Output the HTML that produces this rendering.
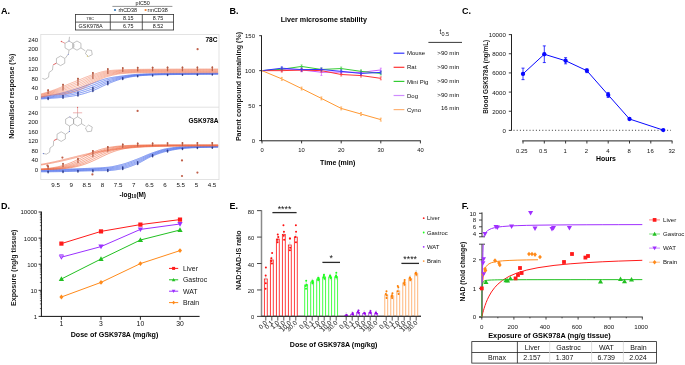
<!DOCTYPE html>
<html><head><meta charset="utf-8"><style>
html,body{margin:0;padding:0;background:#fff;}
body{width:685px;height:365px;overflow:hidden;}
svg{display:block;font-family:"Liberation Sans", sans-serif;will-change:transform;filter:blur(0.3px);}
</style></head><body>
<svg width="685" height="365" viewBox="0 0 685 365">
<defs>
<clipPath id="clipA"><rect x="41" y="34.6" width="177.8" height="144.8"/></clipPath>
<clipPath id="clipFL"><rect x="481" y="244.5" width="170" height="73"/></clipPath>
<clipPath id="clipFU"><rect x="481" y="205" width="170" height="32"/></clipPath>
</defs>
<rect width="685" height="365" fill="#fff"/>
<text x="1" y="14.22" font-size="9" text-anchor="start" font-weight="bold" fill="#000" >A.</text>
<text x="229.4" y="14.22" font-size="9" text-anchor="start" font-weight="bold" fill="#000" >B.</text>
<text x="462" y="14.22" font-size="9" text-anchor="start" font-weight="bold" fill="#000" >C.</text>
<text x="1" y="209.22" font-size="9" text-anchor="start" font-weight="bold" fill="#000" >D.</text>
<text x="229.4" y="209.22" font-size="9" text-anchor="start" font-weight="bold" fill="#000" >E.</text>
<text x="461.7" y="208.72" font-size="9" text-anchor="start" font-weight="bold" fill="#000" >F.</text>
<text x="142.6" y="4.53" font-size="5.4" text-anchor="middle" fill="#111" >pIC50</text>
<line x1="112.4" y1="6.4" x2="172.4" y2="6.4" stroke="#8a8a8a" stroke-width="0.9" />
<circle cx="115" cy="10" r="1.1" fill="#2E75B6"/>
<text x="118.4" y="11.93" font-size="5.4" text-anchor="start" fill="#111" >rhCD38</text>
<circle cx="145.6" cy="10" r="1.1" fill="#ED7D31"/>
<text x="147.6" y="11.93" font-size="5.4" text-anchor="start" fill="#111" >rmCD38</text>
<rect x="75.4" y="14.4" width="98.2" height="15.6" fill="none" stroke="#333" stroke-width="0.8" />
<line x1="75.4" y1="22.1" x2="173.6" y2="22.1" stroke="#333" stroke-width="0.8" />
<line x1="110.3" y1="14.4" x2="110.3" y2="30" stroke="#333" stroke-width="0.8" />
<line x1="142.3" y1="14.4" x2="142.3" y2="30" stroke="#333" stroke-width="0.8" />
<text x="90.2" y="19.7" font-size="4.2" text-anchor="middle" fill="#111" >78C</text>
<text x="90.6" y="27.93" font-size="5.4" text-anchor="middle" fill="#111" >GSK978A</text>
<text x="128.3" y="20.13" font-size="5.4" text-anchor="middle" fill="#111" >8.15</text>
<text x="158" y="20.13" font-size="5.4" text-anchor="middle" fill="#111" >8.75</text>
<text x="128.3" y="27.93" font-size="5.4" text-anchor="middle" fill="#111" >6.75</text>
<text x="158" y="27.93" font-size="5.4" text-anchor="middle" fill="#111" >8.52</text>
<rect x="40.8" y="34.4" width="178.2" height="145.2" fill="none" stroke="#dcdcdc" stroke-width="0.8" />
<line x1="40.8" y1="107.2" x2="219" y2="107.2" stroke="#dcdcdc" stroke-width="0.8" />
<text x="38.2" y="41.75" font-size="6" text-anchor="end" fill="#111" >240</text>
<text x="38.2" y="114.75" font-size="6" text-anchor="end" fill="#111" >240</text>
<text x="38.2" y="51.48" font-size="6" text-anchor="end" fill="#111" >200</text>
<text x="38.2" y="124.25" font-size="6" text-anchor="end" fill="#111" >200</text>
<text x="38.2" y="61.21" font-size="6" text-anchor="end" fill="#111" >160</text>
<text x="38.2" y="133.75" font-size="6" text-anchor="end" fill="#111" >160</text>
<text x="38.2" y="70.95" font-size="6" text-anchor="end" fill="#111" >120</text>
<text x="38.2" y="143.25" font-size="6" text-anchor="end" fill="#111" >120</text>
<text x="38.2" y="80.68" font-size="6" text-anchor="end" fill="#111" >80</text>
<text x="38.2" y="152.75" font-size="6" text-anchor="end" fill="#111" >80</text>
<text x="38.2" y="90.41" font-size="6" text-anchor="end" fill="#111" >40</text>
<text x="38.2" y="162.25" font-size="6" text-anchor="end" fill="#111" >40</text>
<text x="38.2" y="100.15" font-size="6" text-anchor="end" fill="#111" >0</text>
<text x="38.2" y="171.75" font-size="6" text-anchor="end" fill="#111" >0</text>
<text x="55.6" y="187.42" font-size="6.2" text-anchor="middle" fill="#111" >9.5</text>
<text x="71.24" y="187.42" font-size="6.2" text-anchor="middle" fill="#111" >9</text>
<text x="86.88" y="187.42" font-size="6.2" text-anchor="middle" fill="#111" >8.5</text>
<text x="102.52" y="187.42" font-size="6.2" text-anchor="middle" fill="#111" >8</text>
<text x="118.16" y="187.42" font-size="6.2" text-anchor="middle" fill="#111" >7.5</text>
<text x="133.8" y="187.42" font-size="6.2" text-anchor="middle" fill="#111" >7</text>
<text x="149.44" y="187.42" font-size="6.2" text-anchor="middle" fill="#111" >6.5</text>
<text x="165.08" y="187.42" font-size="6.2" text-anchor="middle" fill="#111" >6</text>
<text x="180.72" y="187.42" font-size="6.2" text-anchor="middle" fill="#111" >5.5</text>
<text x="196.36" y="187.42" font-size="6.2" text-anchor="middle" fill="#111" >5</text>
<text x="212" y="187.42" font-size="6.2" text-anchor="middle" fill="#111" >4.5</text>
<text x="132.8" y="196.69" font-size="6.4" text-anchor="middle" font-weight="bold" fill="#000" >-log<tspan font-size="4.6" dy="1.6">10</tspan><tspan dy="-1.6">(M)</tspan></text>
<text x="14.04" y="96.2" font-size="7.1" text-anchor="middle" font-weight="bold" fill="#1a1a1a" transform="rotate(-90 14.04 96.2)">Normalised response (%)</text>
<text x="217.5" y="42.16" font-size="6.6" text-anchor="end" font-weight="bold" fill="#000" >78C</text>
<text x="218.5" y="123.16" font-size="6.6" text-anchor="end" font-weight="bold" fill="#000" >GSK978A</text>
<g clip-path="url(#clipA)">
<path d="M41.10,98.98 L41.85,98.94 L42.60,98.89 L43.35,98.84 L44.10,98.79 L44.85,98.74 L45.60,98.69 L46.35,98.64 L47.10,98.59 L47.85,98.54 L48.60,98.48 L49.35,98.43 L50.10,98.37 L50.85,98.32 L51.60,98.26 L52.35,98.20 L53.10,98.15 L53.85,98.09 L54.60,98.03 L55.35,97.97 L56.10,97.91 L56.85,97.86 L57.60,97.80 L58.35,97.73 L59.10,97.67 L59.85,97.61 L60.60,97.54 L61.35,97.47 L62.10,97.39 L62.85,97.31 L63.60,97.23 L64.35,97.15 L65.10,97.06 L65.85,96.97 L66.60,96.88 L67.35,96.78 L68.10,96.69 L68.85,96.59 L69.60,96.48 L70.35,96.38 L71.10,96.27 L71.85,96.16 L72.60,96.04 L73.35,95.92 L74.10,95.79 L74.85,95.67 L75.60,95.53 L76.35,95.40 L77.10,95.26 L77.85,95.11 L78.60,94.96 L79.35,94.79 L80.10,94.62 L80.85,94.43 L81.60,94.24 L82.35,94.04 L83.10,93.83 L83.85,93.62 L84.60,93.40 L85.35,93.17 L86.10,92.94 L86.85,92.70 L87.60,92.45 L88.35,92.20 L89.10,91.95 L89.85,91.69 L90.60,91.43 L91.35,91.17 L92.10,90.91 L92.85,90.64 L93.60,90.35 L94.35,90.05 L95.10,89.73 L95.85,89.40 L96.60,89.06 L97.35,88.71 L98.10,88.36 L98.85,87.99 L99.60,87.63 L100.35,87.26 L101.10,86.89 L101.85,86.52 L102.60,86.16 L103.35,85.80 L104.10,85.44 L104.85,85.09 L105.60,84.76 L106.35,84.43 L107.10,84.12 L107.85,83.82 L108.60,83.52 L109.35,83.22 L110.10,82.92 L110.85,82.62 L111.60,82.32 L112.35,82.02 L113.10,81.73 L113.85,81.44 L114.60,81.16 L115.35,80.88 L116.10,80.61 L116.85,80.35 L117.60,80.09 L118.35,79.84 L119.10,79.61 L119.85,79.38 L120.60,79.17 L121.35,78.96 L122.10,78.78 L122.85,78.59 L123.60,78.41 L124.35,78.24 L125.10,78.06 L125.85,77.89 L126.60,77.73 L127.35,77.56 L128.10,77.41 L128.85,77.25 L129.60,77.10 L130.35,76.96 L131.10,76.83 L131.85,76.70 L132.60,76.57 L133.35,76.46 L134.10,76.35 L134.85,76.25 L135.60,76.15 L136.35,76.07 L137.10,75.99 L137.85,75.92 L138.60,75.85 L139.35,75.78 L140.10,75.72 L140.85,75.65 L141.60,75.59 L142.35,75.53 L143.10,75.48 L143.85,75.42 L144.60,75.37 L145.35,75.32 L146.10,75.28 L146.85,75.23 L147.60,75.19 L148.35,75.15 L149.10,75.12 L149.85,75.08 L150.60,75.05 L151.35,75.02 L152.10,75.00 L152.85,74.97 L153.60,74.95 L154.35,74.92 L155.10,74.90 L155.85,74.88 L156.60,74.86 L157.35,74.84 L158.10,74.82 L158.85,74.80 L159.60,74.78 L160.35,74.77 L161.10,74.75 L161.85,74.73 L162.60,74.72 L163.35,74.71 L164.10,74.69 L164.85,74.68 L165.60,74.66 L166.35,74.65 L167.10,74.64 L167.85,74.63 L168.60,74.62 L169.35,74.61 L170.10,74.60 L170.85,74.59 L171.60,74.58 L172.35,74.57 L173.10,74.56 L173.85,74.55 L174.60,74.54 L175.35,74.53 L176.10,74.52 L176.85,74.51 L177.60,74.50 L178.35,74.50 L179.10,74.49 L179.85,74.48 L180.60,74.47 L181.35,74.46 L182.10,74.45 L182.85,74.44 L183.60,74.43 L184.35,74.42 L185.10,74.42 L185.85,74.41 L186.60,74.40 L187.35,74.39 L188.10,74.38 L188.85,74.38 L189.60,74.37 L190.35,74.36 L191.10,74.35 L191.85,74.35 L192.60,74.34 L193.35,74.33 L194.10,74.32 L194.85,74.32 L195.60,74.31 L196.35,74.30 L197.10,74.30 L197.85,74.29 L198.60,74.29 L199.35,74.28 L200.10,74.28 L200.85,74.27 L201.60,74.26 L202.35,74.26 L203.10,74.25 L203.85,74.25 L204.60,74.24 L205.35,74.24 L206.10,74.24 L206.85,74.23 L207.60,74.23 L208.35,74.23 L209.10,74.22 L209.85,74.22 L210.60,74.22 L211.35,74.21 L212.10,74.21 L212.85,74.21 L213.60,74.21 L214.35,74.20 L215.10,74.20 L215.85,74.20 L216.60,74.20 L217.35,74.20 L218.10,74.20" fill="none" stroke="#5877EE" stroke-width="0.8" opacity="1.0"/>
<path d="M41.10,98.43 L41.85,98.37 L42.60,98.32 L43.35,98.26 L44.10,98.20 L44.85,98.13 L45.60,98.07 L46.35,98.00 L47.10,97.93 L47.85,97.87 L48.60,97.80 L49.35,97.72 L50.10,97.65 L50.85,97.58 L51.60,97.50 L52.35,97.43 L53.10,97.35 L53.85,97.27 L54.60,97.19 L55.35,97.11 L56.10,97.03 L56.85,96.95 L57.60,96.86 L58.35,96.77 L59.10,96.68 L59.85,96.59 L60.60,96.49 L61.35,96.39 L62.10,96.29 L62.85,96.18 L63.60,96.07 L64.35,95.96 L65.10,95.84 L65.85,95.73 L66.60,95.61 L67.35,95.48 L68.10,95.36 L68.85,95.23 L69.60,95.10 L70.35,94.97 L71.10,94.83 L71.85,94.69 L72.60,94.55 L73.35,94.40 L74.10,94.25 L74.85,94.10 L75.60,93.94 L76.35,93.78 L77.10,93.62 L77.85,93.45 L78.60,93.27 L79.35,93.09 L80.10,92.89 L80.85,92.69 L81.60,92.48 L82.35,92.27 L83.10,92.05 L83.85,91.82 L84.60,91.59 L85.35,91.35 L86.10,91.11 L86.85,90.86 L87.60,90.61 L88.35,90.36 L89.10,90.10 L89.85,89.84 L90.60,89.58 L91.35,89.32 L92.10,89.06 L92.85,88.79 L93.60,88.51 L94.35,88.21 L95.10,87.91 L95.85,87.59 L96.60,87.27 L97.35,86.94 L98.10,86.60 L98.85,86.26 L99.60,85.92 L100.35,85.57 L101.10,85.23 L101.85,84.89 L102.60,84.55 L103.35,84.22 L104.10,83.90 L104.85,83.58 L105.60,83.28 L106.35,82.99 L107.10,82.71 L107.85,82.44 L108.60,82.18 L109.35,81.91 L110.10,81.65 L110.85,81.39 L111.60,81.13 L112.35,80.87 L113.10,80.62 L113.85,80.37 L114.60,80.13 L115.35,79.89 L116.10,79.66 L116.85,79.44 L117.60,79.22 L118.35,79.01 L119.10,78.80 L119.85,78.61 L120.60,78.42 L121.35,78.24 L122.10,78.08 L122.85,77.92 L123.60,77.76 L124.35,77.60 L125.10,77.45 L125.85,77.30 L126.60,77.15 L127.35,77.00 L128.10,76.86 L128.85,76.72 L129.60,76.59 L130.35,76.47 L131.10,76.34 L131.85,76.23 L132.60,76.12 L133.35,76.01 L134.10,75.91 L134.85,75.82 L135.60,75.74 L136.35,75.66 L137.10,75.59 L137.85,75.53 L138.60,75.46 L139.35,75.40 L140.10,75.34 L140.85,75.29 L141.60,75.23 L142.35,75.18 L143.10,75.13 L143.85,75.09 L144.60,75.04 L145.35,75.00 L146.10,74.95 L146.85,74.92 L147.60,74.88 L148.35,74.84 L149.10,74.81 L149.85,74.78 L150.60,74.75 L151.35,74.72 L152.10,74.70 L152.85,74.67 L153.60,74.65 L154.35,74.63 L155.10,74.60 L155.85,74.58 L156.60,74.56 L157.35,74.54 L158.10,74.52 L158.85,74.50 L159.60,74.49 L160.35,74.47 L161.10,74.45 L161.85,74.43 L162.60,74.42 L163.35,74.40 L164.10,74.39 L164.85,74.38 L165.60,74.36 L166.35,74.35 L167.10,74.34 L167.85,74.33 L168.60,74.32 L169.35,74.31 L170.10,74.30 L170.85,74.29 L171.60,74.28 L172.35,74.27 L173.10,74.26 L173.85,74.26 L174.60,74.25 L175.35,74.24 L176.10,74.23 L176.85,74.22 L177.60,74.21 L178.35,74.21 L179.10,74.20 L179.85,74.19 L180.60,74.18 L181.35,74.17 L182.10,74.17 L182.85,74.16 L183.60,74.15 L184.35,74.14 L185.10,74.14 L185.85,74.13 L186.60,74.12 L187.35,74.12 L188.10,74.11 L188.85,74.10 L189.60,74.10 L190.35,74.09 L191.10,74.08 L191.85,74.08 L192.60,74.07 L193.35,74.06 L194.10,74.06 L194.85,74.05 L195.60,74.05 L196.35,74.04 L197.10,74.03 L197.85,74.03 L198.60,74.02 L199.35,74.02 L200.10,74.01 L200.85,74.01 L201.60,74.00 L202.35,74.00 L203.10,74.00 L203.85,73.99 L204.60,73.99 L205.35,73.98 L206.10,73.98 L206.85,73.98 L207.60,73.97 L208.35,73.97 L209.10,73.97 L209.85,73.97 L210.60,73.96 L211.35,73.96 L212.10,73.96 L212.85,73.96 L213.60,73.96 L214.35,73.95 L215.10,73.95 L215.85,73.95 L216.60,73.95 L217.35,73.95 L218.10,73.95" fill="none" stroke="#5877EE" stroke-width="0.8" opacity="1.0"/>
<path d="M41.10,97.87 L41.85,97.81 L42.60,97.74 L43.35,97.67 L44.10,97.60 L44.85,97.52 L45.60,97.44 L46.35,97.36 L47.10,97.28 L47.85,97.20 L48.60,97.11 L49.35,97.02 L50.10,96.93 L50.85,96.84 L51.60,96.74 L52.35,96.65 L53.10,96.55 L53.85,96.45 L54.60,96.35 L55.35,96.25 L56.10,96.15 L56.85,96.04 L57.60,95.93 L58.35,95.81 L59.10,95.69 L59.85,95.57 L60.60,95.44 L61.35,95.31 L62.10,95.18 L62.85,95.05 L63.60,94.91 L64.35,94.77 L65.10,94.63 L65.85,94.48 L66.60,94.34 L67.35,94.18 L68.10,94.03 L68.85,93.88 L69.60,93.72 L70.35,93.56 L71.10,93.39 L71.85,93.22 L72.60,93.05 L73.35,92.88 L74.10,92.71 L74.85,92.53 L75.60,92.35 L76.35,92.16 L77.10,91.98 L77.85,91.78 L78.60,91.59 L79.35,91.38 L80.10,91.17 L80.85,90.95 L81.60,90.73 L82.35,90.50 L83.10,90.26 L83.85,90.02 L84.60,89.78 L85.35,89.53 L86.10,89.28 L86.85,89.02 L87.60,88.77 L88.35,88.51 L89.10,88.25 L89.85,87.99 L90.60,87.73 L91.35,87.47 L92.10,87.20 L92.85,86.94 L93.60,86.67 L94.35,86.38 L95.10,86.09 L95.85,85.78 L96.60,85.48 L97.35,85.16 L98.10,84.84 L98.85,84.53 L99.60,84.21 L100.35,83.89 L101.10,83.57 L101.85,83.26 L102.60,82.95 L103.35,82.65 L104.10,82.35 L104.85,82.07 L105.60,81.80 L106.35,81.54 L107.10,81.29 L107.85,81.06 L108.60,80.83 L109.35,80.60 L110.10,80.38 L110.85,80.16 L111.60,79.94 L112.35,79.72 L113.10,79.51 L113.85,79.31 L114.60,79.10 L115.35,78.91 L116.10,78.71 L116.85,78.53 L117.60,78.34 L118.35,78.17 L119.10,78.00 L119.85,77.83 L120.60,77.68 L121.35,77.52 L122.10,77.38 L122.85,77.24 L123.60,77.10 L124.35,76.97 L125.10,76.83 L125.85,76.70 L126.60,76.57 L127.35,76.44 L128.10,76.32 L128.85,76.20 L129.60,76.08 L130.35,75.97 L131.10,75.86 L131.85,75.76 L132.60,75.66 L133.35,75.56 L134.10,75.48 L134.85,75.40 L135.60,75.32 L136.35,75.25 L137.10,75.19 L137.85,75.13 L138.60,75.08 L139.35,75.03 L140.10,74.97 L140.85,74.93 L141.60,74.88 L142.35,74.83 L143.10,74.79 L143.85,74.75 L144.60,74.71 L145.35,74.67 L146.10,74.63 L146.85,74.60 L147.60,74.56 L148.35,74.53 L149.10,74.50 L149.85,74.47 L150.60,74.45 L151.35,74.42 L152.10,74.40 L152.85,74.37 L153.60,74.35 L154.35,74.33 L155.10,74.31 L155.85,74.29 L156.60,74.26 L157.35,74.24 L158.10,74.22 L158.85,74.20 L159.60,74.19 L160.35,74.17 L161.10,74.15 L161.85,74.13 L162.60,74.12 L163.35,74.10 L164.10,74.09 L164.85,74.07 L165.60,74.06 L166.35,74.05 L167.10,74.04 L167.85,74.03 L168.60,74.02 L169.35,74.01 L170.10,74.00 L170.85,73.99 L171.60,73.98 L172.35,73.98 L173.10,73.97 L173.85,73.96 L174.60,73.95 L175.35,73.95 L176.10,73.94 L176.85,73.93 L177.60,73.92 L178.35,73.92 L179.10,73.91 L179.85,73.90 L180.60,73.90 L181.35,73.89 L182.10,73.88 L182.85,73.88 L183.60,73.87 L184.35,73.86 L185.10,73.86 L185.85,73.85 L186.60,73.85 L187.35,73.84 L188.10,73.83 L188.85,73.83 L189.60,73.82 L190.35,73.82 L191.10,73.81 L191.85,73.81 L192.60,73.80 L193.35,73.79 L194.10,73.79 L194.85,73.78 L195.60,73.78 L196.35,73.78 L197.10,73.77 L197.85,73.77 L198.60,73.76 L199.35,73.76 L200.10,73.75 L200.85,73.75 L201.60,73.75 L202.35,73.74 L203.10,73.74 L203.85,73.74 L204.60,73.73 L205.35,73.73 L206.10,73.73 L206.85,73.72 L207.60,73.72 L208.35,73.72 L209.10,73.72 L209.85,73.71 L210.60,73.71 L211.35,73.71 L212.10,73.71 L212.85,73.71 L213.60,73.70 L214.35,73.70 L215.10,73.70 L215.85,73.70 L216.60,73.70 L217.35,73.70 L218.10,73.70" fill="none" stroke="#5877EE" stroke-width="0.8" opacity="1.0"/>
<path d="M41.10,97.32 L41.85,97.25 L42.60,97.17 L43.35,97.09 L44.10,97.00 L44.85,96.91 L45.60,96.82 L46.35,96.72 L47.10,96.63 L47.85,96.53 L48.60,96.42 L49.35,96.32 L50.10,96.21 L50.85,96.10 L51.60,95.98 L52.35,95.87 L53.10,95.75 L53.85,95.63 L54.60,95.51 L55.35,95.39 L56.10,95.27 L56.85,95.13 L57.60,94.99 L58.35,94.85 L59.10,94.70 L59.85,94.55 L60.60,94.40 L61.35,94.24 L62.10,94.08 L62.85,93.92 L63.60,93.75 L64.35,93.58 L65.10,93.41 L65.85,93.24 L66.60,93.06 L67.35,92.89 L68.10,92.70 L68.85,92.52 L69.60,92.33 L70.35,92.14 L71.10,91.95 L71.85,91.76 L72.60,91.56 L73.35,91.36 L74.10,91.16 L74.85,90.96 L75.60,90.75 L76.35,90.55 L77.10,90.33 L77.85,90.12 L78.60,89.90 L79.35,89.68 L80.10,89.45 L80.85,89.21 L81.60,88.97 L82.35,88.72 L83.10,88.47 L83.85,88.22 L84.60,87.97 L85.35,87.71 L86.10,87.45 L86.85,87.19 L87.60,86.93 L88.35,86.66 L89.10,86.40 L89.85,86.14 L90.60,85.87 L91.35,85.61 L92.10,85.35 L92.85,85.09 L93.60,84.82 L94.35,84.55 L95.10,84.26 L95.85,83.98 L96.60,83.68 L97.35,83.39 L98.10,83.09 L98.85,82.79 L99.60,82.49 L100.35,82.20 L101.10,81.91 L101.85,81.62 L102.60,81.35 L103.35,81.07 L104.10,80.81 L104.85,80.56 L105.60,80.32 L106.35,80.09 L107.10,79.88 L107.85,79.68 L108.60,79.49 L109.35,79.30 L110.10,79.11 L110.85,78.93 L111.60,78.75 L112.35,78.58 L113.10,78.41 L113.85,78.24 L114.60,78.08 L115.35,77.92 L116.10,77.77 L116.85,77.62 L117.60,77.47 L118.35,77.33 L119.10,77.19 L119.85,77.06 L120.60,76.93 L121.35,76.80 L122.10,76.68 L122.85,76.57 L123.60,76.45 L124.35,76.33 L125.10,76.22 L125.85,76.10 L126.60,75.99 L127.35,75.88 L128.10,75.77 L128.85,75.67 L129.60,75.57 L130.35,75.47 L131.10,75.38 L131.85,75.29 L132.60,75.20 L133.35,75.12 L134.10,75.04 L134.85,74.97 L135.60,74.91 L136.35,74.85 L137.10,74.79 L137.85,74.74 L138.60,74.70 L139.35,74.65 L140.10,74.60 L140.85,74.56 L141.60,74.52 L142.35,74.48 L143.10,74.44 L143.85,74.41 L144.60,74.37 L145.35,74.34 L146.10,74.31 L146.85,74.28 L147.60,74.25 L148.35,74.22 L149.10,74.19 L149.85,74.17 L150.60,74.14 L151.35,74.12 L152.10,74.10 L152.85,74.07 L153.60,74.05 L154.35,74.03 L155.10,74.01 L155.85,73.99 L156.60,73.97 L157.35,73.95 L158.10,73.93 L158.85,73.91 L159.60,73.89 L160.35,73.87 L161.10,73.85 L161.85,73.83 L162.60,73.82 L163.35,73.80 L164.10,73.79 L164.85,73.77 L165.60,73.76 L166.35,73.75 L167.10,73.73 L167.85,73.72 L168.60,73.71 L169.35,73.71 L170.10,73.70 L170.85,73.69 L171.60,73.69 L172.35,73.68 L173.10,73.67 L173.85,73.67 L174.60,73.66 L175.35,73.65 L176.10,73.65 L176.85,73.64 L177.60,73.63 L178.35,73.63 L179.10,73.62 L179.85,73.62 L180.60,73.61 L181.35,73.61 L182.10,73.60 L182.85,73.59 L183.60,73.59 L184.35,73.58 L185.10,73.58 L185.85,73.57 L186.60,73.57 L187.35,73.56 L188.10,73.56 L188.85,73.55 L189.60,73.55 L190.35,73.54 L191.10,73.54 L191.85,73.53 L192.60,73.53 L193.35,73.53 L194.10,73.52 L194.85,73.52 L195.60,73.51 L196.35,73.51 L197.10,73.51 L197.85,73.50 L198.60,73.50 L199.35,73.50 L200.10,73.49 L200.85,73.49 L201.60,73.49 L202.35,73.48 L203.10,73.48 L203.85,73.48 L204.60,73.48 L205.35,73.47 L206.10,73.47 L206.85,73.47 L207.60,73.47 L208.35,73.46 L209.10,73.46 L209.85,73.46 L210.60,73.46 L211.35,73.46 L212.10,73.46 L212.85,73.45 L213.60,73.45 L214.35,73.45 L215.10,73.45 L215.85,73.45 L216.60,73.45 L217.35,73.45 L218.10,73.45" fill="none" stroke="#5877EE" stroke-width="0.8" opacity="1.0"/>
<path d="M41.10,96.77 L41.85,96.68 L42.60,96.60 L43.35,96.50 L44.10,96.40 L44.85,96.30 L45.60,96.20 L46.35,96.09 L47.10,95.97 L47.85,95.86 L48.60,95.74 L49.35,95.61 L50.10,95.48 L50.85,95.36 L51.60,95.22 L52.35,95.09 L53.10,94.95 L53.85,94.82 L54.60,94.68 L55.35,94.53 L56.10,94.38 L56.85,94.22 L57.60,94.06 L58.35,93.89 L59.10,93.71 L59.85,93.53 L60.60,93.35 L61.35,93.16 L62.10,92.97 L62.85,92.79 L63.60,92.59 L64.35,92.40 L65.10,92.20 L65.85,92.00 L66.60,91.79 L67.35,91.59 L68.10,91.38 L68.85,91.16 L69.60,90.95 L70.35,90.73 L71.10,90.51 L71.85,90.29 L72.60,90.07 L73.35,89.85 L74.10,89.62 L74.85,89.39 L75.60,89.16 L76.35,88.93 L77.10,88.69 L77.85,88.46 L78.60,88.22 L79.35,87.97 L80.10,87.72 L80.85,87.47 L81.60,87.21 L82.35,86.95 L83.10,86.69 L83.85,86.42 L84.60,86.16 L85.35,85.89 L86.10,85.62 L86.85,85.35 L87.60,85.08 L88.35,84.82 L89.10,84.55 L89.85,84.28 L90.60,84.02 L91.35,83.76 L92.10,83.50 L92.85,83.25 L93.60,82.98 L94.35,82.72 L95.10,82.44 L95.85,82.17 L96.60,81.89 L97.35,81.61 L98.10,81.33 L98.85,81.06 L99.60,80.78 L100.35,80.51 L101.10,80.25 L101.85,79.99 L102.60,79.74 L103.35,79.50 L104.10,79.27 L104.85,79.05 L105.60,78.84 L106.35,78.65 L107.10,78.47 L107.85,78.30 L108.60,78.14 L109.35,77.99 L110.10,77.84 L110.85,77.70 L111.60,77.56 L112.35,77.43 L113.10,77.30 L113.85,77.17 L114.60,77.05 L115.35,76.93 L116.10,76.82 L116.85,76.71 L117.60,76.60 L118.35,76.49 L119.10,76.39 L119.85,76.28 L120.60,76.18 L121.35,76.08 L122.10,75.99 L122.85,75.89 L123.60,75.79 L124.35,75.70 L125.10,75.60 L125.85,75.51 L126.60,75.41 L127.35,75.32 L128.10,75.23 L128.85,75.14 L129.60,75.05 L130.35,74.97 L131.10,74.89 L131.85,74.82 L132.60,74.74 L133.35,74.67 L134.10,74.61 L134.85,74.55 L135.60,74.49 L136.35,74.44 L137.10,74.39 L137.85,74.35 L138.60,74.31 L139.35,74.27 L140.10,74.23 L140.85,74.20 L141.60,74.16 L142.35,74.13 L143.10,74.10 L143.85,74.07 L144.60,74.04 L145.35,74.01 L146.10,73.99 L146.85,73.96 L147.60,73.93 L148.35,73.91 L149.10,73.89 L149.85,73.86 L150.60,73.84 L151.35,73.82 L152.10,73.80 L152.85,73.78 L153.60,73.75 L154.35,73.73 L155.10,73.71 L155.85,73.69 L156.60,73.67 L157.35,73.65 L158.10,73.63 L158.85,73.61 L159.60,73.59 L160.35,73.57 L161.10,73.55 L161.85,73.53 L162.60,73.52 L163.35,73.50 L164.10,73.48 L164.85,73.47 L165.60,73.46 L166.35,73.44 L167.10,73.43 L167.85,73.42 L168.60,73.41 L169.35,73.41 L170.10,73.40 L170.85,73.39 L171.60,73.39 L172.35,73.38 L173.10,73.38 L173.85,73.37 L174.60,73.37 L175.35,73.36 L176.10,73.36 L176.85,73.35 L177.60,73.35 L178.35,73.34 L179.10,73.34 L179.85,73.33 L180.60,73.33 L181.35,73.32 L182.10,73.32 L182.85,73.31 L183.60,73.31 L184.35,73.30 L185.10,73.30 L185.85,73.29 L186.60,73.29 L187.35,73.29 L188.10,73.28 L188.85,73.28 L189.60,73.28 L190.35,73.27 L191.10,73.27 L191.85,73.26 L192.60,73.26 L193.35,73.26 L194.10,73.25 L194.85,73.25 L195.60,73.25 L196.35,73.25 L197.10,73.24 L197.85,73.24 L198.60,73.24 L199.35,73.23 L200.10,73.23 L200.85,73.23 L201.60,73.23 L202.35,73.22 L203.10,73.22 L203.85,73.22 L204.60,73.22 L205.35,73.22 L206.10,73.21 L206.85,73.21 L207.60,73.21 L208.35,73.21 L209.10,73.21 L209.85,73.21 L210.60,73.21 L211.35,73.21 L212.10,73.20 L212.85,73.20 L213.60,73.20 L214.35,73.20 L215.10,73.20 L215.85,73.20 L216.60,73.20 L217.35,73.20 L218.10,73.20" fill="none" stroke="#5877EE" stroke-width="0.8" opacity="1.0"/>
<path d="M41.10,97.51 L41.85,97.29 L42.60,97.07 L43.35,96.86 L44.10,96.66 L44.85,96.47 L45.60,96.28 L46.35,96.10 L47.10,95.93 L47.85,95.77 L48.60,95.62 L49.35,95.47 L50.10,95.34 L50.85,95.21 L51.60,95.10 L52.35,94.99 L53.10,94.89 L53.85,94.81 L54.60,94.74 L55.35,94.67 L56.10,94.62 L56.85,94.58 L57.60,94.54 L58.35,94.51 L59.10,94.48 L59.85,94.44 L60.60,94.40 L61.35,94.35 L62.10,94.29 L62.85,94.22 L63.60,94.13 L64.35,94.02 L65.10,93.90 L65.85,93.77 L66.60,93.63 L67.35,93.47 L68.10,93.30 L68.85,93.13 L69.60,92.94 L70.35,92.74 L71.10,92.54 L71.85,92.33 L72.60,92.11 L73.35,91.88 L74.10,91.65 L74.85,91.42 L75.60,91.18 L76.35,90.94 L77.10,90.70 L77.85,90.45 L78.60,90.17 L79.35,89.87 L80.10,89.54 L80.85,89.19 L81.60,88.83 L82.35,88.44 L83.10,88.05 L83.85,87.64 L84.60,87.22 L85.35,86.80 L86.10,86.38 L86.85,85.95 L87.60,85.52 L88.35,85.10 L89.10,84.69 L89.85,84.28 L90.60,83.89 L91.35,83.50 L92.10,83.14 L92.85,82.79 L93.60,82.44 L94.35,82.08 L95.10,81.72 L95.85,81.36 L96.60,81.00 L97.35,80.64 L98.10,80.29 L98.85,79.93 L99.60,79.59 L100.35,79.25 L101.10,78.91 L101.85,78.59 L102.60,78.28 L103.35,77.98 L104.10,77.69 L104.85,77.41 L105.60,77.15 L106.35,76.91 L107.10,76.68 L107.85,76.48 L108.60,76.27 L109.35,76.07 L110.10,75.87 L110.85,75.67 L111.60,75.48 L112.35,75.29 L113.10,75.11 L113.85,74.94 L114.60,74.77 L115.35,74.61 L116.10,74.46 L116.85,74.31 L117.60,74.18 L118.35,74.05 L119.10,73.94 L119.85,73.83 L120.60,73.74 L121.35,73.66 L122.10,73.59 L122.85,73.53 L123.60,73.47 L124.35,73.41 L125.10,73.35 L125.85,73.29 L126.60,73.23 L127.35,73.18 L128.10,73.13 L128.85,73.08 L129.60,73.03 L130.35,72.99 L131.10,72.95 L131.85,72.92 L132.60,72.89 L133.35,72.86 L134.10,72.84 L134.85,72.82 L135.60,72.81 L136.35,72.80 L137.10,72.80 L137.85,72.80 L138.60,72.80 L139.35,72.80 L140.10,72.80 L140.85,72.80 L141.60,72.80 L142.35,72.80 L143.10,72.80 L143.85,72.80 L144.60,72.80 L145.35,72.80 L146.10,72.80 L146.85,72.80 L147.60,72.80 L148.35,72.80 L149.10,72.80 L149.85,72.80 L150.60,72.80 L151.35,72.80 L152.10,72.80 L152.85,72.80 L153.60,72.80 L154.35,72.80 L155.10,72.80 L155.85,72.80 L156.60,72.80 L157.35,72.80 L158.10,72.80 L158.85,72.80 L159.60,72.80 L160.35,72.80 L161.10,72.80 L161.85,72.80 L162.60,72.80 L163.35,72.80 L164.10,72.80 L164.85,72.80 L165.60,72.80 L166.35,72.80 L167.10,72.80 L167.85,72.80 L168.60,72.80 L169.35,72.80 L170.10,72.80 L170.85,72.80 L171.60,72.80 L172.35,72.80 L173.10,72.80 L173.85,72.80 L174.60,72.80 L175.35,72.80 L176.10,72.80 L176.85,72.80 L177.60,72.80 L178.35,72.80 L179.10,72.80 L179.85,72.80 L180.60,72.80 L181.35,72.80 L182.10,72.80 L182.85,72.80 L183.60,72.80 L184.35,72.80 L185.10,72.80 L185.85,72.80 L186.60,72.80 L187.35,72.80 L188.10,72.80 L188.85,72.80 L189.60,72.80 L190.35,72.80 L191.10,72.80 L191.85,72.80 L192.60,72.80 L193.35,72.80 L194.10,72.80 L194.85,72.80 L195.60,72.80 L196.35,72.80 L197.10,72.80 L197.85,72.80 L198.60,72.80 L199.35,72.80 L200.10,72.80 L200.85,72.80 L201.60,72.80 L202.35,72.80 L203.10,72.80 L203.85,72.80 L204.60,72.80 L205.35,72.80 L206.10,72.80 L206.85,72.80 L207.60,72.80 L208.35,72.80 L209.10,72.80 L209.85,72.80 L210.60,72.80 L211.35,72.80 L212.10,72.80 L212.85,72.80 L213.60,72.80 L214.35,72.80 L215.10,72.80 L215.85,72.80 L216.60,72.80 L217.35,72.80 L218.10,72.80" fill="none" stroke="#F2734F" stroke-width="0.65" opacity="0.8"/>
<path d="M41.10,96.91 L41.85,96.70 L42.60,96.48 L43.35,96.28 L44.10,96.07 L44.85,95.88 L45.60,95.68 L46.35,95.50 L47.10,95.32 L47.85,95.14 L48.60,94.98 L49.35,94.82 L50.10,94.66 L50.85,94.52 L51.60,94.38 L52.35,94.25 L53.10,94.12 L53.85,94.01 L54.60,93.90 L55.35,93.81 L56.10,93.72 L56.85,93.63 L57.60,93.55 L58.35,93.47 L59.10,93.39 L59.85,93.31 L60.60,93.23 L61.35,93.14 L62.10,93.04 L62.85,92.92 L63.60,92.80 L64.35,92.66 L65.10,92.51 L65.85,92.35 L66.60,92.18 L67.35,92.00 L68.10,91.81 L68.85,91.61 L69.60,91.40 L70.35,91.19 L71.10,90.97 L71.85,90.74 L72.60,90.51 L73.35,90.27 L74.10,90.03 L74.85,89.79 L75.60,89.54 L76.35,89.29 L77.10,89.03 L77.85,88.78 L78.60,88.50 L79.35,88.19 L80.10,87.87 L80.85,87.53 L81.60,87.17 L82.35,86.80 L83.10,86.42 L83.85,86.03 L84.60,85.63 L85.35,85.23 L86.10,84.83 L86.85,84.42 L87.60,84.02 L88.35,83.62 L89.10,83.23 L89.85,82.84 L90.60,82.47 L91.35,82.11 L92.10,81.77 L92.85,81.43 L93.60,81.10 L94.35,80.76 L95.10,80.42 L95.85,80.08 L96.60,79.74 L97.35,79.40 L98.10,79.07 L98.85,78.73 L99.60,78.41 L100.35,78.09 L101.10,77.77 L101.85,77.47 L102.60,77.18 L103.35,76.90 L104.10,76.63 L104.85,76.37 L105.60,76.14 L106.35,75.91 L107.10,75.71 L107.85,75.52 L108.60,75.34 L109.35,75.16 L110.10,74.98 L110.85,74.80 L111.60,74.63 L112.35,74.47 L113.10,74.31 L113.85,74.15 L114.60,74.01 L115.35,73.86 L116.10,73.73 L116.85,73.60 L117.60,73.48 L118.35,73.37 L119.10,73.27 L119.85,73.18 L120.60,73.09 L121.35,73.02 L122.10,72.96 L122.85,72.90 L123.60,72.85 L124.35,72.79 L125.10,72.74 L125.85,72.68 L126.60,72.63 L127.35,72.59 L128.10,72.54 L128.85,72.50 L129.60,72.45 L130.35,72.42 L131.10,72.38 L131.85,72.35 L132.60,72.32 L133.35,72.30 L134.10,72.27 L134.85,72.26 L135.60,72.24 L136.35,72.24 L137.10,72.23 L137.85,72.23 L138.60,72.23 L139.35,72.23 L140.10,72.23 L140.85,72.23 L141.60,72.22 L142.35,72.22 L143.10,72.22 L143.85,72.22 L144.60,72.22 L145.35,72.22 L146.10,72.22 L146.85,72.22 L147.60,72.21 L148.35,72.21 L149.10,72.21 L149.85,72.21 L150.60,72.21 L151.35,72.21 L152.10,72.21 L152.85,72.21 L153.60,72.21 L154.35,72.21 L155.10,72.20 L155.85,72.20 L156.60,72.20 L157.35,72.20 L158.10,72.20 L158.85,72.20 L159.60,72.20 L160.35,72.20 L161.10,72.20 L161.85,72.20 L162.60,72.20 L163.35,72.20 L164.10,72.20 L164.85,72.20 L165.60,72.20 L166.35,72.19 L167.10,72.19 L167.85,72.19 L168.60,72.19 L169.35,72.19 L170.10,72.19 L170.85,72.19 L171.60,72.19 L172.35,72.19 L173.10,72.19 L173.85,72.19 L174.60,72.19 L175.35,72.19 L176.10,72.19 L176.85,72.19 L177.60,72.19 L178.35,72.18 L179.10,72.18 L179.85,72.18 L180.60,72.18 L181.35,72.18 L182.10,72.18 L182.85,72.18 L183.60,72.18 L184.35,72.18 L185.10,72.18 L185.85,72.18 L186.60,72.18 L187.35,72.18 L188.10,72.18 L188.85,72.18 L189.60,72.18 L190.35,72.18 L191.10,72.18 L191.85,72.18 L192.60,72.18 L193.35,72.17 L194.10,72.17 L194.85,72.17 L195.60,72.17 L196.35,72.17 L197.10,72.17 L197.85,72.17 L198.60,72.17 L199.35,72.17 L200.10,72.17 L200.85,72.17 L201.60,72.17 L202.35,72.17 L203.10,72.17 L203.85,72.17 L204.60,72.17 L205.35,72.17 L206.10,72.17 L206.85,72.17 L207.60,72.17 L208.35,72.17 L209.10,72.17 L209.85,72.17 L210.60,72.17 L211.35,72.17 L212.10,72.17 L212.85,72.17 L213.60,72.17 L214.35,72.17 L215.10,72.17 L215.85,72.17 L216.60,72.17 L217.35,72.17 L218.10,72.17" fill="none" stroke="#F2734F" stroke-width="0.65" opacity="0.8"/>
<path d="M41.10,96.31 L41.85,96.10 L42.60,95.89 L43.35,95.69 L44.10,95.48 L44.85,95.28 L45.60,95.08 L46.35,94.89 L47.10,94.70 L47.85,94.52 L48.60,94.33 L49.35,94.16 L50.10,93.99 L50.85,93.82 L51.60,93.66 L52.35,93.50 L53.10,93.35 L53.85,93.21 L54.60,93.07 L55.35,92.94 L56.10,92.81 L56.85,92.69 L57.60,92.56 L58.35,92.44 L59.10,92.31 L59.85,92.19 L60.60,92.06 L61.35,91.92 L62.10,91.78 L62.85,91.63 L63.60,91.47 L64.35,91.30 L65.10,91.12 L65.85,90.93 L66.60,90.73 L67.35,90.53 L68.10,90.31 L68.85,90.09 L69.60,89.87 L70.35,89.64 L71.10,89.40 L71.85,89.16 L72.60,88.91 L73.35,88.66 L74.10,88.41 L74.85,88.15 L75.60,87.89 L76.35,87.63 L77.10,87.37 L77.85,87.11 L78.60,86.82 L79.35,86.52 L80.10,86.20 L80.85,85.86 L81.60,85.52 L82.35,85.16 L83.10,84.79 L83.85,84.42 L84.60,84.04 L85.35,83.66 L86.10,83.28 L86.85,82.89 L87.60,82.51 L88.35,82.14 L89.10,81.77 L89.85,81.41 L90.60,81.06 L91.35,80.72 L92.10,80.39 L92.85,80.08 L93.60,79.76 L94.35,79.44 L95.10,79.12 L95.85,78.80 L96.60,78.48 L97.35,78.16 L98.10,77.84 L98.85,77.53 L99.60,77.23 L100.35,76.93 L101.10,76.63 L101.85,76.35 L102.60,76.08 L103.35,75.82 L104.10,75.57 L104.85,75.34 L105.60,75.12 L106.35,74.92 L107.10,74.73 L107.85,74.57 L108.60,74.40 L109.35,74.25 L110.10,74.09 L110.85,73.94 L111.60,73.79 L112.35,73.64 L113.10,73.50 L113.85,73.37 L114.60,73.24 L115.35,73.12 L116.10,73.00 L116.85,72.89 L117.60,72.79 L118.35,72.69 L119.10,72.60 L119.85,72.52 L120.60,72.45 L121.35,72.38 L122.10,72.33 L122.85,72.27 L123.60,72.22 L124.35,72.17 L125.10,72.13 L125.85,72.08 L126.60,72.03 L127.35,71.99 L128.10,71.95 L128.85,71.91 L129.60,71.87 L130.35,71.84 L131.10,71.81 L131.85,71.78 L132.60,71.75 L133.35,71.73 L134.10,71.71 L134.85,71.69 L135.60,71.68 L136.35,71.67 L137.10,71.67 L137.85,71.66 L138.60,71.66 L139.35,71.66 L140.10,71.65 L140.85,71.65 L141.60,71.65 L142.35,71.64 L143.10,71.64 L143.85,71.64 L144.60,71.64 L145.35,71.63 L146.10,71.63 L146.85,71.63 L147.60,71.63 L148.35,71.63 L149.10,71.62 L149.85,71.62 L150.60,71.62 L151.35,71.62 L152.10,71.62 L152.85,71.61 L153.60,71.61 L154.35,71.61 L155.10,71.61 L155.85,71.61 L156.60,71.61 L157.35,71.60 L158.10,71.60 L158.85,71.60 L159.60,71.60 L160.35,71.60 L161.10,71.60 L161.85,71.60 L162.60,71.60 L163.35,71.59 L164.10,71.59 L164.85,71.59 L165.60,71.59 L166.35,71.59 L167.10,71.59 L167.85,71.59 L168.60,71.59 L169.35,71.58 L170.10,71.58 L170.85,71.58 L171.60,71.58 L172.35,71.58 L173.10,71.58 L173.85,71.58 L174.60,71.58 L175.35,71.57 L176.10,71.57 L176.85,71.57 L177.60,71.57 L178.35,71.57 L179.10,71.57 L179.85,71.57 L180.60,71.57 L181.35,71.57 L182.10,71.56 L182.85,71.56 L183.60,71.56 L184.35,71.56 L185.10,71.56 L185.85,71.56 L186.60,71.56 L187.35,71.56 L188.10,71.56 L188.85,71.55 L189.60,71.55 L190.35,71.55 L191.10,71.55 L191.85,71.55 L192.60,71.55 L193.35,71.55 L194.10,71.55 L194.85,71.55 L195.60,71.55 L196.35,71.55 L197.10,71.55 L197.85,71.54 L198.60,71.54 L199.35,71.54 L200.10,71.54 L200.85,71.54 L201.60,71.54 L202.35,71.54 L203.10,71.54 L203.85,71.54 L204.60,71.54 L205.35,71.54 L206.10,71.54 L206.85,71.54 L207.60,71.54 L208.35,71.54 L209.10,71.54 L209.85,71.54 L210.60,71.54 L211.35,71.53 L212.10,71.53 L212.85,71.53 L213.60,71.53 L214.35,71.53 L215.10,71.53 L215.85,71.53 L216.60,71.53 L217.35,71.53 L218.10,71.53" fill="none" stroke="#F2734F" stroke-width="0.65" opacity="0.8"/>
<path d="M41.10,95.72 L41.85,95.51 L42.60,95.30 L43.35,95.10 L44.10,94.89 L44.85,94.69 L45.60,94.49 L46.35,94.28 L47.10,94.08 L47.85,93.89 L48.60,93.69 L49.35,93.50 L50.10,93.31 L50.85,93.12 L51.60,92.94 L52.35,92.76 L53.10,92.58 L53.85,92.41 L54.60,92.24 L55.35,92.07 L56.10,91.91 L56.85,91.74 L57.60,91.57 L58.35,91.41 L59.10,91.23 L59.85,91.06 L60.60,90.89 L61.35,90.71 L62.10,90.53 L62.85,90.34 L63.60,90.14 L64.35,89.94 L65.10,89.73 L65.85,89.51 L66.60,89.29 L67.35,89.06 L68.10,88.82 L68.85,88.58 L69.60,88.33 L70.35,88.08 L71.10,87.83 L71.85,87.57 L72.60,87.31 L73.35,87.05 L74.10,86.78 L74.85,86.52 L75.60,86.25 L76.35,85.98 L77.10,85.71 L77.85,85.43 L78.60,85.15 L79.35,84.84 L80.10,84.53 L80.85,84.20 L81.60,83.86 L82.35,83.52 L83.10,83.17 L83.85,82.81 L84.60,82.45 L85.35,82.09 L86.10,81.73 L86.85,81.36 L87.60,81.01 L88.35,80.65 L89.10,80.31 L89.85,79.97 L90.60,79.64 L91.35,79.32 L92.10,79.02 L92.85,78.72 L93.60,78.43 L94.35,78.13 L95.10,77.83 L95.85,77.52 L96.60,77.22 L97.35,76.92 L98.10,76.62 L98.85,76.33 L99.60,76.04 L100.35,75.76 L101.10,75.49 L101.85,75.23 L102.60,74.98 L103.35,74.74 L104.10,74.51 L104.85,74.30 L105.60,74.10 L106.35,73.92 L107.10,73.76 L107.85,73.61 L108.60,73.47 L109.35,73.33 L110.10,73.20 L110.85,73.07 L111.60,72.94 L112.35,72.82 L113.10,72.70 L113.85,72.58 L114.60,72.47 L115.35,72.37 L116.10,72.27 L116.85,72.18 L117.60,72.09 L118.35,72.01 L119.10,71.93 L119.85,71.86 L120.60,71.80 L121.35,71.74 L122.10,71.69 L122.85,71.65 L123.60,71.60 L124.35,71.56 L125.10,71.52 L125.85,71.48 L126.60,71.44 L127.35,71.40 L128.10,71.36 L128.85,71.33 L129.60,71.29 L130.35,71.26 L131.10,71.23 L131.85,71.21 L132.60,71.18 L133.35,71.16 L134.10,71.14 L134.85,71.13 L135.60,71.12 L136.35,71.11 L137.10,71.10 L137.85,71.09 L138.60,71.09 L139.35,71.08 L140.10,71.08 L140.85,71.08 L141.60,71.07 L142.35,71.07 L143.10,71.06 L143.85,71.06 L144.60,71.06 L145.35,71.05 L146.10,71.05 L146.85,71.05 L147.60,71.04 L148.35,71.04 L149.10,71.04 L149.85,71.03 L150.60,71.03 L151.35,71.03 L152.10,71.02 L152.85,71.02 L153.60,71.02 L154.35,71.02 L155.10,71.01 L155.85,71.01 L156.60,71.01 L157.35,71.01 L158.10,71.01 L158.85,71.00 L159.60,71.00 L160.35,71.00 L161.10,71.00 L161.85,71.00 L162.60,70.99 L163.35,70.99 L164.10,70.99 L164.85,70.99 L165.60,70.99 L166.35,70.98 L167.10,70.98 L167.85,70.98 L168.60,70.98 L169.35,70.98 L170.10,70.97 L170.85,70.97 L171.60,70.97 L172.35,70.97 L173.10,70.97 L173.85,70.96 L174.60,70.96 L175.35,70.96 L176.10,70.96 L176.85,70.96 L177.60,70.96 L178.35,70.95 L179.10,70.95 L179.85,70.95 L180.60,70.95 L181.35,70.95 L182.10,70.95 L182.85,70.94 L183.60,70.94 L184.35,70.94 L185.10,70.94 L185.85,70.94 L186.60,70.94 L187.35,70.93 L188.10,70.93 L188.85,70.93 L189.60,70.93 L190.35,70.93 L191.10,70.93 L191.85,70.93 L192.60,70.93 L193.35,70.92 L194.10,70.92 L194.85,70.92 L195.60,70.92 L196.35,70.92 L197.10,70.92 L197.85,70.92 L198.60,70.92 L199.35,70.91 L200.10,70.91 L200.85,70.91 L201.60,70.91 L202.35,70.91 L203.10,70.91 L203.85,70.91 L204.60,70.91 L205.35,70.91 L206.10,70.91 L206.85,70.91 L207.60,70.91 L208.35,70.90 L209.10,70.90 L209.85,70.90 L210.60,70.90 L211.35,70.90 L212.10,70.90 L212.85,70.90 L213.60,70.90 L214.35,70.90 L215.10,70.90 L215.85,70.90 L216.60,70.90 L217.35,70.90 L218.10,70.90" fill="none" stroke="#F2734F" stroke-width="0.65" opacity="0.8"/>
<path d="M41.10,95.12 L41.85,94.92 L42.60,94.71 L43.35,94.51 L44.10,94.30 L44.85,94.09 L45.60,93.89 L46.35,93.68 L47.10,93.47 L47.85,93.26 L48.60,93.05 L49.35,92.84 L50.10,92.63 L50.85,92.42 L51.60,92.22 L52.35,92.01 L53.10,91.81 L53.85,91.61 L54.60,91.41 L55.35,91.21 L56.10,91.00 L56.85,90.80 L57.60,90.59 L58.35,90.37 L59.10,90.15 L59.85,89.93 L60.60,89.71 L61.35,89.49 L62.10,89.27 L62.85,89.04 L63.60,88.81 L64.35,88.58 L65.10,88.34 L65.85,88.09 L66.60,87.84 L67.35,87.58 L68.10,87.32 L68.85,87.06 L69.60,86.80 L70.35,86.53 L71.10,86.26 L71.85,85.99 L72.60,85.71 L73.35,85.44 L74.10,85.16 L74.85,84.88 L75.60,84.60 L76.35,84.32 L77.10,84.04 L77.85,83.76 L78.60,83.47 L79.35,83.17 L80.10,82.86 L80.85,82.54 L81.60,82.21 L82.35,81.88 L83.10,81.54 L83.85,81.20 L84.60,80.86 L85.35,80.52 L86.10,80.17 L86.85,79.84 L87.60,79.50 L88.35,79.17 L89.10,78.85 L89.85,78.53 L90.60,78.23 L91.35,77.93 L92.10,77.64 L92.85,77.37 L93.60,77.09 L94.35,76.81 L95.10,76.53 L95.85,76.24 L96.60,75.96 L97.35,75.68 L98.10,75.40 L98.85,75.13 L99.60,74.86 L100.35,74.60 L101.10,74.35 L101.85,74.11 L102.60,73.88 L103.35,73.66 L104.10,73.45 L104.85,73.26 L105.60,73.08 L106.35,72.93 L107.10,72.78 L107.85,72.66 L108.60,72.54 L109.35,72.42 L110.10,72.31 L110.85,72.20 L111.60,72.09 L112.35,71.99 L113.10,71.89 L113.85,71.80 L114.60,71.71 L115.35,71.62 L116.10,71.54 L116.85,71.47 L117.60,71.39 L118.35,71.33 L119.10,71.26 L119.85,71.20 L120.60,71.15 L121.35,71.10 L122.10,71.06 L122.85,71.02 L123.60,70.98 L124.35,70.94 L125.10,70.91 L125.85,70.87 L126.60,70.84 L127.35,70.80 L128.10,70.77 L128.85,70.74 L129.60,70.71 L130.35,70.69 L131.10,70.66 L131.85,70.64 L132.60,70.61 L133.35,70.60 L134.10,70.58 L134.85,70.56 L135.60,70.55 L136.35,70.54 L137.10,70.53 L137.85,70.53 L138.60,70.52 L139.35,70.51 L140.10,70.51 L140.85,70.50 L141.60,70.50 L142.35,70.49 L143.10,70.48 L143.85,70.48 L144.60,70.47 L145.35,70.47 L146.10,70.46 L146.85,70.46 L147.60,70.46 L148.35,70.45 L149.10,70.45 L149.85,70.44 L150.60,70.44 L151.35,70.44 L152.10,70.43 L152.85,70.43 L153.60,70.43 L154.35,70.42 L155.10,70.42 L155.85,70.42 L156.60,70.41 L157.35,70.41 L158.10,70.41 L158.85,70.40 L159.60,70.40 L160.35,70.40 L161.10,70.40 L161.85,70.39 L162.60,70.39 L163.35,70.39 L164.10,70.39 L164.85,70.38 L165.60,70.38 L166.35,70.38 L167.10,70.38 L167.85,70.37 L168.60,70.37 L169.35,70.37 L170.10,70.37 L170.85,70.36 L171.60,70.36 L172.35,70.36 L173.10,70.36 L173.85,70.35 L174.60,70.35 L175.35,70.35 L176.10,70.35 L176.85,70.34 L177.60,70.34 L178.35,70.34 L179.10,70.34 L179.85,70.33 L180.60,70.33 L181.35,70.33 L182.10,70.33 L182.85,70.33 L183.60,70.32 L184.35,70.32 L185.10,70.32 L185.85,70.32 L186.60,70.32 L187.35,70.31 L188.10,70.31 L188.85,70.31 L189.60,70.31 L190.35,70.31 L191.10,70.30 L191.85,70.30 L192.60,70.30 L193.35,70.30 L194.10,70.30 L194.85,70.30 L195.60,70.29 L196.35,70.29 L197.10,70.29 L197.85,70.29 L198.60,70.29 L199.35,70.29 L200.10,70.28 L200.85,70.28 L201.60,70.28 L202.35,70.28 L203.10,70.28 L203.85,70.28 L204.60,70.28 L205.35,70.28 L206.10,70.28 L206.85,70.27 L207.60,70.27 L208.35,70.27 L209.10,70.27 L209.85,70.27 L210.60,70.27 L211.35,70.27 L212.10,70.27 L212.85,70.27 L213.60,70.27 L214.35,70.27 L215.10,70.27 L215.85,70.27 L216.60,70.27 L217.35,70.27 L218.10,70.27" fill="none" stroke="#F2734F" stroke-width="0.65" opacity="0.8"/>
<path d="M41.10,94.52 L41.85,94.32 L42.60,94.12 L43.35,93.92 L44.10,93.71 L44.85,93.50 L45.60,93.29 L46.35,93.07 L47.10,92.85 L47.85,92.63 L48.60,92.41 L49.35,92.18 L50.10,91.96 L50.85,91.73 L51.60,91.50 L52.35,91.27 L53.10,91.04 L53.85,90.81 L54.60,90.57 L55.35,90.34 L56.10,90.10 L56.85,89.85 L57.60,89.60 L58.35,89.34 L59.10,89.07 L59.85,88.81 L60.60,88.54 L61.35,88.28 L62.10,88.02 L62.85,87.75 L63.60,87.48 L64.35,87.22 L65.10,86.94 L65.85,86.67 L66.60,86.39 L67.35,86.11 L68.10,85.83 L68.85,85.55 L69.60,85.26 L70.35,84.98 L71.10,84.69 L71.85,84.40 L72.60,84.11 L73.35,83.83 L74.10,83.54 L74.85,83.25 L75.60,82.96 L76.35,82.67 L77.10,82.38 L77.85,82.09 L78.60,81.80 L79.35,81.49 L80.10,81.18 L80.85,80.87 L81.60,80.55 L82.35,80.23 L83.10,79.91 L83.85,79.59 L84.60,79.27 L85.35,78.94 L86.10,78.62 L86.85,78.31 L87.60,78.00 L88.35,77.69 L89.10,77.39 L89.85,77.10 L90.60,76.81 L91.35,76.53 L92.10,76.27 L92.85,76.01 L93.60,75.75 L94.35,75.49 L95.10,75.23 L95.85,74.96 L96.60,74.70 L97.35,74.44 L98.10,74.18 L98.85,73.93 L99.60,73.68 L100.35,73.44 L101.10,73.21 L101.85,72.99 L102.60,72.78 L103.35,72.58 L104.10,72.39 L104.85,72.22 L105.60,72.07 L106.35,71.93 L107.10,71.81 L107.85,71.71 L108.60,71.61 L109.35,71.51 L110.10,71.42 L110.85,71.33 L111.60,71.25 L112.35,71.17 L113.10,71.09 L113.85,71.01 L114.60,70.94 L115.35,70.88 L116.10,70.81 L116.85,70.75 L117.60,70.70 L118.35,70.64 L119.10,70.59 L119.85,70.55 L120.60,70.50 L121.35,70.46 L122.10,70.43 L122.85,70.39 L123.60,70.36 L124.35,70.33 L125.10,70.30 L125.85,70.27 L126.60,70.24 L127.35,70.21 L128.10,70.18 L128.85,70.16 L129.60,70.13 L130.35,70.11 L131.10,70.09 L131.85,70.07 L132.60,70.05 L133.35,70.03 L134.10,70.01 L134.85,70.00 L135.60,69.99 L136.35,69.97 L137.10,69.97 L137.85,69.96 L138.60,69.95 L139.35,69.94 L140.10,69.93 L140.85,69.93 L141.60,69.92 L142.35,69.91 L143.10,69.91 L143.85,69.90 L144.60,69.89 L145.35,69.89 L146.10,69.88 L146.85,69.88 L147.60,69.87 L148.35,69.86 L149.10,69.86 L149.85,69.85 L150.60,69.85 L151.35,69.84 L152.10,69.84 L152.85,69.84 L153.60,69.83 L154.35,69.83 L155.10,69.82 L155.85,69.82 L156.60,69.82 L157.35,69.81 L158.10,69.81 L158.85,69.81 L159.60,69.80 L160.35,69.80 L161.10,69.80 L161.85,69.79 L162.60,69.79 L163.35,69.79 L164.10,69.78 L164.85,69.78 L165.60,69.78 L166.35,69.77 L167.10,69.77 L167.85,69.77 L168.60,69.76 L169.35,69.76 L170.10,69.76 L170.85,69.75 L171.60,69.75 L172.35,69.75 L173.10,69.74 L173.85,69.74 L174.60,69.74 L175.35,69.74 L176.10,69.73 L176.85,69.73 L177.60,69.73 L178.35,69.72 L179.10,69.72 L179.85,69.72 L180.60,69.72 L181.35,69.71 L182.10,69.71 L182.85,69.71 L183.60,69.70 L184.35,69.70 L185.10,69.70 L185.85,69.70 L186.60,69.69 L187.35,69.69 L188.10,69.69 L188.85,69.69 L189.60,69.68 L190.35,69.68 L191.10,69.68 L191.85,69.68 L192.60,69.68 L193.35,69.67 L194.10,69.67 L194.85,69.67 L195.60,69.67 L196.35,69.66 L197.10,69.66 L197.85,69.66 L198.60,69.66 L199.35,69.66 L200.10,69.66 L200.85,69.65 L201.60,69.65 L202.35,69.65 L203.10,69.65 L203.85,69.65 L204.60,69.65 L205.35,69.65 L206.10,69.64 L206.85,69.64 L207.60,69.64 L208.35,69.64 L209.10,69.64 L209.85,69.64 L210.60,69.64 L211.35,69.64 L212.10,69.64 L212.85,69.64 L213.60,69.64 L214.35,69.63 L215.10,69.63 L215.85,69.63 L216.60,69.63 L217.35,69.63 L218.10,69.63" fill="none" stroke="#F2734F" stroke-width="0.65" opacity="0.8"/>
<path d="M41.10,93.92 L41.85,93.73 L42.60,93.53 L43.35,93.33 L44.10,93.12 L44.85,92.91 L45.60,92.69 L46.35,92.46 L47.10,92.23 L47.85,92.00 L48.60,91.76 L49.35,91.52 L50.10,91.28 L50.85,91.03 L51.60,90.78 L52.35,90.52 L53.10,90.27 L53.85,90.00 L54.60,89.74 L55.35,89.47 L56.10,89.20 L56.85,88.91 L57.60,88.61 L58.35,88.30 L59.10,87.99 L59.85,87.68 L60.60,87.37 L61.35,87.06 L62.10,86.76 L62.85,86.46 L63.60,86.16 L64.35,85.85 L65.10,85.55 L65.85,85.25 L66.60,84.94 L67.35,84.64 L68.10,84.34 L68.85,84.03 L69.60,83.73 L70.35,83.42 L71.10,83.12 L71.85,82.82 L72.60,82.52 L73.35,82.21 L74.10,81.91 L74.85,81.61 L75.60,81.31 L76.35,81.02 L77.10,80.72 L77.85,80.42 L78.60,80.12 L79.35,79.82 L80.10,79.51 L80.85,79.21 L81.60,78.90 L82.35,78.59 L83.10,78.28 L83.85,77.98 L84.60,77.67 L85.35,77.37 L86.10,77.07 L86.85,76.78 L87.60,76.49 L88.35,76.21 L89.10,75.93 L89.85,75.66 L90.60,75.40 L91.35,75.14 L92.10,74.90 L92.85,74.66 L93.60,74.42 L94.35,74.17 L95.10,73.93 L95.85,73.68 L96.60,73.44 L97.35,73.20 L98.10,72.96 L98.85,72.73 L99.60,72.50 L100.35,72.28 L101.10,72.07 L101.85,71.87 L102.60,71.68 L103.35,71.50 L104.10,71.34 L104.85,71.18 L105.60,71.05 L106.35,70.93 L107.10,70.83 L107.85,70.75 L108.60,70.67 L109.35,70.60 L110.10,70.53 L110.85,70.46 L111.60,70.40 L112.35,70.34 L113.10,70.28 L113.85,70.23 L114.60,70.18 L115.35,70.13 L116.10,70.08 L116.85,70.04 L117.60,70.00 L118.35,69.96 L119.10,69.92 L119.85,69.89 L120.60,69.86 L121.35,69.83 L122.10,69.80 L122.85,69.77 L123.60,69.74 L124.35,69.71 L125.10,69.69 L125.85,69.66 L126.60,69.64 L127.35,69.62 L128.10,69.59 L128.85,69.57 L129.60,69.55 L130.35,69.53 L131.10,69.51 L131.85,69.49 L132.60,69.48 L133.35,69.46 L134.10,69.45 L134.85,69.43 L135.60,69.42 L136.35,69.41 L137.10,69.40 L137.85,69.39 L138.60,69.38 L139.35,69.37 L140.10,69.36 L140.85,69.35 L141.60,69.34 L142.35,69.33 L143.10,69.33 L143.85,69.32 L144.60,69.31 L145.35,69.30 L146.10,69.30 L146.85,69.29 L147.60,69.28 L148.35,69.28 L149.10,69.27 L149.85,69.26 L150.60,69.26 L151.35,69.25 L152.10,69.25 L152.85,69.24 L153.60,69.24 L154.35,69.23 L155.10,69.23 L155.85,69.22 L156.60,69.22 L157.35,69.21 L158.10,69.21 L158.85,69.21 L159.60,69.20 L160.35,69.20 L161.10,69.19 L161.85,69.19 L162.60,69.19 L163.35,69.18 L164.10,69.18 L164.85,69.17 L165.60,69.17 L166.35,69.17 L167.10,69.16 L167.85,69.16 L168.60,69.16 L169.35,69.15 L170.10,69.15 L170.85,69.14 L171.60,69.14 L172.35,69.14 L173.10,69.13 L173.85,69.13 L174.60,69.13 L175.35,69.12 L176.10,69.12 L176.85,69.12 L177.60,69.11 L178.35,69.11 L179.10,69.11 L179.85,69.10 L180.60,69.10 L181.35,69.10 L182.10,69.09 L182.85,69.09 L183.60,69.09 L184.35,69.08 L185.10,69.08 L185.85,69.08 L186.60,69.07 L187.35,69.07 L188.10,69.07 L188.85,69.06 L189.60,69.06 L190.35,69.06 L191.10,69.06 L191.85,69.05 L192.60,69.05 L193.35,69.05 L194.10,69.05 L194.85,69.04 L195.60,69.04 L196.35,69.04 L197.10,69.04 L197.85,69.03 L198.60,69.03 L199.35,69.03 L200.10,69.03 L200.85,69.02 L201.60,69.02 L202.35,69.02 L203.10,69.02 L203.85,69.02 L204.60,69.02 L205.35,69.01 L206.10,69.01 L206.85,69.01 L207.60,69.01 L208.35,69.01 L209.10,69.01 L209.85,69.01 L210.60,69.01 L211.35,69.00 L212.10,69.00 L212.85,69.00 L213.60,69.00 L214.35,69.00 L215.10,69.00 L215.85,69.00 L216.60,69.00 L217.35,69.00 L218.10,69.00" fill="none" stroke="#F2734F" stroke-width="0.65" opacity="0.8"/>
<path d="M41.10,171.80 L41.85,171.80 L42.60,171.80 L43.35,171.80 L44.10,171.79 L44.85,171.79 L45.60,171.79 L46.35,171.78 L47.10,171.78 L47.85,171.77 L48.60,171.76 L49.35,171.76 L50.10,171.75 L50.85,171.74 L51.60,171.74 L52.35,171.73 L53.10,171.72 L53.85,171.71 L54.60,171.70 L55.35,171.69 L56.10,171.68 L56.85,171.67 L57.60,171.66 L58.35,171.65 L59.10,171.64 L59.85,171.63 L60.60,171.62 L61.35,171.61 L62.10,171.60 L62.85,171.59 L63.60,171.57 L64.35,171.56 L65.10,171.54 L65.85,171.52 L66.60,171.50 L67.35,171.48 L68.10,171.46 L68.85,171.44 L69.60,171.42 L70.35,171.40 L71.10,171.37 L71.85,171.35 L72.60,171.33 L73.35,171.31 L74.10,171.28 L74.85,171.26 L75.60,171.24 L76.35,171.22 L77.10,171.20 L77.85,171.18 L78.60,171.16 L79.35,171.13 L80.10,171.11 L80.85,171.09 L81.60,171.07 L82.35,171.05 L83.10,171.02 L83.85,171.00 L84.60,170.98 L85.35,170.96 L86.10,170.94 L86.85,170.92 L87.60,170.90 L88.35,170.88 L89.10,170.86 L89.85,170.84 L90.60,170.83 L91.35,170.81 L92.10,170.80 L92.85,170.79 L93.60,170.78 L94.35,170.77 L95.10,170.76 L95.85,170.75 L96.60,170.74 L97.35,170.73 L98.10,170.73 L98.85,170.72 L99.60,170.71 L100.35,170.71 L101.10,170.70 L101.85,170.69 L102.60,170.68 L103.35,170.67 L104.10,170.66 L104.85,170.65 L105.60,170.64 L106.35,170.62 L107.10,170.61 L107.85,170.59 L108.60,170.56 L109.35,170.52 L110.10,170.47 L110.85,170.41 L111.60,170.34 L112.35,170.27 L113.10,170.18 L113.85,170.09 L114.60,170.00 L115.35,169.90 L116.10,169.79 L116.85,169.67 L117.60,169.56 L118.35,169.43 L119.10,169.31 L119.85,169.18 L120.60,169.05 L121.35,168.92 L122.10,168.78 L122.85,168.64 L123.60,168.47 L124.35,168.29 L125.10,168.10 L125.85,167.89 L126.60,167.67 L127.35,167.44 L128.10,167.20 L128.85,166.94 L129.60,166.68 L130.35,166.41 L131.10,166.13 L131.85,165.85 L132.60,165.56 L133.35,165.26 L134.10,164.97 L134.85,164.67 L135.60,164.36 L136.35,164.06 L137.10,163.76 L137.85,163.44 L138.60,163.11 L139.35,162.75 L140.10,162.38 L140.85,162.00 L141.60,161.60 L142.35,161.20 L143.10,160.79 L143.85,160.37 L144.60,159.95 L145.35,159.53 L146.10,159.11 L146.85,158.70 L147.60,158.29 L148.35,157.89 L149.10,157.51 L149.85,157.14 L150.60,156.78 L151.35,156.44 L152.10,156.12 L152.85,155.82 L153.60,155.53 L154.35,155.23 L155.10,154.95 L155.85,154.66 L156.60,154.38 L157.35,154.11 L158.10,153.84 L158.85,153.58 L159.60,153.32 L160.35,153.07 L161.10,152.83 L161.85,152.59 L162.60,152.36 L163.35,152.14 L164.10,151.93 L164.85,151.73 L165.60,151.54 L166.35,151.35 L167.10,151.18 L167.85,151.01 L168.60,150.84 L169.35,150.68 L170.10,150.52 L170.85,150.36 L171.60,150.21 L172.35,150.06 L173.10,149.91 L173.85,149.77 L174.60,149.64 L175.35,149.51 L176.10,149.38 L176.85,149.26 L177.60,149.14 L178.35,149.04 L179.10,148.93 L179.85,148.84 L180.60,148.75 L181.35,148.67 L182.10,148.59 L182.85,148.52 L183.60,148.45 L184.35,148.38 L185.10,148.32 L185.85,148.25 L186.60,148.19 L187.35,148.13 L188.10,148.08 L188.85,148.02 L189.60,147.97 L190.35,147.92 L191.10,147.87 L191.85,147.83 L192.60,147.78 L193.35,147.75 L194.10,147.71 L194.85,147.68 L195.60,147.65 L196.35,147.62 L197.10,147.60 L197.85,147.57 L198.60,147.55 L199.35,147.53 L200.10,147.51 L200.85,147.49 L201.60,147.47 L202.35,147.45 L203.10,147.43 L203.85,147.41 L204.60,147.39 L205.35,147.38 L206.10,147.36 L206.85,147.34 L207.60,147.33 L208.35,147.31 L209.10,147.30 L209.85,147.28 L210.60,147.27 L211.35,147.26 L212.10,147.25 L212.85,147.24 L213.60,147.23 L214.35,147.22 L215.10,147.22 L215.85,147.21 L216.60,147.21 L217.35,147.20 L218.10,147.20" fill="none" stroke="#5877EE" stroke-width="0.8" opacity="1.0"/>
<path d="M41.10,171.25 L41.85,171.25 L42.60,171.24 L43.35,171.24 L44.10,171.23 L44.85,171.23 L45.60,171.22 L46.35,171.21 L47.10,171.21 L47.85,171.20 L48.60,171.19 L49.35,171.18 L50.10,171.17 L50.85,171.17 L51.60,171.16 L52.35,171.15 L53.10,171.14 L53.85,171.13 L54.60,171.12 L55.35,171.10 L56.10,171.09 L56.85,171.08 L57.60,171.07 L58.35,171.06 L59.10,171.05 L59.85,171.03 L60.60,171.02 L61.35,171.01 L62.10,171.00 L62.85,170.99 L63.60,170.97 L64.35,170.96 L65.10,170.94 L65.85,170.92 L66.60,170.90 L67.35,170.88 L68.10,170.86 L68.85,170.84 L69.60,170.82 L70.35,170.80 L71.10,170.77 L71.85,170.75 L72.60,170.73 L73.35,170.71 L74.10,170.68 L74.85,170.66 L75.60,170.64 L76.35,170.62 L77.10,170.60 L77.85,170.58 L78.60,170.55 L79.35,170.53 L80.10,170.51 L80.85,170.49 L81.60,170.46 L82.35,170.44 L83.10,170.41 L83.85,170.39 L84.60,170.37 L85.35,170.34 L86.10,170.32 L86.85,170.30 L87.60,170.27 L88.35,170.25 L89.10,170.23 L89.85,170.21 L90.60,170.19 L91.35,170.17 L92.10,170.15 L92.85,170.13 L93.60,170.11 L94.35,170.10 L95.10,170.08 L95.85,170.07 L96.60,170.05 L97.35,170.04 L98.10,170.02 L98.85,170.01 L99.60,169.99 L100.35,169.98 L101.10,169.96 L101.85,169.95 L102.60,169.93 L103.35,169.91 L104.10,169.89 L104.85,169.87 L105.60,169.84 L106.35,169.82 L107.10,169.79 L107.85,169.75 L108.60,169.71 L109.35,169.66 L110.10,169.60 L110.85,169.52 L111.60,169.44 L112.35,169.35 L113.10,169.26 L113.85,169.15 L114.60,169.04 L115.35,168.92 L116.10,168.80 L116.85,168.67 L117.60,168.54 L118.35,168.40 L119.10,168.26 L119.85,168.12 L120.60,167.98 L121.35,167.83 L122.10,167.68 L122.85,167.52 L123.60,167.35 L124.35,167.16 L125.10,166.96 L125.85,166.74 L126.60,166.52 L127.35,166.28 L128.10,166.03 L128.85,165.77 L129.60,165.51 L130.35,165.24 L131.10,164.96 L131.85,164.67 L132.60,164.39 L133.35,164.09 L134.10,163.80 L134.85,163.50 L135.60,163.20 L136.35,162.91 L137.10,162.61 L137.85,162.30 L138.60,161.98 L139.35,161.63 L140.10,161.28 L140.85,160.91 L141.60,160.53 L142.35,160.15 L143.10,159.76 L143.85,159.37 L144.60,158.97 L145.35,158.57 L146.10,158.18 L146.85,157.79 L147.60,157.41 L148.35,157.03 L149.10,156.66 L149.85,156.31 L150.60,155.97 L151.35,155.65 L152.10,155.34 L152.85,155.05 L153.60,154.77 L154.35,154.48 L155.10,154.20 L155.85,153.93 L156.60,153.65 L157.35,153.38 L158.10,153.12 L158.85,152.86 L159.60,152.61 L160.35,152.36 L161.10,152.12 L161.85,151.89 L162.60,151.67 L163.35,151.46 L164.10,151.25 L164.85,151.05 L165.60,150.87 L166.35,150.69 L167.10,150.53 L167.85,150.37 L168.60,150.21 L169.35,150.06 L170.10,149.91 L170.85,149.76 L171.60,149.62 L172.35,149.48 L173.10,149.35 L173.85,149.22 L174.60,149.09 L175.35,148.97 L176.10,148.85 L176.85,148.74 L177.60,148.64 L178.35,148.54 L179.10,148.44 L179.85,148.36 L180.60,148.28 L181.35,148.21 L182.10,148.14 L182.85,148.08 L183.60,148.02 L184.35,147.96 L185.10,147.91 L185.85,147.85 L186.60,147.80 L187.35,147.75 L188.10,147.70 L188.85,147.66 L189.60,147.61 L190.35,147.57 L191.10,147.53 L191.85,147.49 L192.60,147.46 L193.35,147.42 L194.10,147.39 L194.85,147.37 L195.60,147.34 L196.35,147.32 L197.10,147.30 L197.85,147.28 L198.60,147.26 L199.35,147.24 L200.10,147.22 L200.85,147.20 L201.60,147.19 L202.35,147.17 L203.10,147.15 L203.85,147.14 L204.60,147.12 L205.35,147.10 L206.10,147.09 L206.85,147.08 L207.60,147.06 L208.35,147.05 L209.10,147.04 L209.85,147.02 L210.60,147.01 L211.35,147.00 L212.10,146.99 L212.85,146.98 L213.60,146.98 L214.35,146.97 L215.10,146.96 L215.85,146.96 L216.60,146.96 L217.35,146.95 L218.10,146.95" fill="none" stroke="#5877EE" stroke-width="0.8" opacity="1.0"/>
<path d="M41.10,170.70 L41.85,170.69 L42.60,170.69 L43.35,170.68 L44.10,170.67 L44.85,170.66 L45.60,170.66 L46.35,170.65 L47.10,170.64 L47.85,170.63 L48.60,170.62 L49.35,170.61 L50.10,170.60 L50.85,170.59 L51.60,170.58 L52.35,170.57 L53.10,170.55 L53.85,170.54 L54.60,170.53 L55.35,170.52 L56.10,170.50 L56.85,170.49 L57.60,170.48 L58.35,170.47 L59.10,170.45 L59.85,170.44 L60.60,170.43 L61.35,170.41 L62.10,170.40 L62.85,170.38 L63.60,170.37 L64.35,170.35 L65.10,170.33 L65.85,170.32 L66.60,170.30 L67.35,170.28 L68.10,170.26 L68.85,170.24 L69.60,170.22 L70.35,170.20 L71.10,170.17 L71.85,170.15 L72.60,170.13 L73.35,170.11 L74.10,170.09 L74.85,170.06 L75.60,170.04 L76.35,170.02 L77.10,170.00 L77.85,169.97 L78.60,169.95 L79.35,169.93 L80.10,169.90 L80.85,169.88 L81.60,169.85 L82.35,169.83 L83.10,169.80 L83.85,169.78 L84.60,169.75 L85.35,169.73 L86.10,169.70 L86.85,169.67 L87.60,169.65 L88.35,169.62 L89.10,169.60 L89.85,169.57 L90.60,169.55 L91.35,169.52 L92.10,169.50 L92.85,169.47 L93.60,169.45 L94.35,169.43 L95.10,169.41 L95.85,169.39 L96.60,169.36 L97.35,169.34 L98.10,169.32 L98.85,169.30 L99.60,169.28 L100.35,169.25 L101.10,169.23 L101.85,169.20 L102.60,169.17 L103.35,169.14 L104.10,169.11 L104.85,169.08 L105.60,169.05 L106.35,169.01 L107.10,168.97 L107.85,168.92 L108.60,168.87 L109.35,168.80 L110.10,168.72 L110.85,168.64 L111.60,168.54 L112.35,168.44 L113.10,168.33 L113.85,168.21 L114.60,168.08 L115.35,167.95 L116.10,167.81 L116.85,167.67 L117.60,167.52 L118.35,167.37 L119.10,167.22 L119.85,167.06 L120.60,166.90 L121.35,166.74 L122.10,166.58 L122.85,166.41 L123.60,166.22 L124.35,166.02 L125.10,165.81 L125.85,165.59 L126.60,165.36 L127.35,165.12 L128.10,164.86 L128.85,164.60 L129.60,164.34 L130.35,164.06 L131.10,163.79 L131.85,163.50 L132.60,163.22 L133.35,162.93 L134.10,162.63 L134.85,162.34 L135.60,162.05 L136.35,161.75 L137.10,161.46 L137.85,161.16 L138.60,160.84 L139.35,160.51 L140.10,160.17 L140.85,159.82 L141.60,159.47 L142.35,159.10 L143.10,158.73 L143.85,158.36 L144.60,157.99 L145.35,157.62 L146.10,157.25 L146.85,156.88 L147.60,156.52 L148.35,156.17 L149.10,155.82 L149.85,155.49 L150.60,155.16 L151.35,154.86 L152.10,154.56 L152.85,154.28 L153.60,154.01 L154.35,153.73 L155.10,153.46 L155.85,153.19 L156.60,152.92 L157.35,152.66 L158.10,152.40 L158.85,152.14 L159.60,151.90 L160.35,151.65 L161.10,151.42 L161.85,151.19 L162.60,150.98 L163.35,150.77 L164.10,150.57 L164.85,150.38 L165.60,150.20 L166.35,150.03 L167.10,149.88 L167.85,149.73 L168.60,149.59 L169.35,149.44 L170.10,149.30 L170.85,149.17 L171.60,149.03 L172.35,148.91 L173.10,148.78 L173.85,148.66 L174.60,148.54 L175.35,148.43 L176.10,148.32 L176.85,148.22 L177.60,148.13 L178.35,148.04 L179.10,147.96 L179.85,147.88 L180.60,147.81 L181.35,147.75 L182.10,147.69 L182.85,147.64 L183.60,147.59 L184.35,147.54 L185.10,147.50 L185.85,147.45 L186.60,147.41 L187.35,147.37 L188.10,147.33 L188.85,147.29 L189.60,147.26 L190.35,147.22 L191.10,147.19 L191.85,147.16 L192.60,147.13 L193.35,147.10 L194.10,147.08 L194.85,147.05 L195.60,147.03 L196.35,147.01 L197.10,147.00 L197.85,146.98 L198.60,146.97 L199.35,146.95 L200.10,146.93 L200.85,146.92 L201.60,146.90 L202.35,146.89 L203.10,146.87 L203.85,146.86 L204.60,146.85 L205.35,146.83 L206.10,146.82 L206.85,146.81 L207.60,146.80 L208.35,146.78 L209.10,146.77 L209.85,146.76 L210.60,146.75 L211.35,146.75 L212.10,146.74 L212.85,146.73 L213.60,146.72 L214.35,146.72 L215.10,146.71 L215.85,146.71 L216.60,146.70 L217.35,146.70 L218.10,146.70" fill="none" stroke="#5877EE" stroke-width="0.8" opacity="1.0"/>
<path d="M41.10,170.15 L41.85,170.14 L42.60,170.13 L43.35,170.12 L44.10,170.11 L44.85,170.10 L45.60,170.09 L46.35,170.08 L47.10,170.07 L47.85,170.06 L48.60,170.05 L49.35,170.03 L50.10,170.02 L50.85,170.01 L51.60,170.00 L52.35,169.98 L53.10,169.97 L53.85,169.96 L54.60,169.94 L55.35,169.93 L56.10,169.92 L56.85,169.90 L57.60,169.89 L58.35,169.87 L59.10,169.86 L59.85,169.84 L60.60,169.83 L61.35,169.81 L62.10,169.80 L62.85,169.78 L63.60,169.77 L64.35,169.75 L65.10,169.73 L65.85,169.71 L66.60,169.70 L67.35,169.68 L68.10,169.66 L68.85,169.64 L69.60,169.62 L70.35,169.60 L71.10,169.57 L71.85,169.55 L72.60,169.53 L73.35,169.51 L74.10,169.49 L74.85,169.47 L75.60,169.44 L76.35,169.42 L77.10,169.40 L77.85,169.37 L78.60,169.35 L79.35,169.32 L80.10,169.30 L80.85,169.27 L81.60,169.25 L82.35,169.22 L83.10,169.19 L83.85,169.17 L84.60,169.14 L85.35,169.11 L86.10,169.08 L86.85,169.05 L87.60,169.02 L88.35,168.99 L89.10,168.97 L89.85,168.94 L90.60,168.91 L91.35,168.88 L92.10,168.85 L92.85,168.82 L93.60,168.79 L94.35,168.76 L95.10,168.73 L95.85,168.70 L96.60,168.68 L97.35,168.65 L98.10,168.62 L98.85,168.59 L99.60,168.56 L100.35,168.53 L101.10,168.49 L101.85,168.46 L102.60,168.42 L103.35,168.38 L104.10,168.34 L104.85,168.30 L105.60,168.25 L106.35,168.20 L107.10,168.15 L107.85,168.09 L108.60,168.02 L109.35,167.94 L110.10,167.85 L110.85,167.75 L111.60,167.64 L112.35,167.52 L113.10,167.40 L113.85,167.26 L114.60,167.12 L115.35,166.98 L116.10,166.82 L116.85,166.67 L117.60,166.51 L118.35,166.34 L119.10,166.17 L119.85,166.00 L120.60,165.83 L121.35,165.65 L122.10,165.48 L122.85,165.29 L123.60,165.10 L124.35,164.89 L125.10,164.67 L125.85,164.44 L126.60,164.20 L127.35,163.95 L128.10,163.70 L128.85,163.43 L129.60,163.17 L130.35,162.89 L131.10,162.61 L131.85,162.33 L132.60,162.04 L133.35,161.76 L134.10,161.47 L134.85,161.18 L135.60,160.89 L136.35,160.60 L137.10,160.31 L137.85,160.02 L138.60,159.71 L139.35,159.40 L140.10,159.07 L140.85,158.74 L141.60,158.40 L142.35,158.05 L143.10,157.71 L143.85,157.36 L144.60,157.01 L145.35,156.66 L146.10,156.31 L146.85,155.97 L147.60,155.63 L148.35,155.30 L149.10,154.98 L149.85,154.66 L150.60,154.36 L151.35,154.06 L152.10,153.78 L152.85,153.51 L153.60,153.25 L154.35,152.98 L155.10,152.71 L155.85,152.45 L156.60,152.19 L157.35,151.93 L158.10,151.68 L158.85,151.43 L159.60,151.18 L160.35,150.95 L161.10,150.72 L161.85,150.49 L162.60,150.28 L163.35,150.08 L164.10,149.88 L164.85,149.70 L165.60,149.53 L166.35,149.38 L167.10,149.23 L167.85,149.09 L168.60,148.96 L169.35,148.83 L170.10,148.70 L170.85,148.57 L171.60,148.45 L172.35,148.33 L173.10,148.21 L173.85,148.10 L174.60,148.00 L175.35,147.89 L176.10,147.80 L176.85,147.71 L177.60,147.62 L178.35,147.54 L179.10,147.47 L179.85,147.40 L180.60,147.34 L181.35,147.29 L182.10,147.24 L182.85,147.20 L183.60,147.16 L184.35,147.12 L185.10,147.09 L185.85,147.05 L186.60,147.02 L187.35,146.99 L188.10,146.96 L188.85,146.93 L189.60,146.90 L190.35,146.87 L191.10,146.85 L191.85,146.82 L192.60,146.80 L193.35,146.78 L194.10,146.76 L194.85,146.74 L195.60,146.73 L196.35,146.71 L197.10,146.70 L197.85,146.68 L198.60,146.67 L199.35,146.66 L200.10,146.65 L200.85,146.63 L201.60,146.62 L202.35,146.61 L203.10,146.60 L203.85,146.58 L204.60,146.57 L205.35,146.56 L206.10,146.55 L206.85,146.54 L207.60,146.53 L208.35,146.52 L209.10,146.51 L209.85,146.50 L210.60,146.50 L211.35,146.49 L212.10,146.48 L212.85,146.48 L213.60,146.47 L214.35,146.46 L215.10,146.46 L215.85,146.46 L216.60,146.45 L217.35,146.45 L218.10,146.45" fill="none" stroke="#5877EE" stroke-width="0.8" opacity="1.0"/>
<path d="M41.10,169.60 L41.85,169.58 L42.60,169.57 L43.35,169.56 L44.10,169.55 L44.85,169.54 L45.60,169.53 L46.35,169.51 L47.10,169.50 L47.85,169.49 L48.60,169.47 L49.35,169.46 L50.10,169.45 L50.85,169.43 L51.60,169.42 L52.35,169.40 L53.10,169.39 L53.85,169.37 L54.60,169.36 L55.35,169.34 L56.10,169.33 L56.85,169.31 L57.60,169.30 L58.35,169.28 L59.10,169.26 L59.85,169.25 L60.60,169.23 L61.35,169.21 L62.10,169.20 L62.85,169.18 L63.60,169.16 L64.35,169.15 L65.10,169.13 L65.85,169.11 L66.60,169.09 L67.35,169.07 L68.10,169.05 L68.85,169.04 L69.60,169.02 L70.35,169.00 L71.10,168.98 L71.85,168.95 L72.60,168.93 L73.35,168.91 L74.10,168.89 L74.85,168.87 L75.60,168.84 L76.35,168.82 L77.10,168.80 L77.85,168.77 L78.60,168.75 L79.35,168.72 L80.10,168.70 L80.85,168.67 L81.60,168.64 L82.35,168.61 L83.10,168.58 L83.85,168.55 L84.60,168.52 L85.35,168.49 L86.10,168.46 L86.85,168.43 L87.60,168.40 L88.35,168.37 L89.10,168.33 L89.85,168.30 L90.60,168.27 L91.35,168.23 L92.10,168.20 L92.85,168.16 L93.60,168.13 L94.35,168.09 L95.10,168.06 L95.85,168.02 L96.60,167.99 L97.35,167.95 L98.10,167.92 L98.85,167.88 L99.60,167.84 L100.35,167.80 L101.10,167.76 L101.85,167.71 L102.60,167.67 L103.35,167.62 L104.10,167.56 L104.85,167.51 L105.60,167.45 L106.35,167.39 L107.10,167.33 L107.85,167.26 L108.60,167.18 L109.35,167.08 L110.10,166.98 L110.85,166.87 L111.60,166.74 L112.35,166.61 L113.10,166.47 L113.85,166.32 L114.60,166.17 L115.35,166.00 L116.10,165.84 L116.85,165.67 L117.60,165.49 L118.35,165.31 L119.10,165.13 L119.85,164.94 L120.60,164.75 L121.35,164.56 L122.10,164.37 L122.85,164.18 L123.60,163.97 L124.35,163.75 L125.10,163.52 L125.85,163.29 L126.60,163.04 L127.35,162.79 L128.10,162.53 L128.85,162.26 L129.60,161.99 L130.35,161.72 L131.10,161.44 L131.85,161.16 L132.60,160.87 L133.35,160.59 L134.10,160.30 L134.85,160.02 L135.60,159.73 L136.35,159.44 L137.10,159.16 L137.85,158.88 L138.60,158.58 L139.35,158.28 L140.10,157.97 L140.85,157.65 L141.60,157.33 L142.35,157.01 L143.10,156.68 L143.85,156.36 L144.60,156.03 L145.35,155.70 L146.10,155.38 L146.85,155.06 L147.60,154.75 L148.35,154.44 L149.10,154.13 L149.85,153.84 L150.60,153.55 L151.35,153.27 L152.10,153.00 L152.85,152.75 L153.60,152.49 L154.35,152.23 L155.10,151.97 L155.85,151.71 L156.60,151.46 L157.35,151.20 L158.10,150.95 L158.85,150.71 L159.60,150.47 L160.35,150.24 L161.10,150.01 L161.85,149.79 L162.60,149.59 L163.35,149.39 L164.10,149.20 L164.85,149.03 L165.60,148.87 L166.35,148.72 L167.10,148.58 L167.85,148.46 L168.60,148.33 L169.35,148.21 L170.10,148.09 L170.85,147.97 L171.60,147.86 L172.35,147.75 L173.10,147.65 L173.85,147.55 L174.60,147.45 L175.35,147.36 L176.10,147.27 L176.85,147.19 L177.60,147.11 L178.35,147.04 L179.10,146.98 L179.85,146.92 L180.60,146.87 L181.35,146.83 L182.10,146.80 L182.85,146.76 L183.60,146.73 L184.35,146.71 L185.10,146.68 L185.85,146.65 L186.60,146.63 L187.35,146.60 L188.10,146.58 L188.85,146.56 L189.60,146.54 L190.35,146.52 L191.10,146.51 L191.85,146.49 L192.60,146.47 L193.35,146.46 L194.10,146.45 L194.85,146.43 L195.60,146.42 L196.35,146.41 L197.10,146.40 L197.85,146.39 L198.60,146.38 L199.35,146.37 L200.10,146.36 L200.85,146.35 L201.60,146.34 L202.35,146.33 L203.10,146.32 L203.85,146.31 L204.60,146.30 L205.35,146.29 L206.10,146.28 L206.85,146.27 L207.60,146.27 L208.35,146.26 L209.10,146.25 L209.85,146.24 L210.60,146.24 L211.35,146.23 L212.10,146.23 L212.85,146.22 L213.60,146.22 L214.35,146.21 L215.10,146.21 L215.85,146.21 L216.60,146.20 L217.35,146.20 L218.10,146.20" fill="none" stroke="#5877EE" stroke-width="0.8" opacity="1.0"/>
<polyline points="41.1,169.63 41.85,169.61 42.6,169.6 43.35,169.58 44.1,169.57 44.85,169.55 45.6,169.53 46.35,169.51 47.1,169.49 47.85,169.47 48.6,169.45 49.35,169.43 50.1,169.4 50.85,169.38 51.6,169.35 52.35,169.32 53.1,169.29 53.85,169.25 54.6,169.22 55.35,169.18 56.1,169.14 56.85,169.1 57.6,169.05 58.35,169 59.1,168.95 59.85,168.9 60.6,168.84 61.35,168.78 62.1,168.72 62.85,168.65 63.6,168.58 64.35,168.51 65.1,168.43 65.85,168.35 66.6,168.26 67.35,168.17 68.1,168.07 68.85,167.97 69.6,167.86 70.35,167.75 71.1,167.63 71.85,167.51 72.6,167.38 73.35,167.24 74.1,167.1 74.85,166.95 75.6,166.79 76.35,166.62 77.1,166.45 77.85,166.27 78.6,166.08 79.35,165.88 80.1,165.68 80.85,165.47 81.6,165.25 82.35,165.02 83.1,164.78 83.85,164.53 84.6,164.28 85.35,164.01 86.1,163.74 86.85,163.46 87.6,163.17 88.35,162.87 89.1,162.57 89.85,162.26 90.6,161.94 91.35,161.62 92.1,161.29 92.85,160.95 93.6,160.61 94.35,160.26 95.1,159.91 95.85,159.55 96.6,159.19 97.35,158.83 98.1,158.47 98.85,158.11 99.6,157.74 100.35,157.38 101.1,157.02 101.85,156.65 102.6,156.29 103.35,155.94 104.1,155.58 104.85,155.24 105.6,154.89 106.35,154.55 107.1,154.22 107.85,153.89 108.6,153.57 109.35,153.25 110.1,152.95 110.85,152.65 111.6,152.36 112.35,152.07 113.1,151.8 113.85,151.53 114.6,151.27 115.35,151.02 116.1,150.78 116.85,150.54 117.6,150.32 118.35,150.1 119.1,149.89 119.85,149.69 120.6,149.5 121.35,149.32 122.1,149.14 122.85,148.97 123.6,148.81 124.35,148.66 125.1,148.51 125.85,148.37 126.6,148.24 127.35,148.11 128.1,147.99 128.85,147.87 129.6,147.76 130.35,147.66 131.1,147.56 131.85,147.47 132.6,147.38 133.35,147.29 134.1,147.21 134.85,147.14 135.6,147.06 136.35,147 137.1,146.93 137.85,146.87 138.6,146.81 139.35,146.76 140.1,146.71 140.85,146.66 141.6,146.61 142.35,146.57 143.1,146.53 143.85,146.49 144.6,146.45 145.35,146.42 146.1,146.38 146.85,146.35 147.6,146.32 148.35,146.3 149.1,146.27 149.85,146.25 150.6,146.22 151.35,146.2 152.1,146.18 152.85,146.16 153.6,146.14 154.35,146.13 155.1,146.11 155.85,146.1 156.6,146.08 157.35,146.07 158.1,146.05 158.85,146.04 159.6,146.03 160.35,146.02 161.1,146.01 161.85,146 162.6,145.99 163.35,145.98 164.1,145.98 164.85,145.97 165.6,145.96 166.35,145.96 167.1,145.95 167.85,145.94 168.6,145.94 169.35,145.93 170.1,145.93 170.85,145.92 171.6,145.92 172.35,145.92 173.1,145.91 173.85,145.91 174.6,145.9 175.35,145.9 176.1,145.9 176.85,145.9 177.6,145.89 178.35,145.89 179.1,145.89 179.85,145.89 180.6,145.88 181.35,145.88 182.1,145.88 182.85,145.88 183.6,145.88 184.35,145.87 185.1,145.87 185.85,145.87 186.6,145.87 187.35,145.87 188.1,145.87 188.85,145.87 189.6,145.87 190.35,145.87 191.1,145.86 191.85,145.86 192.6,145.86 193.35,145.86 194.1,145.86 194.85,145.86 195.6,145.86 196.35,145.86 197.1,145.86 197.85,145.86 198.6,145.86 199.35,145.86 200.1,145.86 200.85,145.86 201.6,145.86 202.35,145.86 203.1,145.86 203.85,145.86 204.6,145.85 205.35,145.85 206.1,145.85 206.85,145.85 207.6,145.85 208.35,145.85 209.1,145.85 209.85,145.85 210.6,145.85 211.35,145.85 212.1,145.85 212.85,145.85 213.6,145.85 214.35,145.85 215.1,145.85 215.85,145.85 216.6,145.85 217.35,145.85 218.1,145.85" fill="none" stroke="#F2734F" stroke-width="0.75" stroke-linejoin="round" opacity="0.9"/>
<polyline points="41.1,169.56 41.85,169.54 42.6,169.52 43.35,169.5 44.1,169.48 44.85,169.46 45.6,169.43 46.35,169.41 47.1,169.38 47.85,169.36 48.6,169.33 49.35,169.29 50.1,169.26 50.85,169.23 51.6,169.19 52.35,169.15 53.1,169.11 53.85,169.06 54.6,169.02 55.35,168.97 56.1,168.91 56.85,168.86 57.6,168.8 58.35,168.74 59.1,168.67 59.85,168.6 60.6,168.53 61.35,168.45 62.1,168.37 62.85,168.29 63.6,168.2 64.35,168.1 65.1,168 65.85,167.89 66.6,167.78 67.35,167.67 68.1,167.54 68.85,167.41 69.6,167.28 70.35,167.14 71.1,166.99 71.85,166.83 72.6,166.67 73.35,166.5 74.1,166.32 74.85,166.13 75.6,165.94 76.35,165.73 77.1,165.52 77.85,165.3 78.6,165.07 79.35,164.84 80.1,164.59 80.85,164.34 81.6,164.08 82.35,163.81 83.1,163.53 83.85,163.24 84.6,162.94 85.35,162.64 86.1,162.33 86.85,162.01 87.6,161.69 88.35,161.36 89.1,161.02 89.85,160.68 90.6,160.33 91.35,159.98 92.1,159.62 92.85,159.26 93.6,158.9 94.35,158.53 95.1,158.17 95.85,157.8 96.6,157.43 97.35,157.06 98.1,156.7 98.85,156.34 99.6,155.98 100.35,155.62 101.1,155.26 101.85,154.92 102.6,154.57 103.35,154.23 104.1,153.9 104.85,153.57 105.6,153.25 106.35,152.94 107.1,152.63 107.85,152.34 108.6,152.05 109.35,151.77 110.1,151.49 110.85,151.23 111.6,150.97 112.35,150.73 113.1,150.49 113.85,150.26 114.6,150.03 115.35,149.82 116.1,149.62 116.85,149.42 117.6,149.23 118.35,149.05 119.1,148.88 119.85,148.71 120.6,148.55 121.35,148.4 122.1,148.26 122.85,148.12 123.6,147.99 124.35,147.86 125.1,147.75 125.85,147.63 126.6,147.53 127.35,147.42 128.1,147.33 128.85,147.23 129.6,147.15 130.35,147.07 131.1,146.99 131.85,146.91 132.6,146.84 133.35,146.78 134.1,146.71 134.85,146.65 135.6,146.6 136.35,146.54 137.1,146.49 137.85,146.45 138.6,146.4 139.35,146.36 140.1,146.32 140.85,146.28 141.6,146.25 142.35,146.21 143.1,146.18 143.85,146.15 144.6,146.12 145.35,146.09 146.1,146.07 146.85,146.05 147.6,146.02 148.35,146 149.1,145.98 149.85,145.96 150.6,145.95 151.35,145.93 152.1,145.91 152.85,145.9 153.6,145.88 154.35,145.87 155.1,145.86 155.85,145.85 156.6,145.84 157.35,145.83 158.1,145.82 158.85,145.81 159.6,145.8 160.35,145.79 161.1,145.78 161.85,145.78 162.6,145.77 163.35,145.76 164.1,145.76 164.85,145.75 165.6,145.75 166.35,145.74 167.1,145.74 167.85,145.73 168.6,145.73 169.35,145.72 170.1,145.72 170.85,145.72 171.6,145.71 172.35,145.71 173.1,145.71 173.85,145.7 174.6,145.7 175.35,145.7 176.1,145.7 176.85,145.69 177.6,145.69 178.35,145.69 179.1,145.69 179.85,145.69 180.6,145.69 181.35,145.68 182.1,145.68 182.85,145.68 183.6,145.68 184.35,145.68 185.1,145.68 185.85,145.68 186.6,145.68 187.35,145.67 188.1,145.67 188.85,145.67 189.6,145.67 190.35,145.67 191.1,145.67 191.85,145.67 192.6,145.67 193.35,145.67 194.1,145.67 194.85,145.67 195.6,145.67 196.35,145.67 197.1,145.67 197.85,145.67 198.6,145.67 199.35,145.67 200.1,145.67 200.85,145.66 201.6,145.66 202.35,145.66 203.1,145.66 203.85,145.66 204.6,145.66 205.35,145.66 206.1,145.66 206.85,145.66 207.6,145.66 208.35,145.66 209.1,145.66 209.85,145.66 210.6,145.66 211.35,145.66 212.1,145.66 212.85,145.66 213.6,145.66 214.35,145.66 215.1,145.66 215.85,145.66 216.6,145.66 217.35,145.66 218.1,145.66" fill="none" stroke="#F2734F" stroke-width="0.75" stroke-linejoin="round" opacity="0.9"/>
<polyline points="41.1,169.46 41.85,169.44 42.6,169.42 43.35,169.39 44.1,169.36 44.85,169.33 45.6,169.3 46.35,169.27 47.1,169.24 47.85,169.2 48.6,169.16 49.35,169.12 50.1,169.08 50.85,169.03 51.6,168.98 52.35,168.93 53.1,168.88 53.85,168.82 54.6,168.76 55.35,168.69 56.1,168.62 56.85,168.55 57.6,168.48 58.35,168.4 59.1,168.31 59.85,168.22 60.6,168.13 61.35,168.03 62.1,167.92 62.85,167.81 63.6,167.7 64.35,167.58 65.1,167.45 65.85,167.32 66.6,167.17 67.35,167.03 68.1,166.87 68.85,166.71 69.6,166.54 70.35,166.36 71.1,166.18 71.85,165.99 72.6,165.79 73.35,165.58 74.1,165.36 74.85,165.13 75.6,164.9 76.35,164.65 77.1,164.4 77.85,164.14 78.6,163.87 79.35,163.59 80.1,163.31 80.85,163.01 81.6,162.71 82.35,162.4 83.1,162.08 83.85,161.76 84.6,161.43 85.35,161.09 86.1,160.75 86.85,160.4 87.6,160.04 88.35,159.69 89.1,159.33 89.85,158.96 90.6,158.59 91.35,158.23 92.1,157.86 92.85,157.49 93.6,157.12 94.35,156.75 95.1,156.38 95.85,156.02 96.6,155.65 97.35,155.3 98.1,154.94 98.85,154.59 99.6,154.25 100.35,153.91 101.1,153.58 101.85,153.25 102.6,152.94 103.35,152.63 104.1,152.32 104.85,152.03 105.6,151.74 106.35,151.46 107.1,151.19 107.85,150.93 108.6,150.68 109.35,150.43 110.1,150.2 110.85,149.97 111.6,149.75 112.35,149.54 113.1,149.34 113.85,149.15 114.6,148.96 115.35,148.78 116.1,148.61 116.85,148.45 117.6,148.29 118.35,148.15 119.1,148.01 119.85,147.87 120.6,147.74 121.35,147.62 122.1,147.5 122.85,147.39 123.6,147.29 124.35,147.19 125.1,147.09 125.85,147.01 126.6,146.92 127.35,146.84 128.1,146.76 128.85,146.69 129.6,146.62 130.35,146.56 131.1,146.5 131.85,146.44 132.6,146.38 133.35,146.33 134.1,146.28 134.85,146.24 135.6,146.19 136.35,146.15 137.1,146.11 137.85,146.07 138.6,146.04 139.35,146.01 140.1,145.98 140.85,145.95 141.6,145.92 142.35,145.89 143.1,145.87 143.85,145.85 144.6,145.82 145.35,145.8 146.1,145.78 146.85,145.77 147.6,145.75 148.35,145.73 149.1,145.72 149.85,145.7 150.6,145.69 151.35,145.68 152.1,145.66 152.85,145.65 153.6,145.64 154.35,145.63 155.1,145.62 155.85,145.61 156.6,145.61 157.35,145.6 158.1,145.59 158.85,145.58 159.6,145.58 160.35,145.57 161.1,145.56 161.85,145.56 162.6,145.55 163.35,145.55 164.1,145.54 164.85,145.54 165.6,145.54 166.35,145.53 167.1,145.53 167.85,145.52 168.6,145.52 169.35,145.52 170.1,145.52 170.85,145.51 171.6,145.51 172.35,145.51 173.1,145.51 173.85,145.5 174.6,145.5 175.35,145.5 176.1,145.5 176.85,145.5 177.6,145.49 178.35,145.49 179.1,145.49 179.85,145.49 180.6,145.49 181.35,145.49 182.1,145.49 182.85,145.49 183.6,145.49 184.35,145.48 185.1,145.48 185.85,145.48 186.6,145.48 187.35,145.48 188.1,145.48 188.85,145.48 189.6,145.48 190.35,145.48 191.1,145.48 191.85,145.48 192.6,145.48 193.35,145.48 194.1,145.48 194.85,145.48 195.6,145.48 196.35,145.48 197.1,145.48 197.85,145.47 198.6,145.47 199.35,145.47 200.1,145.47 200.85,145.47 201.6,145.47 202.35,145.47 203.1,145.47 203.85,145.47 204.6,145.47 205.35,145.47 206.1,145.47 206.85,145.47 207.6,145.47 208.35,145.47 209.1,145.47 209.85,145.47 210.6,145.47 211.35,145.47 212.1,145.47 212.85,145.47 213.6,145.47 214.35,145.47 215.1,145.47 215.85,145.47 216.6,145.47 217.35,145.47 218.1,145.47" fill="none" stroke="#F2734F" stroke-width="0.75" stroke-linejoin="round" opacity="0.9"/>
<polyline points="41.1,169.34 41.85,169.31 42.6,169.28 43.35,169.25 44.1,169.21 44.85,169.17 45.6,169.13 46.35,169.09 47.1,169.04 47.85,169 48.6,168.94 49.35,168.89 50.1,168.83 50.85,168.77 51.6,168.71 52.35,168.64 53.1,168.57 53.85,168.5 54.6,168.42 55.35,168.33 56.1,168.25 56.85,168.15 57.6,168.06 58.35,167.95 59.1,167.84 59.85,167.73 60.6,167.61 61.35,167.48 62.1,167.35 62.85,167.21 63.6,167.07 64.35,166.91 65.1,166.75 65.85,166.59 66.6,166.41 67.35,166.23 68.1,166.04 68.85,165.84 69.6,165.63 70.35,165.42 71.1,165.19 71.85,164.96 72.6,164.72 73.35,164.47 74.1,164.21 74.85,163.94 75.6,163.66 76.35,163.38 77.1,163.08 77.85,162.78 78.6,162.47 79.35,162.16 80.1,161.83 80.85,161.5 81.6,161.16 82.35,160.82 83.1,160.47 83.85,160.12 84.6,159.76 85.35,159.39 86.1,159.03 86.85,158.66 87.6,158.29 88.35,157.92 89.1,157.54 89.85,157.17 90.6,156.8 91.35,156.43 92.1,156.06 92.85,155.69 93.6,155.33 94.35,154.97 95.1,154.62 95.85,154.27 96.6,153.93 97.35,153.59 98.1,153.26 98.85,152.94 99.6,152.62 100.35,152.31 101.1,152.01 101.85,151.72 102.6,151.43 103.35,151.16 104.1,150.89 104.85,150.63 105.6,150.38 106.35,150.14 107.1,149.91 107.85,149.68 108.6,149.47 109.35,149.26 110.1,149.06 110.85,148.87 111.6,148.69 112.35,148.52 113.1,148.35 113.85,148.19 114.6,148.04 115.35,147.89 116.1,147.75 116.85,147.62 117.6,147.5 118.35,147.38 119.1,147.26 119.85,147.16 120.6,147.05 121.35,146.96 122.1,146.86 122.85,146.78 123.6,146.69 124.35,146.61 125.1,146.54 125.85,146.47 126.6,146.4 127.35,146.34 128.1,146.28 128.85,146.22 129.6,146.17 130.35,146.12 131.1,146.07 131.85,146.03 132.6,145.98 133.35,145.94 134.1,145.9 134.85,145.87 135.6,145.83 136.35,145.8 137.1,145.77 137.85,145.74 138.6,145.72 139.35,145.69 140.1,145.67 140.85,145.65 141.6,145.62 142.35,145.6 143.1,145.59 143.85,145.57 144.6,145.55 145.35,145.53 146.1,145.52 146.85,145.51 147.6,145.49 148.35,145.48 149.1,145.47 149.85,145.46 150.6,145.45 151.35,145.44 152.1,145.43 152.85,145.42 153.6,145.41 154.35,145.4 155.1,145.4 155.85,145.39 156.6,145.38 157.35,145.38 158.1,145.37 158.85,145.37 159.6,145.36 160.35,145.36 161.1,145.35 161.85,145.35 162.6,145.34 163.35,145.34 164.1,145.34 164.85,145.33 165.6,145.33 166.35,145.33 167.1,145.32 167.85,145.32 168.6,145.32 169.35,145.32 170.1,145.31 170.85,145.31 171.6,145.31 172.35,145.31 173.1,145.31 173.85,145.31 174.6,145.3 175.35,145.3 176.1,145.3 176.85,145.3 177.6,145.3 178.35,145.3 179.1,145.3 179.85,145.3 180.6,145.29 181.35,145.29 182.1,145.29 182.85,145.29 183.6,145.29 184.35,145.29 185.1,145.29 185.85,145.29 186.6,145.29 187.35,145.29 188.1,145.29 188.85,145.29 189.6,145.29 190.35,145.29 191.1,145.29 191.85,145.29 192.6,145.29 193.35,145.29 194.1,145.28 194.85,145.28 195.6,145.28 196.35,145.28 197.1,145.28 197.85,145.28 198.6,145.28 199.35,145.28 200.1,145.28 200.85,145.28 201.6,145.28 202.35,145.28 203.1,145.28 203.85,145.28 204.6,145.28 205.35,145.28 206.1,145.28 206.85,145.28 207.6,145.28 208.35,145.28 209.1,145.28 209.85,145.28 210.6,145.28 211.35,145.28 212.1,145.28 212.85,145.28 213.6,145.28 214.35,145.28 215.1,145.28 215.85,145.28 216.6,145.28 217.35,145.28 218.1,145.28" fill="none" stroke="#F2734F" stroke-width="0.75" stroke-linejoin="round" opacity="0.9"/>
<polyline points="41.1,169.18 41.85,169.14 42.6,169.1 43.35,169.06 44.1,169.01 44.85,168.96 45.6,168.91 46.35,168.85 47.1,168.79 47.85,168.73 48.6,168.66 49.35,168.59 50.1,168.52 50.85,168.44 51.6,168.36 52.35,168.27 53.1,168.18 53.85,168.08 54.6,167.98 55.35,167.87 56.1,167.76 56.85,167.64 57.6,167.52 58.35,167.39 59.1,167.25 59.85,167.11 60.6,166.96 61.35,166.8 62.1,166.63 62.85,166.46 63.6,166.28 64.35,166.09 65.1,165.89 65.85,165.69 66.6,165.47 67.35,165.25 68.1,165.02 68.85,164.78 69.6,164.53 70.35,164.27 71.1,164 71.85,163.73 72.6,163.45 73.35,163.15 74.1,162.85 74.85,162.55 75.6,162.23 76.35,161.91 77.1,161.57 77.85,161.24 78.6,160.89 79.35,160.54 80.1,160.19 80.85,159.83 81.6,159.46 82.35,159.1 83.1,158.73 83.85,158.35 84.6,157.98 85.35,157.6 86.1,157.23 86.85,156.85 87.6,156.48 88.35,156.11 89.1,155.74 89.85,155.37 90.6,155.01 91.35,154.65 92.1,154.29 92.85,153.95 93.6,153.6 94.35,153.27 95.1,152.94 95.85,152.62 96.6,152.3 97.35,152 98.1,151.7 98.85,151.41 99.6,151.13 100.35,150.85 101.1,150.59 101.85,150.33 102.6,150.09 103.35,149.85 104.1,149.62 104.85,149.4 105.6,149.19 106.35,148.98 107.1,148.79 107.85,148.6 108.6,148.42 109.35,148.25 110.1,148.09 110.85,147.93 111.6,147.78 112.35,147.64 113.1,147.5 113.85,147.38 114.6,147.25 115.35,147.14 116.1,147.02 116.85,146.92 117.6,146.82 118.35,146.72 119.1,146.63 119.85,146.55 120.6,146.47 121.35,146.39 122.1,146.32 122.85,146.25 123.6,146.18 124.35,146.12 125.1,146.06 125.85,146.01 126.6,145.96 127.35,145.91 128.1,145.86 128.85,145.82 129.6,145.77 130.35,145.73 131.1,145.7 131.85,145.66 132.6,145.63 133.35,145.6 134.1,145.57 134.85,145.54 135.6,145.52 136.35,145.49 137.1,145.47 137.85,145.45 138.6,145.42 139.35,145.41 140.1,145.39 140.85,145.37 141.6,145.35 142.35,145.34 143.1,145.32 143.85,145.31 144.6,145.3 145.35,145.28 146.1,145.27 146.85,145.26 147.6,145.25 148.35,145.24 149.1,145.23 149.85,145.23 150.6,145.22 151.35,145.21 152.1,145.2 152.85,145.2 153.6,145.19 154.35,145.18 155.1,145.18 155.85,145.17 156.6,145.17 157.35,145.16 158.1,145.16 158.85,145.16 159.6,145.15 160.35,145.15 161.1,145.14 161.85,145.14 162.6,145.14 163.35,145.14 164.1,145.13 164.85,145.13 165.6,145.13 166.35,145.13 167.1,145.12 167.85,145.12 168.6,145.12 169.35,145.12 170.1,145.12 170.85,145.11 171.6,145.11 172.35,145.11 173.1,145.11 173.85,145.11 174.6,145.11 175.35,145.11 176.1,145.11 176.85,145.11 177.6,145.1 178.35,145.1 179.1,145.1 179.85,145.1 180.6,145.1 181.35,145.1 182.1,145.1 182.85,145.1 183.6,145.1 184.35,145.1 185.1,145.1 185.85,145.1 186.6,145.1 187.35,145.1 188.1,145.1 188.85,145.1 189.6,145.1 190.35,145.1 191.1,145.09 191.85,145.09 192.6,145.09 193.35,145.09 194.1,145.09 194.85,145.09 195.6,145.09 196.35,145.09 197.1,145.09 197.85,145.09 198.6,145.09 199.35,145.09 200.1,145.09 200.85,145.09 201.6,145.09 202.35,145.09 203.1,145.09 203.85,145.09 204.6,145.09 205.35,145.09 206.1,145.09 206.85,145.09 207.6,145.09 208.35,145.09 209.1,145.09 209.85,145.09 210.6,145.09 211.35,145.09 212.1,145.09 212.85,145.09 213.6,145.09 214.35,145.09 215.1,145.09 215.85,145.09 216.6,145.09 217.35,145.09 218.1,145.09" fill="none" stroke="#F2734F" stroke-width="0.75" stroke-linejoin="round" opacity="0.9"/>
<polyline points="41.1,168.97 41.85,168.92 42.6,168.87 43.35,168.81 44.1,168.75 44.85,168.68 45.6,168.61 46.35,168.54 47.1,168.46 47.85,168.38 48.6,168.3 49.35,168.21 50.1,168.11 50.85,168.01 51.6,167.9 52.35,167.79 53.1,167.68 53.85,167.55 54.6,167.42 55.35,167.29 56.1,167.15 56.85,167 57.6,166.84 58.35,166.68 59.1,166.51 59.85,166.33 60.6,166.14 61.35,165.94 62.1,165.74 62.85,165.53 63.6,165.31 64.35,165.08 65.1,164.84 65.85,164.59 66.6,164.34 67.35,164.07 68.1,163.8 68.85,163.52 69.6,163.22 70.35,162.93 71.1,162.62 71.85,162.3 72.6,161.98 73.35,161.65 74.1,161.31 74.85,160.97 75.6,160.62 76.35,160.26 77.1,159.9 77.85,159.54 78.6,159.17 79.35,158.8 80.1,158.42 80.85,158.04 81.6,157.67 82.35,157.29 83.1,156.91 83.85,156.53 84.6,156.15 85.35,155.78 86.1,155.41 86.85,155.04 87.6,154.68 88.35,154.32 89.1,153.97 89.85,153.62 90.6,153.28 91.35,152.94 92.1,152.62 92.85,152.3 93.6,151.99 94.35,151.68 95.1,151.39 95.85,151.1 96.6,150.82 97.35,150.55 98.1,150.29 98.85,150.04 99.6,149.79 100.35,149.56 101.1,149.33 101.85,149.12 102.6,148.91 103.35,148.71 104.1,148.52 104.85,148.33 105.6,148.16 106.35,147.99 107.1,147.83 107.85,147.67 108.6,147.53 109.35,147.39 110.1,147.26 110.85,147.13 111.6,147.01 112.35,146.9 113.1,146.79 113.85,146.68 114.6,146.59 115.35,146.49 116.1,146.4 116.85,146.32 117.6,146.24 118.35,146.17 119.1,146.1 119.85,146.03 120.6,145.96 121.35,145.9 122.1,145.85 122.85,145.79 123.6,145.74 124.35,145.69 125.1,145.65 125.85,145.61 126.6,145.57 127.35,145.53 128.1,145.49 128.85,145.46 129.6,145.43 130.35,145.39 131.1,145.37 131.85,145.34 132.6,145.31 133.35,145.29 134.1,145.27 134.85,145.25 135.6,145.23 136.35,145.21 137.1,145.19 137.85,145.17 138.6,145.16 139.35,145.14 140.1,145.13 140.85,145.11 141.6,145.1 142.35,145.09 143.1,145.08 143.85,145.07 144.6,145.06 145.35,145.05 146.1,145.04 146.85,145.03 147.6,145.02 148.35,145.02 149.1,145.01 149.85,145 150.6,145 151.35,144.99 152.1,144.99 152.85,144.98 153.6,144.98 154.35,144.97 155.1,144.97 155.85,144.96 156.6,144.96 157.35,144.96 158.1,144.95 158.85,144.95 159.6,144.95 160.35,144.94 161.1,144.94 161.85,144.94 162.6,144.94 163.35,144.93 164.1,144.93 164.85,144.93 165.6,144.93 166.35,144.93 167.1,144.93 167.85,144.92 168.6,144.92 169.35,144.92 170.1,144.92 170.85,144.92 171.6,144.92 172.35,144.92 173.1,144.92 173.85,144.91 174.6,144.91 175.35,144.91 176.1,144.91 176.85,144.91 177.6,144.91 178.35,144.91 179.1,144.91 179.85,144.91 180.6,144.91 181.35,144.91 182.1,144.91 182.85,144.91 183.6,144.91 184.35,144.91 185.1,144.91 185.85,144.91 186.6,144.91 187.35,144.9 188.1,144.9 188.85,144.9 189.6,144.9 190.35,144.9 191.1,144.9 191.85,144.9 192.6,144.9 193.35,144.9 194.1,144.9 194.85,144.9 195.6,144.9 196.35,144.9 197.1,144.9 197.85,144.9 198.6,144.9 199.35,144.9 200.1,144.9 200.85,144.9 201.6,144.9 202.35,144.9 203.1,144.9 203.85,144.9 204.6,144.9 205.35,144.9 206.1,144.9 206.85,144.9 207.6,144.9 208.35,144.9 209.1,144.9 209.85,144.9 210.6,144.9 211.35,144.9 212.1,144.9 212.85,144.9 213.6,144.9 214.35,144.9 215.1,144.9 215.85,144.9 216.6,144.9 217.35,144.9 218.1,144.9" fill="none" stroke="#F2734F" stroke-width="0.75" stroke-linejoin="round" opacity="0.9"/>
<polyline points="41.1,164.99 41.85,164.87 42.6,164.76 43.35,164.63 44.1,164.51 44.85,164.39 45.6,164.26 46.35,164.13 47.1,164 47.85,163.86 48.6,163.73 49.35,163.59 50.1,163.45 50.85,163.31 51.6,163.16 52.35,163.02 53.1,162.87 53.85,162.72 54.6,162.56 55.35,162.41 56.1,162.25 56.85,162.09 57.6,161.93 58.35,161.77 59.1,161.61 59.85,161.44 60.6,161.28 61.35,161.11 62.1,160.94 62.85,160.76 63.6,160.59 64.35,160.42 65.1,160.24 65.85,160.06 66.6,159.89 67.35,159.71 68.1,159.53 68.85,159.34 69.6,159.16 70.35,158.98 71.1,158.8 71.85,158.61 72.6,158.43 73.35,158.24 74.1,158.06 74.85,157.87 75.6,157.69 76.35,157.5 77.1,157.32 77.85,157.13 78.6,156.95 79.35,156.76 80.1,156.58 80.85,156.39 81.6,156.21 82.35,156.03 83.1,155.85 83.85,155.67 84.6,155.49 85.35,155.31 86.1,155.13 86.85,154.95 87.6,154.78 88.35,154.6 89.1,154.43 89.85,154.26 90.6,154.09 91.35,153.92 92.1,153.75 92.85,153.59 93.6,153.42 94.35,153.26 95.1,153.1 95.85,152.94 96.6,152.79 97.35,152.63 98.1,152.48 98.85,152.33 99.6,152.18 100.35,152.03 101.1,151.89 101.85,151.75 102.6,151.61 103.35,151.47 104.1,151.33 104.85,151.2 105.6,151.07 106.35,150.94 107.1,150.81 107.85,150.69 108.6,150.56 109.35,150.44 110.1,150.33 110.85,150.21 111.6,150.1 112.35,149.98 113.1,149.87 113.85,149.77 114.6,149.66 115.35,149.56 116.1,149.46 116.85,149.36 117.6,149.26 118.35,149.17 119.1,149.08 119.85,148.98 120.6,148.9 121.35,148.81 122.1,148.72 122.85,148.64 123.6,148.56 124.35,148.48 125.1,148.4 125.85,148.33 126.6,148.26 127.35,148.18 128.1,148.11 128.85,148.05 129.6,147.98 130.35,147.91 131.1,147.85 131.85,147.79 132.6,147.73 133.35,147.67 134.1,147.61 134.85,147.56 135.6,147.5 136.35,147.45 137.1,147.4 137.85,147.35 138.6,147.3 139.35,147.25 140.1,147.2 140.85,147.16 141.6,147.11 142.35,147.07 143.1,147.03 143.85,146.99 144.6,146.95 145.35,146.91 146.1,146.87 146.85,146.84 147.6,146.8 148.35,146.77 149.1,146.73 149.85,146.7 150.6,146.67 151.35,146.64 152.1,146.61 152.85,146.58 153.6,146.55 154.35,146.52 155.1,146.5 155.85,146.47 156.6,146.45 157.35,146.42 158.1,146.4 158.85,146.37 159.6,146.35 160.35,146.33 161.1,146.31 161.85,146.29 162.6,146.27 163.35,146.25 164.1,146.23 164.85,146.21 165.6,146.19 166.35,146.18 167.1,146.16 167.85,146.14 168.6,146.13 169.35,146.11 170.1,146.1 170.85,146.08 171.6,146.07 172.35,146.05 173.1,146.04 173.85,146.03 174.6,146.02 175.35,146 176.1,145.99 176.85,145.98 177.6,145.97 178.35,145.96 179.1,145.95 179.85,145.94 180.6,145.93 181.35,145.92 182.1,145.91 182.85,145.9 183.6,145.89 184.35,145.88 185.1,145.88 185.85,145.87 186.6,145.86 187.35,145.85 188.1,145.85 188.85,145.84 189.6,145.83 190.35,145.83 191.1,145.82 191.85,145.81 192.6,145.81 193.35,145.8 194.1,145.79 194.85,145.79 195.6,145.78 196.35,145.78 197.1,145.77 197.85,145.77 198.6,145.76 199.35,145.76 200.1,145.76 200.85,145.75 201.6,145.75 202.35,145.74 203.1,145.74 203.85,145.73 204.6,145.73 205.35,145.73 206.1,145.72 206.85,145.72 207.6,145.72 208.35,145.71 209.1,145.71 209.85,145.71 210.6,145.71 211.35,145.7 212.1,145.7 212.85,145.7 213.6,145.69 214.35,145.69 215.1,145.69 215.85,145.69 216.6,145.68 217.35,145.68 218.1,145.68" fill="none" stroke="#F2734F" stroke-width="0.7" stroke-linejoin="round" opacity="0.9"/>
<polyline points="41.1,164.33 41.85,164.21 42.6,164.08 43.35,163.94 44.1,163.81 44.85,163.67 45.6,163.53 46.35,163.39 47.1,163.24 47.85,163.1 48.6,162.95 49.35,162.8 50.1,162.65 50.85,162.49 51.6,162.34 52.35,162.18 53.1,162.02 53.85,161.86 54.6,161.69 55.35,161.53 56.1,161.36 56.85,161.19 57.6,161.02 58.35,160.85 59.1,160.68 59.85,160.5 60.6,160.32 61.35,160.15 62.1,159.97 62.85,159.79 63.6,159.61 64.35,159.43 65.1,159.24 65.85,159.06 66.6,158.87 67.35,158.69 68.1,158.5 68.85,158.32 69.6,158.13 70.35,157.94 71.1,157.76 71.85,157.57 72.6,157.38 73.35,157.2 74.1,157.01 74.85,156.82 75.6,156.63 76.35,156.45 77.1,156.26 77.85,156.08 78.6,155.89 79.35,155.71 80.1,155.53 80.85,155.35 81.6,155.16 82.35,154.98 83.1,154.81 83.85,154.63 84.6,154.45 85.35,154.28 86.1,154.1 86.85,153.93 87.6,153.76 88.35,153.59 89.1,153.43 89.85,153.26 90.6,153.1 91.35,152.94 92.1,152.78 92.85,152.62 93.6,152.46 94.35,152.31 95.1,152.16 95.85,152.01 96.6,151.86 97.35,151.71 98.1,151.57 98.85,151.43 99.6,151.29 100.35,151.15 101.1,151.02 101.85,150.88 102.6,150.75 103.35,150.62 104.1,150.5 104.85,150.37 105.6,150.25 106.35,150.13 107.1,150.02 107.85,149.9 108.6,149.79 109.35,149.68 110.1,149.57 110.85,149.46 111.6,149.36 112.35,149.26 113.1,149.16 113.85,149.06 114.6,148.97 115.35,148.87 116.1,148.78 116.85,148.69 117.6,148.6 118.35,148.52 119.1,148.43 119.85,148.35 120.6,148.27 121.35,148.19 122.1,148.12 122.85,148.04 123.6,147.97 124.35,147.9 125.1,147.83 125.85,147.76 126.6,147.7 127.35,147.63 128.1,147.57 128.85,147.51 129.6,147.45 130.35,147.39 131.1,147.34 131.85,147.28 132.6,147.23 133.35,147.18 134.1,147.13 134.85,147.08 135.6,147.03 136.35,146.98 137.1,146.93 137.85,146.89 138.6,146.85 139.35,146.8 140.1,146.76 140.85,146.72 141.6,146.69 142.35,146.65 143.1,146.61 143.85,146.57 144.6,146.54 145.35,146.51 146.1,146.47 146.85,146.44 147.6,146.41 148.35,146.38 149.1,146.35 149.85,146.32 150.6,146.29 151.35,146.27 152.1,146.24 152.85,146.22 153.6,146.19 154.35,146.17 155.1,146.14 155.85,146.12 156.6,146.1 157.35,146.08 158.1,146.06 158.85,146.04 159.6,146.02 160.35,146 161.1,145.98 161.85,145.96 162.6,145.94 163.35,145.93 164.1,145.91 164.85,145.89 165.6,145.88 166.35,145.86 167.1,145.85 167.85,145.84 168.6,145.82 169.35,145.81 170.1,145.8 170.85,145.78 171.6,145.77 172.35,145.76 173.1,145.75 173.85,145.74 174.6,145.73 175.35,145.71 176.1,145.7 176.85,145.69 177.6,145.68 178.35,145.68 179.1,145.67 179.85,145.66 180.6,145.65 181.35,145.64 182.1,145.63 182.85,145.63 183.6,145.62 184.35,145.61 185.1,145.6 185.85,145.6 186.6,145.59 187.35,145.58 188.1,145.58 188.85,145.57 189.6,145.56 190.35,145.56 191.1,145.55 191.85,145.55 192.6,145.54 193.35,145.54 194.1,145.53 194.85,145.53 195.6,145.52 196.35,145.52 197.1,145.51 197.85,145.51 198.6,145.51 199.35,145.5 200.1,145.5 200.85,145.49 201.6,145.49 202.35,145.49 203.1,145.48 203.85,145.48 204.6,145.48 205.35,145.47 206.1,145.47 206.85,145.47 207.6,145.47 208.35,145.46 209.1,145.46 209.85,145.46 210.6,145.46 211.35,145.45 212.1,145.45 212.85,145.45 213.6,145.45 214.35,145.44 215.1,145.44 215.85,145.44 216.6,145.44 217.35,145.44 218.1,145.43" fill="none" stroke="#F2734F" stroke-width="0.7" stroke-linejoin="round" opacity="0.9"/>
</g>
<line x1="212.33" y1="67" x2="212.33" y2="70.7" stroke="#b45840" stroke-width="1.3" stroke-linecap="round" opacity="0.85"/>
<circle cx="212.33" cy="67.3" r="0.9" fill="#b45840"/>
<line x1="212.33" y1="74.21" x2="212.33" y2="75.11" stroke="#1c2a7a" stroke-width="1.5" stroke-linecap="round" opacity="0.85"/>
<line x1="212.33" y1="142.6" x2="212.33" y2="145.2" stroke="#b45840" stroke-width="1.3" stroke-linecap="round" opacity="0.85"/>
<circle cx="212.33" cy="142.9" r="0.9" fill="#b45840"/>
<line x1="212.33" y1="147.24" x2="212.33" y2="148.15" stroke="#1c2a7a" stroke-width="1.5" stroke-linecap="round" opacity="0.85"/>
<line x1="197.4" y1="67.03" x2="197.4" y2="70.72" stroke="#b45840" stroke-width="1.3" stroke-linecap="round" opacity="0.85"/>
<circle cx="197.4" cy="67.33" r="0.9" fill="#b45840"/>
<line x1="197.4" y1="74.27" x2="197.4" y2="75.2" stroke="#1c2a7a" stroke-width="1.5" stroke-linecap="round" opacity="0.85"/>
<line x1="197.4" y1="142.64" x2="197.4" y2="145.24" stroke="#b45840" stroke-width="1.3" stroke-linecap="round" opacity="0.85"/>
<circle cx="197.4" cy="142.94" r="0.9" fill="#b45840"/>
<line x1="197.4" y1="147.49" x2="197.4" y2="148.49" stroke="#1c2a7a" stroke-width="1.5" stroke-linecap="round" opacity="0.85"/>
<line x1="182.47" y1="67.09" x2="182.47" y2="70.75" stroke="#b45840" stroke-width="1.3" stroke-linecap="round" opacity="0.85"/>
<circle cx="182.47" cy="67.39" r="0.9" fill="#b45840"/>
<line x1="182.47" y1="74.38" x2="182.47" y2="75.35" stroke="#1c2a7a" stroke-width="1.5" stroke-linecap="round" opacity="0.85"/>
<line x1="182.47" y1="142.71" x2="182.47" y2="145.32" stroke="#b45840" stroke-width="1.3" stroke-linecap="round" opacity="0.85"/>
<circle cx="182.47" cy="143.01" r="0.9" fill="#b45840"/>
<line x1="182.47" y1="148.17" x2="182.47" y2="149.46" stroke="#1c2a7a" stroke-width="1.5" stroke-linecap="round" opacity="0.85"/>
<line x1="167.54" y1="67.16" x2="167.54" y2="70.78" stroke="#b45840" stroke-width="1.3" stroke-linecap="round" opacity="0.85"/>
<circle cx="167.54" cy="67.46" r="0.9" fill="#b45840"/>
<line x1="167.54" y1="74.53" x2="167.54" y2="75.53" stroke="#1c2a7a" stroke-width="1.5" stroke-linecap="round" opacity="0.85"/>
<line x1="167.54" y1="142.82" x2="167.54" y2="145.45" stroke="#b45840" stroke-width="1.3" stroke-linecap="round" opacity="0.85"/>
<circle cx="167.54" cy="143.12" r="0.9" fill="#b45840"/>
<line x1="167.54" y1="150.29" x2="167.54" y2="151.98" stroke="#1c2a7a" stroke-width="1.5" stroke-linecap="round" opacity="0.85"/>
<line x1="152.61" y1="67.24" x2="152.61" y2="70.82" stroke="#b45840" stroke-width="1.3" stroke-linecap="round" opacity="0.85"/>
<circle cx="152.61" cy="67.54" r="0.9" fill="#b45840"/>
<line x1="152.61" y1="74.88" x2="152.61" y2="75.88" stroke="#1c2a7a" stroke-width="1.5" stroke-linecap="round" opacity="0.85"/>
<line x1="152.61" y1="142.98" x2="152.61" y2="145.63" stroke="#b45840" stroke-width="1.3" stroke-linecap="round" opacity="0.85"/>
<circle cx="152.61" cy="143.28" r="0.9" fill="#b45840"/>
<line x1="152.61" y1="154.87" x2="152.61" y2="156.82" stroke="#1c2a7a" stroke-width="1.5" stroke-linecap="round" opacity="0.85"/>
<line x1="137.68" y1="67.39" x2="137.68" y2="70.9" stroke="#b45840" stroke-width="1.3" stroke-linecap="round" opacity="0.85"/>
<circle cx="137.68" cy="67.69" r="0.9" fill="#b45840"/>
<line x1="137.68" y1="75.65" x2="137.68" y2="76.83" stroke="#1c2a7a" stroke-width="1.5" stroke-linecap="round" opacity="0.85"/>
<line x1="137.68" y1="143.19" x2="137.68" y2="145.89" stroke="#b45840" stroke-width="1.3" stroke-linecap="round" opacity="0.85"/>
<circle cx="137.68" cy="143.49" r="0.9" fill="#b45840"/>
<line x1="137.68" y1="161.73" x2="137.68" y2="164.42" stroke="#1c2a7a" stroke-width="1.5" stroke-linecap="round" opacity="0.85"/>
<line x1="122.75" y1="67.77" x2="122.75" y2="71.45" stroke="#b45840" stroke-width="1.3" stroke-linecap="round" opacity="0.85"/>
<circle cx="122.75" cy="68.07" r="0.9" fill="#b45840"/>
<line x1="122.75" y1="77.76" x2="122.75" y2="79.52" stroke="#1c2a7a" stroke-width="1.5" stroke-linecap="round" opacity="0.85"/>
<line x1="122.75" y1="144.13" x2="122.75" y2="147.29" stroke="#b45840" stroke-width="1.3" stroke-linecap="round" opacity="0.85"/>
<circle cx="122.75" cy="144.43" r="0.9" fill="#b45840"/>
<line x1="122.75" y1="166.93" x2="122.75" y2="169.56" stroke="#1c2a7a" stroke-width="1.5" stroke-linecap="round" opacity="0.85"/>
<line x1="107.82" y1="68.75" x2="107.82" y2="73.42" stroke="#b45840" stroke-width="1.3" stroke-linecap="round" opacity="0.85"/>
<circle cx="107.82" cy="69.05" r="0.9" fill="#b45840"/>
<line x1="107.82" y1="81.57" x2="107.82" y2="84.73" stroke="#1c2a7a" stroke-width="1.5" stroke-linecap="round" opacity="0.85"/>
<line x1="107.82" y1="146.71" x2="107.82" y2="151.37" stroke="#b45840" stroke-width="1.3" stroke-linecap="round" opacity="0.85"/>
<circle cx="107.82" cy="147.01" r="0.9" fill="#b45840"/>
<line x1="107.82" y1="169.42" x2="107.82" y2="171.49" stroke="#1c2a7a" stroke-width="1.5" stroke-linecap="round" opacity="0.85"/>
<line x1="92.89" y1="72.64" x2="92.89" y2="78.51" stroke="#b45840" stroke-width="1.3" stroke-linecap="round" opacity="0.85"/>
<circle cx="92.89" cy="72.94" r="0.9" fill="#b45840"/>
<line x1="92.89" y1="87.43" x2="92.89" y2="91.52" stroke="#1c2a7a" stroke-width="1.5" stroke-linecap="round" opacity="0.85"/>
<line x1="92.89" y1="150.68" x2="92.89" y2="156.58" stroke="#b45840" stroke-width="1.3" stroke-linecap="round" opacity="0.85"/>
<circle cx="92.89" cy="150.98" r="0.9" fill="#b45840"/>
<line x1="92.89" y1="169.97" x2="92.89" y2="171.69" stroke="#1c2a7a" stroke-width="1.5" stroke-linecap="round" opacity="0.85"/>
<line x1="77.96" y1="78.38" x2="77.96" y2="85.19" stroke="#b45840" stroke-width="1.3" stroke-linecap="round" opacity="0.85"/>
<circle cx="77.96" cy="78.68" r="0.9" fill="#b45840"/>
<line x1="77.96" y1="92.26" x2="77.96" y2="95.99" stroke="#1c2a7a" stroke-width="1.5" stroke-linecap="round" opacity="0.85"/>
<line x1="77.96" y1="158.59" x2="77.96" y2="162.78" stroke="#b45840" stroke-width="1.3" stroke-linecap="round" opacity="0.85"/>
<circle cx="77.96" cy="158.89" r="0.9" fill="#b45840"/>
<line x1="77.96" y1="170.47" x2="77.96" y2="172.07" stroke="#1c2a7a" stroke-width="1.5" stroke-linecap="round" opacity="0.85"/>
<line x1="63.03" y1="84.39" x2="63.03" y2="90.09" stroke="#b45840" stroke-width="1.3" stroke-linecap="round" opacity="0.85"/>
<circle cx="63.03" cy="84.69" r="0.9" fill="#b45840"/>
<line x1="63.03" y1="95.52" x2="63.03" y2="98.19" stroke="#1c2a7a" stroke-width="1.5" stroke-linecap="round" opacity="0.85"/>
<line x1="63.03" y1="163.48" x2="63.03" y2="166.77" stroke="#b45840" stroke-width="1.3" stroke-linecap="round" opacity="0.85"/>
<circle cx="63.03" cy="163.78" r="0.9" fill="#b45840"/>
<line x1="63.03" y1="170.88" x2="63.03" y2="172.48" stroke="#1c2a7a" stroke-width="1.5" stroke-linecap="round" opacity="0.85"/>
<line x1="48.1" y1="89.92" x2="48.1" y2="93.62" stroke="#b45840" stroke-width="1.3" stroke-linecap="round" opacity="0.85"/>
<circle cx="48.1" cy="90.22" r="0.9" fill="#b45840"/>
<line x1="48.1" y1="97.67" x2="48.1" y2="99.42" stroke="#1c2a7a" stroke-width="1.5" stroke-linecap="round" opacity="0.85"/>
<line x1="48.1" y1="166.19" x2="48.1" y2="168.98" stroke="#b45840" stroke-width="1.3" stroke-linecap="round" opacity="0.85"/>
<circle cx="48.1" cy="166.49" r="0.9" fill="#b45840"/>
<line x1="48.1" y1="171.13" x2="48.1" y2="172.67" stroke="#1c2a7a" stroke-width="1.5" stroke-linecap="round" opacity="0.85"/>
<circle cx="197.6" cy="49.2" r="1.1" fill="#c0604a"/>
<circle cx="137.6" cy="110.9" r="1.1" fill="#c0604a"/>
<circle cx="47.4" cy="165.6" r="1.1" fill="#c0604a"/>
<circle cx="62.4" cy="157.6" r="1.1" fill="#c0604a"/>
<circle cx="92.4" cy="174.4" r="1.1" fill="#c0604a"/>
<circle cx="182" cy="160.4" r="1.1" fill="#c0604a"/>
<circle cx="182" cy="176" r="1.1" fill="#c0604a"/>
<circle cx="197.4" cy="172.6" r="1.1" fill="#c0604a"/>
<polyline points="72.98,47.9 69,50.2 65.02,47.9 65.02,43.3 69,41 72.98,43.3 72.98,47.9" fill="none" stroke="#9a9a9a" stroke-width="0.6" stroke-linejoin="round" />
<polyline points="80.95,47.9 76.97,50.2 72.98,47.9 72.98,43.3 76.97,41 80.95,43.3 80.95,47.9" fill="none" stroke="#9a9a9a" stroke-width="0.6" stroke-linejoin="round" />
<line x1="73.98" y1="43.9" x2="73.98" y2="47.3" stroke="#9a9a9a" stroke-width="0.5" />
<line x1="65.02" y1="43.3" x2="65.02" y2="43.3" stroke="#9a9a9a" stroke-width="0.5" />
<line x1="69" y1="41" x2="69.5" y2="36.8" stroke="#9a9a9a" stroke-width="0.6" />
<circle cx="69" cy="41" r="0.6" fill="#8080d0"/>
<line x1="65.02" y1="43.3" x2="61.82" y2="41.7" stroke="#e07070" stroke-width="0.7" />
<circle cx="61.42" cy="41.5" r="0.7" fill="#e06060"/>
<line x1="69" y1="50.2" x2="68.4" y2="54.2" stroke="#9a9a9a" stroke-width="0.6" />
<circle cx="68.2" cy="54.5" r="0.6" fill="#7080d0"/>
<line x1="67.8" y1="54.8" x2="65.2" y2="58.3" stroke="#9a9a9a" stroke-width="0.6" />
<polyline points="64.76,63.2 60.6,65.6 56.44,63.2 56.44,58.4 60.6,56 64.76,58.4 64.76,63.2" fill="none" stroke="#9a9a9a" stroke-width="0.6" stroke-linejoin="round" />
<line x1="80.95" y1="47.9" x2="85.3" y2="50.9" stroke="#9a9a9a" stroke-width="0.6" />
<polyline points="85.45,53.63 87.31,49.82 91.5,50.41 92.24,54.58 88.5,56.56 85.45,53.63" fill="none" stroke="#9a9a9a" stroke-width="0.6" stroke-linejoin="round" />
<circle cx="87.4" cy="56.2" r="0.6" fill="#d8c860"/>
<line x1="56.4" y1="63.2" x2="53.2" y2="64.8" stroke="#e06060" stroke-width="1" />
<polyline points="53,65.2 52.5,70 49,72.5 48.6,77.2 45,79.4 42.4,78.4" fill="none" stroke="#9a9a9a" stroke-width="0.6" stroke-linejoin="round" />
<polyline points="73.58,123.7 69.6,126 65.62,123.7 65.62,119.1 69.6,116.8 73.58,119.1 73.58,123.7" fill="none" stroke="#9a9a9a" stroke-width="0.6" stroke-linejoin="round" />
<polyline points="81.55,123.7 77.57,126 73.58,123.7 73.58,119.1 77.57,116.8 81.55,119.1 81.55,123.7" fill="none" stroke="#9a9a9a" stroke-width="0.6" stroke-linejoin="round" />
<circle cx="70" cy="117" r="0.6" fill="#8080d0"/>
<line x1="77.57" y1="116.8" x2="77.57" y2="112.8" stroke="#9a9a9a" stroke-width="0.6" />
<line x1="77.57" y1="112.8" x2="77.57" y2="107.6" stroke="#e08080" stroke-width="0.6" />
<line x1="72.97" y1="112.8" x2="82.17" y2="112.8" stroke="#e08080" stroke-width="0.6" />
<circle cx="77.57" cy="107.4" r="0.6" fill="#e06060"/>
<line x1="69.6" y1="126" x2="69.4" y2="130.6" stroke="#9a9a9a" stroke-width="0.6" />
<circle cx="69.4" cy="131.4" r="0.6" fill="#7080d0"/>
<line x1="69" y1="131.8" x2="65.6" y2="134.2" stroke="#9a9a9a" stroke-width="0.6" />
<polyline points="65.36,139 61.2,141.4 57.04,139 57.04,134.2 61.2,131.8 65.36,134.2 65.36,139" fill="none" stroke="#9a9a9a" stroke-width="0.6" stroke-linejoin="round" />
<line x1="81.55" y1="123.7" x2="85.4" y2="126" stroke="#9a9a9a" stroke-width="0.6" />
<polyline points="85.45,127.97 88.5,125.04 92.24,127.02 91.5,131.19 87.31,131.78 85.45,127.97" fill="none" stroke="#9a9a9a" stroke-width="0.6" stroke-linejoin="round" />
<line x1="57" y1="139" x2="53.8" y2="140.6" stroke="#e06060" stroke-width="1" />
<polyline points="53.6,141 53.4,145.6 50,148 49.6,152.2 46.4,154.2 43,153.4" fill="none" stroke="#9a9a9a" stroke-width="0.6" stroke-linejoin="round" />
<circle cx="43.4" cy="153.6" r="0.7" fill="#7080d0"/>
<line x1="261.5" y1="35.3" x2="261.5" y2="141.3" stroke="#222" stroke-width="1" />
<line x1="261.5" y1="140.8" x2="420.8" y2="140.8" stroke="#222" stroke-width="1" />
<line x1="259.2" y1="140.6" x2="261.5" y2="140.6" stroke="#222" stroke-width="0.9" />
<text x="255" y="143.15" font-size="6" text-anchor="end" fill="#111" >0</text>
<line x1="259.2" y1="105.62" x2="261.5" y2="105.62" stroke="#222" stroke-width="0.9" />
<text x="255" y="108.17" font-size="6" text-anchor="end" fill="#111" >50</text>
<line x1="259.2" y1="70.65" x2="261.5" y2="70.65" stroke="#222" stroke-width="0.9" />
<text x="255" y="73.2" font-size="6" text-anchor="end" fill="#111" >100</text>
<line x1="259.2" y1="35.67" x2="261.5" y2="35.67" stroke="#222" stroke-width="0.9" />
<text x="255" y="38.22" font-size="6" text-anchor="end" fill="#111" >150</text>
<line x1="262" y1="140.8" x2="262" y2="143.4" stroke="#222" stroke-width="0.9" />
<text x="262" y="152.48" font-size="5.8" text-anchor="middle" fill="#111" >0</text>
<line x1="301.6" y1="140.8" x2="301.6" y2="143.4" stroke="#222" stroke-width="0.9" />
<text x="301.6" y="152.48" font-size="5.8" text-anchor="middle" fill="#111" >10</text>
<line x1="341.2" y1="140.8" x2="341.2" y2="143.4" stroke="#222" stroke-width="0.9" />
<text x="341.2" y="152.48" font-size="5.8" text-anchor="middle" fill="#111" >20</text>
<line x1="380.8" y1="140.8" x2="380.8" y2="143.4" stroke="#222" stroke-width="0.9" />
<text x="380.8" y="152.48" font-size="5.8" text-anchor="middle" fill="#111" >30</text>
<line x1="420.4" y1="140.8" x2="420.4" y2="143.4" stroke="#222" stroke-width="0.9" />
<text x="420.4" y="152.48" font-size="5.8" text-anchor="middle" fill="#111" >40</text>
<text x="323.8" y="22.16" font-size="7.15" text-anchor="middle" font-weight="bold" fill="#000" >Liver microsome stability</text>
<text x="241.14" y="86.5" font-size="7.1" text-anchor="middle" font-weight="bold" fill="#1a1a1a" transform="rotate(-90 241.14 86.5)">Parent compound remaining (%)</text>
<text x="337.7" y="165.11" font-size="7" text-anchor="middle" font-weight="bold" fill="#000" >Time (min)</text>
<polyline points="262,70.65 281.8,69.6 301.6,69.95 321.4,72.26 341.2,72.05 361,72.4 380.8,69.95" fill="none" stroke="#cc55ff" stroke-width="1" stroke-linejoin="round" />
<line x1="281.8" y1="67.8" x2="281.8" y2="71.4" stroke="#cc55ff" stroke-width="0.7" />
<line x1="280.8" y1="67.8" x2="282.8" y2="67.8" stroke="#cc55ff" stroke-width="0.6" />
<line x1="280.8" y1="71.4" x2="282.8" y2="71.4" stroke="#cc55ff" stroke-width="0.6" />
<line x1="301.6" y1="68.15" x2="301.6" y2="71.75" stroke="#cc55ff" stroke-width="0.7" />
<line x1="300.6" y1="68.15" x2="302.6" y2="68.15" stroke="#cc55ff" stroke-width="0.6" />
<line x1="300.6" y1="71.75" x2="302.6" y2="71.75" stroke="#cc55ff" stroke-width="0.6" />
<line x1="321.4" y1="69.06" x2="321.4" y2="75.46" stroke="#cc55ff" stroke-width="0.7" />
<line x1="320.4" y1="69.06" x2="322.4" y2="69.06" stroke="#cc55ff" stroke-width="0.6" />
<line x1="320.4" y1="75.46" x2="322.4" y2="75.46" stroke="#cc55ff" stroke-width="0.6" />
<line x1="341.2" y1="70.25" x2="341.2" y2="73.85" stroke="#cc55ff" stroke-width="0.7" />
<line x1="340.2" y1="70.25" x2="342.2" y2="70.25" stroke="#cc55ff" stroke-width="0.6" />
<line x1="340.2" y1="73.85" x2="342.2" y2="73.85" stroke="#cc55ff" stroke-width="0.6" />
<line x1="361" y1="70.6" x2="361" y2="74.2" stroke="#cc55ff" stroke-width="0.7" />
<line x1="360" y1="70.6" x2="362" y2="70.6" stroke="#cc55ff" stroke-width="0.6" />
<line x1="360" y1="74.2" x2="362" y2="74.2" stroke="#cc55ff" stroke-width="0.6" />
<line x1="380.8" y1="68.15" x2="380.8" y2="71.75" stroke="#cc55ff" stroke-width="0.7" />
<line x1="379.8" y1="68.15" x2="381.8" y2="68.15" stroke="#cc55ff" stroke-width="0.6" />
<line x1="379.8" y1="71.75" x2="381.8" y2="71.75" stroke="#cc55ff" stroke-width="0.6" />
<polyline points="262,70.65 281.8,69.25 301.6,66.45 321.4,69.46 341.2,68.55 361,71.35 380.8,73.45" fill="none" stroke="#33cc33" stroke-width="1" stroke-linejoin="round" />
<line x1="281.8" y1="67.75" x2="281.8" y2="70.75" stroke="#33cc33" stroke-width="0.7" />
<line x1="280.8" y1="67.75" x2="282.8" y2="67.75" stroke="#33cc33" stroke-width="0.6" />
<line x1="280.8" y1="70.75" x2="282.8" y2="70.75" stroke="#33cc33" stroke-width="0.6" />
<line x1="301.6" y1="64.95" x2="301.6" y2="67.95" stroke="#33cc33" stroke-width="0.7" />
<line x1="300.6" y1="64.95" x2="302.6" y2="64.95" stroke="#33cc33" stroke-width="0.6" />
<line x1="300.6" y1="67.95" x2="302.6" y2="67.95" stroke="#33cc33" stroke-width="0.6" />
<line x1="321.4" y1="67.96" x2="321.4" y2="70.96" stroke="#33cc33" stroke-width="0.7" />
<line x1="320.4" y1="67.96" x2="322.4" y2="67.96" stroke="#33cc33" stroke-width="0.6" />
<line x1="320.4" y1="70.96" x2="322.4" y2="70.96" stroke="#33cc33" stroke-width="0.6" />
<line x1="341.2" y1="67.05" x2="341.2" y2="70.05" stroke="#33cc33" stroke-width="0.7" />
<line x1="340.2" y1="67.05" x2="342.2" y2="67.05" stroke="#33cc33" stroke-width="0.6" />
<line x1="340.2" y1="70.05" x2="342.2" y2="70.05" stroke="#33cc33" stroke-width="0.6" />
<line x1="361" y1="69.85" x2="361" y2="72.85" stroke="#33cc33" stroke-width="0.7" />
<line x1="360" y1="69.85" x2="362" y2="69.85" stroke="#33cc33" stroke-width="0.6" />
<line x1="360" y1="72.85" x2="362" y2="72.85" stroke="#33cc33" stroke-width="0.6" />
<line x1="380.8" y1="71.95" x2="380.8" y2="74.95" stroke="#33cc33" stroke-width="0.7" />
<line x1="379.8" y1="71.95" x2="381.8" y2="71.95" stroke="#33cc33" stroke-width="0.6" />
<line x1="379.8" y1="74.95" x2="381.8" y2="74.95" stroke="#33cc33" stroke-width="0.6" />
<polyline points="262,70.65 281.8,70.65 301.6,70.09 321.4,70.65 341.2,74.5 361,75.55 380.8,78.34" fill="none" stroke="#ff3333" stroke-width="1" stroke-linejoin="round" />
<line x1="281.8" y1="69.15" x2="281.8" y2="72.15" stroke="#ff3333" stroke-width="0.7" />
<line x1="280.8" y1="69.15" x2="282.8" y2="69.15" stroke="#ff3333" stroke-width="0.6" />
<line x1="280.8" y1="72.15" x2="282.8" y2="72.15" stroke="#ff3333" stroke-width="0.6" />
<line x1="301.6" y1="68.59" x2="301.6" y2="71.59" stroke="#ff3333" stroke-width="0.7" />
<line x1="300.6" y1="68.59" x2="302.6" y2="68.59" stroke="#ff3333" stroke-width="0.6" />
<line x1="300.6" y1="71.59" x2="302.6" y2="71.59" stroke="#ff3333" stroke-width="0.6" />
<line x1="321.4" y1="69.15" x2="321.4" y2="72.15" stroke="#ff3333" stroke-width="0.7" />
<line x1="320.4" y1="69.15" x2="322.4" y2="69.15" stroke="#ff3333" stroke-width="0.6" />
<line x1="320.4" y1="72.15" x2="322.4" y2="72.15" stroke="#ff3333" stroke-width="0.6" />
<line x1="341.2" y1="73" x2="341.2" y2="76" stroke="#ff3333" stroke-width="0.7" />
<line x1="340.2" y1="73" x2="342.2" y2="73" stroke="#ff3333" stroke-width="0.6" />
<line x1="340.2" y1="76" x2="342.2" y2="76" stroke="#ff3333" stroke-width="0.6" />
<line x1="361" y1="74.05" x2="361" y2="77.05" stroke="#ff3333" stroke-width="0.7" />
<line x1="360" y1="74.05" x2="362" y2="74.05" stroke="#ff3333" stroke-width="0.6" />
<line x1="360" y1="77.05" x2="362" y2="77.05" stroke="#ff3333" stroke-width="0.6" />
<line x1="380.8" y1="76.84" x2="380.8" y2="79.84" stroke="#ff3333" stroke-width="0.7" />
<line x1="379.8" y1="76.84" x2="381.8" y2="76.84" stroke="#ff3333" stroke-width="0.6" />
<line x1="379.8" y1="79.84" x2="381.8" y2="79.84" stroke="#ff3333" stroke-width="0.6" />
<polyline points="262,70.65 281.8,68.2 301.6,69.6 321.4,69.46 341.2,71.35 361,73.45 380.8,72.4" fill="none" stroke="#3333ff" stroke-width="1" stroke-linejoin="round" />
<line x1="281.8" y1="66.7" x2="281.8" y2="69.7" stroke="#3333ff" stroke-width="0.7" />
<line x1="280.8" y1="66.7" x2="282.8" y2="66.7" stroke="#3333ff" stroke-width="0.6" />
<line x1="280.8" y1="69.7" x2="282.8" y2="69.7" stroke="#3333ff" stroke-width="0.6" />
<line x1="301.6" y1="68.1" x2="301.6" y2="71.1" stroke="#3333ff" stroke-width="0.7" />
<line x1="300.6" y1="68.1" x2="302.6" y2="68.1" stroke="#3333ff" stroke-width="0.6" />
<line x1="300.6" y1="71.1" x2="302.6" y2="71.1" stroke="#3333ff" stroke-width="0.6" />
<line x1="321.4" y1="67.96" x2="321.4" y2="70.96" stroke="#3333ff" stroke-width="0.7" />
<line x1="320.4" y1="67.96" x2="322.4" y2="67.96" stroke="#3333ff" stroke-width="0.6" />
<line x1="320.4" y1="70.96" x2="322.4" y2="70.96" stroke="#3333ff" stroke-width="0.6" />
<line x1="341.2" y1="69.85" x2="341.2" y2="72.85" stroke="#3333ff" stroke-width="0.7" />
<line x1="340.2" y1="69.85" x2="342.2" y2="69.85" stroke="#3333ff" stroke-width="0.6" />
<line x1="340.2" y1="72.85" x2="342.2" y2="72.85" stroke="#3333ff" stroke-width="0.6" />
<line x1="361" y1="71.95" x2="361" y2="74.95" stroke="#3333ff" stroke-width="0.7" />
<line x1="360" y1="71.95" x2="362" y2="71.95" stroke="#3333ff" stroke-width="0.6" />
<line x1="360" y1="74.95" x2="362" y2="74.95" stroke="#3333ff" stroke-width="0.6" />
<line x1="380.8" y1="70.9" x2="380.8" y2="73.9" stroke="#3333ff" stroke-width="0.7" />
<line x1="379.8" y1="70.9" x2="381.8" y2="70.9" stroke="#3333ff" stroke-width="0.6" />
<line x1="379.8" y1="73.9" x2="381.8" y2="73.9" stroke="#3333ff" stroke-width="0.6" />
<polyline points="262,70.65 281.8,78.9 301.6,88.56 321.4,98.42 341.2,108.42 361,114.02 380.8,119.61" fill="none" stroke="#ff9933" stroke-width="1" stroke-linejoin="round" />
<line x1="281.8" y1="77.4" x2="281.8" y2="80.4" stroke="#ff9933" stroke-width="0.7" />
<line x1="280.8" y1="77.4" x2="282.8" y2="77.4" stroke="#ff9933" stroke-width="0.6" />
<line x1="280.8" y1="80.4" x2="282.8" y2="80.4" stroke="#ff9933" stroke-width="0.6" />
<line x1="301.6" y1="87.06" x2="301.6" y2="90.06" stroke="#ff9933" stroke-width="0.7" />
<line x1="300.6" y1="87.06" x2="302.6" y2="87.06" stroke="#ff9933" stroke-width="0.6" />
<line x1="300.6" y1="90.06" x2="302.6" y2="90.06" stroke="#ff9933" stroke-width="0.6" />
<line x1="321.4" y1="96.92" x2="321.4" y2="99.92" stroke="#ff9933" stroke-width="0.7" />
<line x1="320.4" y1="96.92" x2="322.4" y2="96.92" stroke="#ff9933" stroke-width="0.6" />
<line x1="320.4" y1="99.92" x2="322.4" y2="99.92" stroke="#ff9933" stroke-width="0.6" />
<line x1="341.2" y1="106.92" x2="341.2" y2="109.92" stroke="#ff9933" stroke-width="0.7" />
<line x1="340.2" y1="106.92" x2="342.2" y2="106.92" stroke="#ff9933" stroke-width="0.6" />
<line x1="340.2" y1="109.92" x2="342.2" y2="109.92" stroke="#ff9933" stroke-width="0.6" />
<line x1="361" y1="112.52" x2="361" y2="115.52" stroke="#ff9933" stroke-width="0.7" />
<line x1="360" y1="112.52" x2="362" y2="112.52" stroke="#ff9933" stroke-width="0.6" />
<line x1="360" y1="115.52" x2="362" y2="115.52" stroke="#ff9933" stroke-width="0.6" />
<line x1="380.8" y1="118.11" x2="380.8" y2="121.11" stroke="#ff9933" stroke-width="0.7" />
<line x1="379.8" y1="118.11" x2="381.8" y2="118.11" stroke="#ff9933" stroke-width="0.6" />
<line x1="379.8" y1="121.11" x2="381.8" y2="121.11" stroke="#ff9933" stroke-width="0.6" />
<line x1="393.6" y1="53.2" x2="404.4" y2="53.2" stroke="#3333ff" stroke-width="1.2" />
<text x="407" y="55.35" font-size="6" text-anchor="start" fill="#111" >Mouse</text>
<text x="459.2" y="55.18" font-size="6.1" text-anchor="end" fill="#111" >&gt;90 min</text>
<line x1="393.6" y1="67.3" x2="404.4" y2="67.3" stroke="#ff3333" stroke-width="1.2" />
<text x="407" y="69.45" font-size="6" text-anchor="start" fill="#111" >Rat</text>
<text x="459.2" y="69.28" font-size="6.1" text-anchor="end" fill="#111" >&gt;90 min</text>
<line x1="393.6" y1="81.4" x2="404.4" y2="81.4" stroke="#33cc33" stroke-width="1.2" />
<text x="407" y="83.55" font-size="6" text-anchor="start" fill="#111" >Mini Pig</text>
<text x="459.2" y="83.38" font-size="6.1" text-anchor="end" fill="#111" >&gt;90 min</text>
<line x1="393.6" y1="95.5" x2="404.4" y2="95.5" stroke="#cf8cff" stroke-width="1.2" />
<text x="407" y="97.65" font-size="6" text-anchor="start" fill="#111" >Dog</text>
<text x="459.2" y="97.48" font-size="6.1" text-anchor="end" fill="#111" >&gt;90 min</text>
<line x1="393.6" y1="109.6" x2="404.4" y2="109.6" stroke="#ffb477" stroke-width="1.2" />
<text x="407" y="111.75" font-size="6" text-anchor="start" fill="#111" >Cyno</text>
<text x="459.2" y="109.78" font-size="6.1" text-anchor="end" fill="#111" >16 min</text>
<text x="439.6" y="34.49" font-size="6.4" text-anchor="start" fill="#111" >t<tspan font-size="5.5" dy="1.9">0.5</tspan></text>
<line x1="428.4" y1="42.4" x2="462" y2="42.4" stroke="#222" stroke-width="0.9" />
<line x1="511.5" y1="34.2" x2="511.5" y2="130.6" stroke="#222" stroke-width="1" />
<line x1="508.8" y1="130.4" x2="511.5" y2="130.4" stroke="#222" stroke-width="0.9" />
<text x="505.8" y="132.88" font-size="6.1" text-anchor="end" fill="#111" >0</text>
<line x1="508.8" y1="111.24" x2="511.5" y2="111.24" stroke="#222" stroke-width="0.9" />
<text x="505.8" y="113.72" font-size="6.1" text-anchor="end" fill="#111" >2000</text>
<line x1="508.8" y1="92.08" x2="511.5" y2="92.08" stroke="#222" stroke-width="0.9" />
<text x="505.8" y="94.56" font-size="6.1" text-anchor="end" fill="#111" >4000</text>
<line x1="508.8" y1="72.92" x2="511.5" y2="72.92" stroke="#222" stroke-width="0.9" />
<text x="505.8" y="75.4" font-size="6.1" text-anchor="end" fill="#111" >6000</text>
<line x1="508.8" y1="53.76" x2="511.5" y2="53.76" stroke="#222" stroke-width="0.9" />
<text x="505.8" y="56.24" font-size="6.1" text-anchor="end" fill="#111" >8000</text>
<line x1="508.8" y1="34.6" x2="511.5" y2="34.6" stroke="#222" stroke-width="0.9" />
<text x="505.8" y="37.08" font-size="6.1" text-anchor="end" fill="#111" >10000</text>
<line x1="522.2" y1="140.9" x2="672.4" y2="140.9" stroke="#222" stroke-width="1" />
<line x1="523" y1="140.9" x2="523" y2="143.5" stroke="#222" stroke-width="0.9" />
<text x="521.8" y="153.31" font-size="5.9" text-anchor="middle" fill="#111" >0.25</text>
<line x1="544.3" y1="140.9" x2="544.3" y2="143.5" stroke="#222" stroke-width="0.9" />
<text x="543.1" y="153.31" font-size="5.9" text-anchor="middle" fill="#111" >0.5</text>
<line x1="565.6" y1="140.9" x2="565.6" y2="143.5" stroke="#222" stroke-width="0.9" />
<text x="565.2" y="153.31" font-size="5.9" text-anchor="middle" fill="#111" >1</text>
<line x1="586.9" y1="140.9" x2="586.9" y2="143.5" stroke="#222" stroke-width="0.9" />
<text x="586.5" y="153.31" font-size="5.9" text-anchor="middle" fill="#111" >2</text>
<line x1="608.2" y1="140.9" x2="608.2" y2="143.5" stroke="#222" stroke-width="0.9" />
<text x="607.8" y="153.31" font-size="5.9" text-anchor="middle" fill="#111" >4</text>
<line x1="629.5" y1="140.9" x2="629.5" y2="143.5" stroke="#222" stroke-width="0.9" />
<text x="629.1" y="153.31" font-size="5.9" text-anchor="middle" fill="#111" >8</text>
<line x1="650.8" y1="140.9" x2="650.8" y2="143.5" stroke="#222" stroke-width="0.9" />
<text x="650.4" y="153.31" font-size="5.9" text-anchor="middle" fill="#111" >16</text>
<line x1="672.1" y1="140.9" x2="672.1" y2="143.5" stroke="#222" stroke-width="0.9" />
<text x="671.7" y="153.31" font-size="5.9" text-anchor="middle" fill="#111" >32</text>
<line x1="513.5" y1="130.3" x2="671" y2="130.3" stroke="#222" stroke-width="0.9" stroke-dasharray="1 2.2"/>
<text x="606" y="161.07" font-size="6.9" text-anchor="middle" font-weight="bold" fill="#000" >Hours</text>
<text x="487.99" y="76.8" font-size="6.4" text-anchor="middle" font-weight="bold" fill="#1a1a1a" transform="rotate(-90 487.99 76.8)">Blood GSK978A (ng/mL)</text>
<polyline points="523,73.88 544.3,54.24 565.6,60.75 586.9,70.72 608.2,94.95 629.5,119 663.26,130.11" fill="none" stroke="#0808ff" stroke-width="1" stroke-linejoin="round" />
<line x1="523" y1="68.13" x2="523" y2="79.63" stroke="#0808ff" stroke-width="0.8" />
<line x1="521.5" y1="68.13" x2="524.5" y2="68.13" stroke="#0808ff" stroke-width="0.8" />
<line x1="521.5" y1="79.63" x2="524.5" y2="79.63" stroke="#0808ff" stroke-width="0.8" />
<circle cx="523" cy="73.88" r="2.15" fill="#0808ff"/>
<line x1="544.3" y1="45.9" x2="544.3" y2="62.57" stroke="#0808ff" stroke-width="0.8" />
<line x1="542.8" y1="45.9" x2="545.8" y2="45.9" stroke="#0808ff" stroke-width="0.8" />
<line x1="542.8" y1="62.57" x2="545.8" y2="62.57" stroke="#0808ff" stroke-width="0.8" />
<circle cx="544.3" cy="54.24" r="2.15" fill="#0808ff"/>
<line x1="565.6" y1="57.69" x2="565.6" y2="63.82" stroke="#0808ff" stroke-width="0.8" />
<line x1="564.1" y1="57.69" x2="567.1" y2="57.69" stroke="#0808ff" stroke-width="0.8" />
<line x1="564.1" y1="63.82" x2="567.1" y2="63.82" stroke="#0808ff" stroke-width="0.8" />
<circle cx="565.6" cy="60.75" r="2.15" fill="#0808ff"/>
<line x1="586.9" y1="68.8" x2="586.9" y2="72.63" stroke="#0808ff" stroke-width="0.8" />
<line x1="585.4" y1="68.8" x2="588.4" y2="68.8" stroke="#0808ff" stroke-width="0.8" />
<line x1="585.4" y1="72.63" x2="588.4" y2="72.63" stroke="#0808ff" stroke-width="0.8" />
<circle cx="586.9" cy="70.72" r="2.15" fill="#0808ff"/>
<line x1="608.2" y1="92.46" x2="608.2" y2="97.44" stroke="#0808ff" stroke-width="0.8" />
<line x1="606.7" y1="92.46" x2="609.7" y2="92.46" stroke="#0808ff" stroke-width="0.8" />
<line x1="606.7" y1="97.44" x2="609.7" y2="97.44" stroke="#0808ff" stroke-width="0.8" />
<circle cx="608.2" cy="94.95" r="2.15" fill="#0808ff"/>
<circle cx="629.5" cy="119" r="2.15" fill="#0808ff"/>
<circle cx="663.26" cy="130.11" r="2.15" fill="#0808ff"/>
<line x1="41.4" y1="211.6" x2="41.4" y2="316.9" stroke="#111" stroke-width="1" />
<line x1="41.4" y1="316.4" x2="199.6" y2="316.4" stroke="#111" stroke-width="1" />
<line x1="38.6" y1="316.4" x2="41.4" y2="316.4" stroke="#111" stroke-width="0.9" />
<text x="37.2" y="318.85" font-size="6" text-anchor="end" fill="#111" >1</text>
<line x1="39.9" y1="308.54" x2="41.4" y2="308.54" stroke="#111" stroke-width="0.6" />
<line x1="39.9" y1="303.95" x2="41.4" y2="303.95" stroke="#111" stroke-width="0.6" />
<line x1="39.9" y1="300.69" x2="41.4" y2="300.69" stroke="#111" stroke-width="0.6" />
<line x1="39.9" y1="298.16" x2="41.4" y2="298.16" stroke="#111" stroke-width="0.6" />
<line x1="39.9" y1="296.09" x2="41.4" y2="296.09" stroke="#111" stroke-width="0.6" />
<line x1="39.9" y1="294.34" x2="41.4" y2="294.34" stroke="#111" stroke-width="0.6" />
<line x1="39.9" y1="292.83" x2="41.4" y2="292.83" stroke="#111" stroke-width="0.6" />
<line x1="39.9" y1="291.49" x2="41.4" y2="291.49" stroke="#111" stroke-width="0.6" />
<line x1="38.6" y1="290.3" x2="41.4" y2="290.3" stroke="#111" stroke-width="0.9" />
<text x="37.2" y="292.75" font-size="6" text-anchor="end" fill="#111" >10</text>
<line x1="39.9" y1="282.44" x2="41.4" y2="282.44" stroke="#111" stroke-width="0.6" />
<line x1="39.9" y1="277.85" x2="41.4" y2="277.85" stroke="#111" stroke-width="0.6" />
<line x1="39.9" y1="274.59" x2="41.4" y2="274.59" stroke="#111" stroke-width="0.6" />
<line x1="39.9" y1="272.06" x2="41.4" y2="272.06" stroke="#111" stroke-width="0.6" />
<line x1="39.9" y1="269.99" x2="41.4" y2="269.99" stroke="#111" stroke-width="0.6" />
<line x1="39.9" y1="268.24" x2="41.4" y2="268.24" stroke="#111" stroke-width="0.6" />
<line x1="39.9" y1="266.73" x2="41.4" y2="266.73" stroke="#111" stroke-width="0.6" />
<line x1="39.9" y1="265.39" x2="41.4" y2="265.39" stroke="#111" stroke-width="0.6" />
<line x1="38.6" y1="264.2" x2="41.4" y2="264.2" stroke="#111" stroke-width="0.9" />
<text x="37.2" y="266.65" font-size="6" text-anchor="end" fill="#111" >100</text>
<line x1="39.9" y1="256.34" x2="41.4" y2="256.34" stroke="#111" stroke-width="0.6" />
<line x1="39.9" y1="251.75" x2="41.4" y2="251.75" stroke="#111" stroke-width="0.6" />
<line x1="39.9" y1="248.49" x2="41.4" y2="248.49" stroke="#111" stroke-width="0.6" />
<line x1="39.9" y1="245.96" x2="41.4" y2="245.96" stroke="#111" stroke-width="0.6" />
<line x1="39.9" y1="243.89" x2="41.4" y2="243.89" stroke="#111" stroke-width="0.6" />
<line x1="39.9" y1="242.14" x2="41.4" y2="242.14" stroke="#111" stroke-width="0.6" />
<line x1="39.9" y1="240.63" x2="41.4" y2="240.63" stroke="#111" stroke-width="0.6" />
<line x1="39.9" y1="239.29" x2="41.4" y2="239.29" stroke="#111" stroke-width="0.6" />
<line x1="38.6" y1="238.1" x2="41.4" y2="238.1" stroke="#111" stroke-width="0.9" />
<text x="37.2" y="240.55" font-size="6" text-anchor="end" fill="#111" >1000</text>
<line x1="39.9" y1="230.24" x2="41.4" y2="230.24" stroke="#111" stroke-width="0.6" />
<line x1="39.9" y1="225.65" x2="41.4" y2="225.65" stroke="#111" stroke-width="0.6" />
<line x1="39.9" y1="222.39" x2="41.4" y2="222.39" stroke="#111" stroke-width="0.6" />
<line x1="39.9" y1="219.86" x2="41.4" y2="219.86" stroke="#111" stroke-width="0.6" />
<line x1="39.9" y1="217.79" x2="41.4" y2="217.79" stroke="#111" stroke-width="0.6" />
<line x1="39.9" y1="216.04" x2="41.4" y2="216.04" stroke="#111" stroke-width="0.6" />
<line x1="39.9" y1="214.53" x2="41.4" y2="214.53" stroke="#111" stroke-width="0.6" />
<line x1="39.9" y1="213.19" x2="41.4" y2="213.19" stroke="#111" stroke-width="0.6" />
<line x1="38.6" y1="212" x2="41.4" y2="212" stroke="#111" stroke-width="0.9" />
<text x="37.2" y="214.45" font-size="6" text-anchor="end" fill="#111" >10000</text>
<line x1="61.4" y1="316.4" x2="61.4" y2="319.8" stroke="#111" stroke-width="0.9" />
<text x="61.4" y="326.03" font-size="6.8" text-anchor="middle" fill="#111" >1</text>
<line x1="101" y1="316.4" x2="101" y2="319.8" stroke="#111" stroke-width="0.9" />
<text x="101" y="326.03" font-size="6.8" text-anchor="middle" fill="#111" >3</text>
<line x1="140.4" y1="316.4" x2="140.4" y2="319.8" stroke="#111" stroke-width="0.9" />
<text x="140.4" y="326.03" font-size="6.8" text-anchor="middle" fill="#111" >10</text>
<line x1="180" y1="316.4" x2="180" y2="319.8" stroke="#111" stroke-width="0.9" />
<text x="180" y="326.03" font-size="6.8" text-anchor="middle" fill="#111" >30</text>
<text x="15.54" y="267.8" font-size="7.1" text-anchor="middle" font-weight="bold" fill="#1a1a1a" transform="rotate(-90 15.54 267.8)">Exposure (ng/g tissue)</text>
<text x="114.5" y="337.34" font-size="7.1" text-anchor="middle" font-weight="bold" fill="#000" >Dose of GSK978A (mg/kg)</text>
<polyline points="61.4,243.6 101,231.4 140.4,224.6 180,219.6" fill="none" stroke="#ff1a1a" stroke-width="1" stroke-linejoin="round" />
<rect x="59.3" y="241.5" width="4.2" height="4.2" fill="#ff1a1a" stroke="none" stroke-width="1" />
<rect x="98.9" y="229.3" width="4.2" height="4.2" fill="#ff1a1a" stroke="none" stroke-width="1" />
<rect x="138.3" y="222.5" width="4.2" height="4.2" fill="#ff1a1a" stroke="none" stroke-width="1" />
<rect x="177.9" y="217.5" width="4.2" height="4.2" fill="#ff1a1a" stroke="none" stroke-width="1" />
<polyline points="61.4,257.2 101,246.6 140.4,229.4 180,224" fill="none" stroke="#9b30ff" stroke-width="1" stroke-linejoin="round" />
<polygon points="61.4,259.84 58.76,255.22 64.04,255.22" fill="#9b30ff"/>
<polygon points="101,249.24 98.36,244.62 103.64,244.62" fill="#9b30ff"/>
<polygon points="140.4,232.04 137.76,227.42 143.04,227.42" fill="#9b30ff"/>
<polygon points="180,226.64 177.36,222.02 182.64,222.02" fill="#9b30ff"/>
<polyline points="61.4,279 101,259 140.4,240 180,230" fill="none" stroke="#22c022" stroke-width="1" stroke-linejoin="round" />
<polygon points="61.4,276.36 58.76,280.98 64.04,280.98" fill="#22c022"/>
<polygon points="101,256.36 98.36,260.98 103.64,260.98" fill="#22c022"/>
<polygon points="140.4,237.36 137.76,241.98 143.04,241.98" fill="#22c022"/>
<polygon points="180,227.36 177.36,231.98 182.64,231.98" fill="#22c022"/>
<polyline points="61.4,297 101,282.4 140.4,263.6 180,250.6" fill="none" stroke="#ff8a1a" stroke-width="1" stroke-linejoin="round" />
<polygon points="61.4,294.6 63.4,297 61.4,299.4 59.4,297" fill="#ff8a1a"/>
<polygon points="101,280 103,282.4 101,284.8 99,282.4" fill="#ff8a1a"/>
<polygon points="140.4,261.2 142.4,263.6 140.4,266 138.4,263.6" fill="#ff8a1a"/>
<polygon points="180,248.2 182,250.6 180,253 178,250.6" fill="#ff8a1a"/>
<polygon points="61.4,258.2 59,254 63.8,254" fill="#c080ff"/>
<line x1="169" y1="268.4" x2="178.2" y2="268.4" stroke="#ff1a1a" stroke-width="1" />
<rect x="172.1" y="266.9" width="3" height="3" fill="#ff1a1a" stroke="none" stroke-width="1" />
<text x="183" y="270.87" font-size="6.9" text-anchor="start" fill="#111" >Liver</text>
<line x1="169" y1="279.8" x2="178.2" y2="279.8" stroke="#22c022" stroke-width="1" />
<polygon points="173.6,278 171.8,281.15 175.4,281.15" fill="#22c022"/>
<text x="183" y="282.27" font-size="6.9" text-anchor="start" fill="#111" >Gastroc</text>
<line x1="169" y1="291.2" x2="178.2" y2="291.2" stroke="#9b30ff" stroke-width="1" />
<polygon points="173.6,293 171.8,289.85 175.4,289.85" fill="#9b30ff"/>
<text x="183" y="293.67" font-size="6.9" text-anchor="start" fill="#111" >WAT</text>
<line x1="169" y1="302.6" x2="178.2" y2="302.6" stroke="#ff8a1a" stroke-width="1" />
<polygon points="173.6,300.8 175.1,302.6 173.6,304.4 172.1,302.6" fill="#ff8a1a"/>
<text x="183" y="305.07" font-size="6.9" text-anchor="start" fill="#111" >Brain</text>
<line x1="261.5" y1="210.3" x2="261.5" y2="316.9" stroke="#8a8a8a" stroke-width="1.5" />
<line x1="261.5" y1="316.4" x2="421" y2="316.4" stroke="#3a3a3a" stroke-width="1.2" />
<line x1="257" y1="316.4" x2="261.5" y2="316.4" stroke="#333" stroke-width="0.9" />
<text x="254.3" y="319.38" font-size="5.8" text-anchor="end" fill="#111" >0</text>
<line x1="257" y1="289.96" x2="261.5" y2="289.96" stroke="#333" stroke-width="0.9" />
<text x="254.3" y="292.94" font-size="5.8" text-anchor="end" fill="#111" >20</text>
<line x1="257" y1="263.52" x2="261.5" y2="263.52" stroke="#333" stroke-width="0.9" />
<text x="254.3" y="266.5" font-size="5.8" text-anchor="end" fill="#111" >40</text>
<line x1="257" y1="237.08" x2="261.5" y2="237.08" stroke="#333" stroke-width="0.9" />
<text x="254.3" y="240.06" font-size="5.8" text-anchor="end" fill="#111" >60</text>
<line x1="257" y1="210.64" x2="261.5" y2="210.64" stroke="#333" stroke-width="0.9" />
<text x="254.3" y="213.62" font-size="5.8" text-anchor="end" fill="#111" >80</text>
<rect x="264.35" y="278.99" width="2.9" height="37.41" fill="#fff" stroke="#ff1010" stroke-width="0.8" />
<line x1="265.8" y1="275.68" x2="265.8" y2="282.29" stroke="#bbbbbb" stroke-width="0.6" />
<circle cx="265.54" cy="288.64" r="1" fill="#ff1010"/>
<circle cx="265.84" cy="283.35" r="1" fill="#ff1010"/>
<circle cx="265.67" cy="275.42" r="1" fill="#ff1010"/>
<circle cx="265.9" cy="267.49" r="1" fill="#ff1010"/>
<line x1="265.8" y1="316.8" x2="265.8" y2="320.6" stroke="#444" stroke-width="0.9" />
<text x="265.4" y="321" font-size="6.4" text-anchor="end" fill="#222" transform="rotate(-45 265.4 321)" dy="3">0.0</text>
<rect x="270.35" y="259.95" width="2.9" height="56.45" fill="#fff" stroke="#ff1010" stroke-width="0.8" />
<line x1="271.8" y1="256.65" x2="271.8" y2="263.26" stroke="#bbbbbb" stroke-width="0.6" />
<circle cx="271.93" cy="263.52" r="1" fill="#ff1010"/>
<circle cx="271.37" cy="260.88" r="1" fill="#ff1010"/>
<circle cx="271.31" cy="258.23" r="1" fill="#ff1010"/>
<circle cx="272.14" cy="252.94" r="1" fill="#ff1010"/>
<line x1="271.8" y1="316.8" x2="271.8" y2="320.6" stroke="#444" stroke-width="0.9" />
<text x="271.4" y="321" font-size="6.4" text-anchor="end" fill="#222" transform="rotate(-45 271.4 321)" dy="3">0.1</text>
<rect x="276.35" y="239.06" width="2.9" height="77.34" fill="#fff" stroke="#ff1010" stroke-width="0.8" />
<line x1="277.8" y1="235.76" x2="277.8" y2="242.37" stroke="#bbbbbb" stroke-width="0.6" />
<circle cx="277.56" cy="242.37" r="1" fill="#ff1010"/>
<circle cx="277.53" cy="239.72" r="1" fill="#ff1010"/>
<circle cx="278.3" cy="237.08" r="1" fill="#ff1010"/>
<circle cx="277.77" cy="234.44" r="1" fill="#ff1010"/>
<line x1="277.8" y1="316.8" x2="277.8" y2="320.6" stroke="#444" stroke-width="0.9" />
<text x="277.4" y="321" font-size="6.4" text-anchor="end" fill="#222" transform="rotate(-45 277.4 321)" dy="3">1.0</text>
<rect x="282.35" y="234.44" width="2.9" height="81.96" fill="#fff" stroke="#ff1010" stroke-width="0.8" />
<line x1="283.8" y1="231.13" x2="283.8" y2="237.74" stroke="#bbbbbb" stroke-width="0.6" />
<circle cx="284.14" cy="239.72" r="1" fill="#ff1010"/>
<circle cx="283.78" cy="235.76" r="1" fill="#ff1010"/>
<circle cx="283.94" cy="231.79" r="1" fill="#ff1010"/>
<circle cx="283.45" cy="225.18" r="1" fill="#ff1010"/>
<line x1="283.8" y1="316.8" x2="283.8" y2="320.6" stroke="#444" stroke-width="0.9" />
<text x="283.4" y="321" font-size="6.4" text-anchor="end" fill="#222" transform="rotate(-45 283.4 321)" dy="3">3.0</text>
<rect x="288.35" y="245.01" width="2.9" height="71.39" fill="#fff" stroke="#ff1010" stroke-width="0.8" />
<line x1="289.8" y1="241.71" x2="289.8" y2="248.32" stroke="#bbbbbb" stroke-width="0.6" />
<circle cx="289.93" cy="250.3" r="1" fill="#ff1010"/>
<circle cx="290.17" cy="247.66" r="1" fill="#ff1010"/>
<circle cx="289.82" cy="238.4" r="1" fill="#ff1010"/>
<circle cx="290.04" cy="238.4" r="1" fill="#ff1010"/>
<line x1="289.8" y1="316.8" x2="289.8" y2="320.6" stroke="#444" stroke-width="0.9" />
<text x="289.4" y="321" font-size="6.4" text-anchor="end" fill="#222" transform="rotate(-45 289.4 321)" dy="3">10.0</text>
<rect x="294.35" y="237.08" width="2.9" height="79.32" fill="#fff" stroke="#ff1010" stroke-width="0.8" />
<line x1="295.8" y1="233.77" x2="295.8" y2="240.38" stroke="#bbbbbb" stroke-width="0.6" />
<circle cx="295.97" cy="242.37" r="1" fill="#ff1010"/>
<circle cx="295.36" cy="237.08" r="1" fill="#ff1010"/>
<circle cx="296.06" cy="231.79" r="1" fill="#ff1010"/>
<circle cx="295.89" cy="225.18" r="1" fill="#ff1010"/>
<line x1="295.8" y1="316.8" x2="295.8" y2="320.6" stroke="#444" stroke-width="0.9" />
<text x="295.4" y="321" font-size="6.4" text-anchor="end" fill="#222" transform="rotate(-45 295.4 321)" dy="3">30.0</text>
<rect x="304.75" y="284.94" width="2.9" height="31.46" fill="#fff" stroke="#1cff1c" stroke-width="0.8" />
<line x1="306.2" y1="281.63" x2="306.2" y2="288.24" stroke="#bbbbbb" stroke-width="0.6" />
<circle cx="306" cy="288.64" r="1" fill="#1cff1c"/>
<circle cx="305.73" cy="285.99" r="1" fill="#1cff1c"/>
<circle cx="306.57" cy="284.67" r="1" fill="#1cff1c"/>
<circle cx="306.17" cy="280.71" r="1" fill="#1cff1c"/>
<line x1="306.2" y1="316.8" x2="306.2" y2="320.6" stroke="#444" stroke-width="0.9" />
<text x="305.8" y="321" font-size="6.4" text-anchor="end" fill="#222" transform="rotate(-45 305.8 321)" dy="3">0.0</text>
<rect x="310.75" y="282.03" width="2.9" height="34.37" fill="#fff" stroke="#1cff1c" stroke-width="0.8" />
<line x1="312.2" y1="278.72" x2="312.2" y2="285.33" stroke="#bbbbbb" stroke-width="0.6" />
<circle cx="312.42" cy="283.35" r="1" fill="#1cff1c"/>
<circle cx="312.58" cy="282.03" r="1" fill="#1cff1c"/>
<circle cx="312.41" cy="281.37" r="1" fill="#1cff1c"/>
<circle cx="312.62" cy="280.71" r="1" fill="#1cff1c"/>
<line x1="312.2" y1="316.8" x2="312.2" y2="320.6" stroke="#444" stroke-width="0.9" />
<text x="311.8" y="321" font-size="6.4" text-anchor="end" fill="#222" transform="rotate(-45 311.8 321)" dy="3">0.1</text>
<rect x="316.75" y="278.99" width="2.9" height="37.41" fill="#fff" stroke="#1cff1c" stroke-width="0.8" />
<line x1="318.2" y1="275.68" x2="318.2" y2="282.29" stroke="#bbbbbb" stroke-width="0.6" />
<circle cx="318.09" cy="280.04" r="1" fill="#1cff1c"/>
<circle cx="318.5" cy="279.38" r="1" fill="#1cff1c"/>
<circle cx="318.14" cy="278.06" r="1" fill="#1cff1c"/>
<circle cx="318.64" cy="278.06" r="1" fill="#1cff1c"/>
<line x1="318.2" y1="316.8" x2="318.2" y2="320.6" stroke="#444" stroke-width="0.9" />
<text x="317.8" y="321" font-size="6.4" text-anchor="end" fill="#222" transform="rotate(-45 317.8 321)" dy="3">1.0</text>
<rect x="322.75" y="277" width="2.9" height="39.4" fill="#fff" stroke="#1cff1c" stroke-width="0.8" />
<line x1="324.2" y1="273.7" x2="324.2" y2="280.31" stroke="#bbbbbb" stroke-width="0.6" />
<circle cx="324.58" cy="278.72" r="1" fill="#1cff1c"/>
<circle cx="323.8" cy="277.4" r="1" fill="#1cff1c"/>
<circle cx="323.84" cy="276.08" r="1" fill="#1cff1c"/>
<circle cx="323.92" cy="274.76" r="1" fill="#1cff1c"/>
<line x1="324.2" y1="316.8" x2="324.2" y2="320.6" stroke="#444" stroke-width="0.9" />
<text x="323.8" y="321" font-size="6.4" text-anchor="end" fill="#222" transform="rotate(-45 323.8 321)" dy="3">3.0</text>
<rect x="328.75" y="277" width="2.9" height="39.4" fill="#fff" stroke="#1cff1c" stroke-width="0.8" />
<line x1="330.2" y1="273.7" x2="330.2" y2="280.31" stroke="#bbbbbb" stroke-width="0.6" />
<circle cx="330.67" cy="278.06" r="1" fill="#1cff1c"/>
<circle cx="330.14" cy="276.74" r="1" fill="#1cff1c"/>
<circle cx="330.33" cy="276.08" r="1" fill="#1cff1c"/>
<circle cx="330" cy="275.42" r="1" fill="#1cff1c"/>
<line x1="330.2" y1="316.8" x2="330.2" y2="320.6" stroke="#444" stroke-width="0.9" />
<text x="329.8" y="321" font-size="6.4" text-anchor="end" fill="#222" transform="rotate(-45 329.8 321)" dy="3">10.0</text>
<rect x="334.75" y="276.74" width="2.9" height="39.66" fill="#fff" stroke="#1cff1c" stroke-width="0.8" />
<line x1="336.2" y1="273.43" x2="336.2" y2="280.04" stroke="#bbbbbb" stroke-width="0.6" />
<circle cx="336.21" cy="277.4" r="1" fill="#1cff1c"/>
<circle cx="336.09" cy="276.74" r="1" fill="#1cff1c"/>
<circle cx="336.05" cy="275.42" r="1" fill="#1cff1c"/>
<circle cx="336.29" cy="272.77" r="1" fill="#1cff1c"/>
<line x1="336.2" y1="316.8" x2="336.2" y2="320.6" stroke="#444" stroke-width="0.9" />
<text x="335.8" y="321" font-size="6.4" text-anchor="end" fill="#222" transform="rotate(-45 335.8 321)" dy="3">30.0</text>
<rect x="344.75" y="315.34" width="2.9" height="1.06" fill="#fff" stroke="#a020f0" stroke-width="0.8" />
<line x1="346.2" y1="312.04" x2="346.2" y2="318.65" stroke="#bbbbbb" stroke-width="0.6" />
<circle cx="346.28" cy="315.74" r="1" fill="#9900ee"/>
<circle cx="346.6" cy="315.08" r="1" fill="#9900ee"/>
<circle cx="346.38" cy="315.08" r="1" fill="#9900ee"/>
<line x1="346.2" y1="316.8" x2="346.2" y2="320.6" stroke="#444" stroke-width="0.9" />
<text x="345.8" y="321" font-size="6.4" text-anchor="end" fill="#222" transform="rotate(-45 345.8 321)" dy="3">0.0</text>
<rect x="350.75" y="314.28" width="2.9" height="2.12" fill="#fff" stroke="#a020f0" stroke-width="0.8" />
<line x1="352.2" y1="310.98" x2="352.2" y2="317.59" stroke="#bbbbbb" stroke-width="0.6" />
<circle cx="352.63" cy="314.42" r="1" fill="#9900ee"/>
<circle cx="352.56" cy="313.76" r="1" fill="#9900ee"/>
<circle cx="352.69" cy="313.09" r="1" fill="#9900ee"/>
<line x1="352.2" y1="316.8" x2="352.2" y2="320.6" stroke="#444" stroke-width="0.9" />
<text x="351.8" y="321" font-size="6.4" text-anchor="end" fill="#222" transform="rotate(-45 351.8 321)" dy="3">0.1</text>
<rect x="356.75" y="312.43" width="2.9" height="3.97" fill="#fff" stroke="#a020f0" stroke-width="0.8" />
<line x1="358.2" y1="309.13" x2="358.2" y2="315.74" stroke="#bbbbbb" stroke-width="0.6" />
<circle cx="358.37" cy="313.09" r="1" fill="#9900ee"/>
<circle cx="357.86" cy="311.77" r="1" fill="#9900ee"/>
<circle cx="358.56" cy="310.45" r="1" fill="#9900ee"/>
<line x1="358.2" y1="316.8" x2="358.2" y2="320.6" stroke="#444" stroke-width="0.9" />
<text x="357.8" y="321" font-size="6.4" text-anchor="end" fill="#222" transform="rotate(-45 357.8 321)" dy="3">1.0</text>
<rect x="362.75" y="313.49" width="2.9" height="2.91" fill="#fff" stroke="#a020f0" stroke-width="0.8" />
<line x1="364.2" y1="310.19" x2="364.2" y2="316.8" stroke="#bbbbbb" stroke-width="0.6" />
<circle cx="364.66" cy="313.76" r="1" fill="#9900ee"/>
<circle cx="364.6" cy="313.09" r="1" fill="#9900ee"/>
<circle cx="364.27" cy="313.09" r="1" fill="#9900ee"/>
<line x1="364.2" y1="316.8" x2="364.2" y2="320.6" stroke="#444" stroke-width="0.9" />
<text x="363.8" y="321" font-size="6.4" text-anchor="end" fill="#222" transform="rotate(-45 363.8 321)" dy="3">3.0</text>
<rect x="368.75" y="312.7" width="2.9" height="3.7" fill="#fff" stroke="#a020f0" stroke-width="0.8" />
<line x1="370.2" y1="309.39" x2="370.2" y2="316" stroke="#bbbbbb" stroke-width="0.6" />
<circle cx="370.41" cy="313.09" r="1" fill="#9900ee"/>
<circle cx="369.91" cy="312.43" r="1" fill="#9900ee"/>
<circle cx="370.53" cy="311.11" r="1" fill="#9900ee"/>
<line x1="370.2" y1="316.8" x2="370.2" y2="320.6" stroke="#444" stroke-width="0.9" />
<text x="369.8" y="321" font-size="6.4" text-anchor="end" fill="#222" transform="rotate(-45 369.8 321)" dy="3">10.0</text>
<rect x="374.75" y="313.49" width="2.9" height="2.91" fill="#fff" stroke="#a020f0" stroke-width="0.8" />
<line x1="376.2" y1="310.19" x2="376.2" y2="316.8" stroke="#bbbbbb" stroke-width="0.6" />
<circle cx="376.27" cy="313.76" r="1" fill="#9900ee"/>
<circle cx="375.98" cy="313.09" r="1" fill="#9900ee"/>
<circle cx="375.76" cy="312.43" r="1" fill="#9900ee"/>
<line x1="376.2" y1="316.8" x2="376.2" y2="320.6" stroke="#444" stroke-width="0.9" />
<text x="375.8" y="321" font-size="6.4" text-anchor="end" fill="#222" transform="rotate(-45 375.8 321)" dy="3">30.0</text>
<rect x="384.75" y="294.98" width="2.9" height="21.42" fill="#fff" stroke="#ffbe88" stroke-width="1.1" />
<line x1="386.2" y1="291.68" x2="386.2" y2="298.29" stroke="#bbbbbb" stroke-width="0.6" />
<circle cx="386.55" cy="297.89" r="1" fill="#ff7f00"/>
<circle cx="386.69" cy="295.25" r="1" fill="#ff7f00"/>
<circle cx="385.79" cy="293.93" r="1" fill="#ff7f00"/>
<circle cx="386.5" cy="291.28" r="1" fill="#ff7f00"/>
<line x1="386.2" y1="316.8" x2="386.2" y2="320.6" stroke="#444" stroke-width="0.9" />
<text x="385.8" y="321" font-size="6.4" text-anchor="end" fill="#222" transform="rotate(-45 385.8 321)" dy="3">0.0</text>
<rect x="390.75" y="295.91" width="2.9" height="20.49" fill="#fff" stroke="#ffbe88" stroke-width="1.1" />
<line x1="392.2" y1="292.6" x2="392.2" y2="299.21" stroke="#bbbbbb" stroke-width="0.6" />
<circle cx="392.11" cy="297.89" r="1" fill="#ff7f00"/>
<circle cx="391.85" cy="296.57" r="1" fill="#ff7f00"/>
<circle cx="391.99" cy="295.25" r="1" fill="#ff7f00"/>
<circle cx="392.47" cy="293.26" r="1" fill="#ff7f00"/>
<line x1="392.2" y1="316.8" x2="392.2" y2="320.6" stroke="#444" stroke-width="0.9" />
<text x="391.8" y="321" font-size="6.4" text-anchor="end" fill="#222" transform="rotate(-45 391.8 321)" dy="3">0.1</text>
<rect x="396.75" y="291.02" width="2.9" height="25.38" fill="#fff" stroke="#ffbe88" stroke-width="1.1" />
<line x1="398.2" y1="287.71" x2="398.2" y2="294.32" stroke="#bbbbbb" stroke-width="0.6" />
<circle cx="398.57" cy="293.93" r="1" fill="#ff7f00"/>
<circle cx="397.74" cy="291.28" r="1" fill="#ff7f00"/>
<circle cx="398.31" cy="287.32" r="1" fill="#ff7f00"/>
<circle cx="397.74" cy="285.99" r="1" fill="#ff7f00"/>
<line x1="398.2" y1="316.8" x2="398.2" y2="320.6" stroke="#444" stroke-width="0.9" />
<text x="397.8" y="321" font-size="6.4" text-anchor="end" fill="#222" transform="rotate(-45 397.8 321)" dy="3">1.0</text>
<rect x="402.75" y="282.95" width="2.9" height="33.45" fill="#fff" stroke="#ffbe88" stroke-width="1.1" />
<line x1="404.2" y1="279.65" x2="404.2" y2="286.26" stroke="#bbbbbb" stroke-width="0.6" />
<circle cx="404.42" cy="284.67" r="1" fill="#ff7f00"/>
<circle cx="404.03" cy="283.35" r="1" fill="#ff7f00"/>
<circle cx="404.58" cy="282.03" r="1" fill="#ff7f00"/>
<circle cx="404.68" cy="280.04" r="1" fill="#ff7f00"/>
<line x1="404.2" y1="316.8" x2="404.2" y2="320.6" stroke="#444" stroke-width="0.9" />
<text x="403.8" y="321" font-size="6.4" text-anchor="end" fill="#222" transform="rotate(-45 403.8 321)" dy="3">3.0</text>
<rect x="408.75" y="278.59" width="2.9" height="37.81" fill="#fff" stroke="#ffbe88" stroke-width="1.1" />
<line x1="410.2" y1="275.29" x2="410.2" y2="281.9" stroke="#bbbbbb" stroke-width="0.6" />
<circle cx="410.21" cy="280.04" r="1" fill="#ff7f00"/>
<circle cx="410.7" cy="279.38" r="1" fill="#ff7f00"/>
<circle cx="410.01" cy="278.06" r="1" fill="#ff7f00"/>
<circle cx="409.78" cy="277.4" r="1" fill="#ff7f00"/>
<line x1="410.2" y1="316.8" x2="410.2" y2="320.6" stroke="#444" stroke-width="0.9" />
<text x="409.8" y="321" font-size="6.4" text-anchor="end" fill="#222" transform="rotate(-45 409.8 321)" dy="3">10.0</text>
<rect x="414.75" y="273.3" width="2.9" height="43.1" fill="#fff" stroke="#ffbe88" stroke-width="1.1" />
<line x1="416.2" y1="270" x2="416.2" y2="276.61" stroke="#bbbbbb" stroke-width="0.6" />
<circle cx="416.3" cy="274.76" r="1" fill="#ff7f00"/>
<circle cx="415.73" cy="273.43" r="1" fill="#ff7f00"/>
<circle cx="415.9" cy="272.77" r="1" fill="#ff7f00"/>
<line x1="416.2" y1="316.8" x2="416.2" y2="320.6" stroke="#444" stroke-width="0.9" />
<text x="415.8" y="321" font-size="6.4" text-anchor="end" fill="#222" transform="rotate(-45 415.8 321)" dy="3">30.0</text>
<line x1="261.5" y1="316.4" x2="421" y2="316.4" stroke="#3a3a3a" stroke-width="1.2" />
<line x1="272.4" y1="212.6" x2="296.6" y2="212.6" stroke="#2a2a2a" stroke-width="1.3" />
<text x="284.5" y="212.05" font-size="8.8" text-anchor="middle" fill="#111" >****</text>
<line x1="322.4" y1="262.4" x2="340" y2="262.4" stroke="#2a2a2a" stroke-width="1.3" />
<text x="331.2" y="261.25" font-size="8.8" text-anchor="middle" fill="#111" >*</text>
<line x1="401.4" y1="263.4" x2="419" y2="263.4" stroke="#2a2a2a" stroke-width="1.3" />
<text x="410.2" y="261.95" font-size="8.8" text-anchor="middle" fill="#111" >****</text>
<text x="241.24" y="260.2" font-size="7.1" text-anchor="middle" font-weight="bold" fill="#1a1a1a" transform="rotate(-90 241.24 260.2)">NAD:NAD-IS ratio</text>
<text x="333.6" y="346.94" font-size="7.1" text-anchor="middle" font-weight="bold" fill="#000" >Dose of GSK978A (mg/kg)</text>
<circle cx="423.7" cy="218.2" r="0.9" fill="#ff2020"/>
<text x="427" y="220.31" font-size="5.9" text-anchor="start" fill="#111" >Liver</text>
<circle cx="423.7" cy="232.5" r="0.9" fill="#1cff1c"/>
<text x="427" y="234.61" font-size="5.9" text-anchor="start" fill="#111" >Gastroc</text>
<circle cx="423.7" cy="246.8" r="0.9" fill="#a030ff"/>
<text x="427" y="248.91" font-size="5.9" text-anchor="start" fill="#111" >WAT</text>
<circle cx="423.7" cy="261.1" r="0.9" fill="#ff9a40"/>
<text x="427" y="263.21" font-size="5.9" text-anchor="start" fill="#111" >Brain</text>
<line x1="482" y1="212.4" x2="482" y2="236.8" stroke="#333" stroke-width="1" />
<line x1="479" y1="233.52" x2="482" y2="233.52" stroke="#333" stroke-width="0.9" />
<text x="476.2" y="235.9" font-size="6.1" text-anchor="end" fill="#111" >4</text>
<line x1="479" y1="226.78" x2="482" y2="226.78" stroke="#333" stroke-width="0.9" />
<text x="476.2" y="229.16" font-size="6.1" text-anchor="end" fill="#111" >6</text>
<line x1="479" y1="220.04" x2="482" y2="220.04" stroke="#333" stroke-width="0.9" />
<text x="476.2" y="222.42" font-size="6.1" text-anchor="end" fill="#111" >8</text>
<line x1="479" y1="213.3" x2="482" y2="213.3" stroke="#333" stroke-width="0.9" />
<text x="476.2" y="215.68" font-size="6.1" text-anchor="end" fill="#111" >10</text>
<line x1="479" y1="236.8" x2="485" y2="236.8" stroke="#333" stroke-width="0.9" />
<line x1="479" y1="244.2" x2="485" y2="244.2" stroke="#333" stroke-width="0.9" />
<line x1="482" y1="244.2" x2="482" y2="317.4" stroke="#333" stroke-width="1" />
<line x1="479" y1="317" x2="482" y2="317" stroke="#333" stroke-width="0.9" />
<text x="476.2" y="319.38" font-size="6.1" text-anchor="end" fill="#111" >0</text>
<line x1="479" y1="288.4" x2="482" y2="288.4" stroke="#333" stroke-width="0.9" />
<text x="476.2" y="290.78" font-size="6.1" text-anchor="end" fill="#111" >1</text>
<line x1="479" y1="259.8" x2="482" y2="259.8" stroke="#333" stroke-width="0.9" />
<text x="476.2" y="262.18" font-size="6.1" text-anchor="end" fill="#111" >2</text>
<line x1="479" y1="317" x2="642.8" y2="317" stroke="#333" stroke-width="1" />
<line x1="481.8" y1="317" x2="481.8" y2="319.6" stroke="#333" stroke-width="0.9" />
<text x="481.8" y="328.52" font-size="6.2" text-anchor="middle" fill="#111" >0</text>
<line x1="497.85" y1="317" x2="497.85" y2="318.3" stroke="#333" stroke-width="0.9" />
<line x1="513.9" y1="317" x2="513.9" y2="319.6" stroke="#333" stroke-width="0.9" />
<text x="512.7" y="328.52" font-size="6.2" text-anchor="middle" fill="#111" >200</text>
<line x1="529.95" y1="317" x2="529.95" y2="318.3" stroke="#333" stroke-width="0.9" />
<line x1="546" y1="317" x2="546" y2="319.6" stroke="#333" stroke-width="0.9" />
<text x="544.8" y="328.52" font-size="6.2" text-anchor="middle" fill="#111" >400</text>
<line x1="562.05" y1="317" x2="562.05" y2="318.3" stroke="#333" stroke-width="0.9" />
<line x1="578.1" y1="317" x2="578.1" y2="319.6" stroke="#333" stroke-width="0.9" />
<text x="576.9" y="328.52" font-size="6.2" text-anchor="middle" fill="#111" >600</text>
<line x1="594.15" y1="317" x2="594.15" y2="318.3" stroke="#333" stroke-width="0.9" />
<line x1="610.2" y1="317" x2="610.2" y2="319.6" stroke="#333" stroke-width="0.9" />
<text x="609" y="328.52" font-size="6.2" text-anchor="middle" fill="#111" >800</text>
<line x1="626.25" y1="317" x2="626.25" y2="318.3" stroke="#333" stroke-width="0.9" />
<line x1="642.3" y1="317" x2="642.3" y2="319.6" stroke="#333" stroke-width="0.9" />
<text x="641.1" y="328.52" font-size="6.2" text-anchor="middle" fill="#111" >1000</text>
<text x="465.45" y="271.6" font-size="6.85" text-anchor="middle" font-weight="bold" fill="#1a1a1a" transform="rotate(-90 465.45 271.6)">NAD (fold change)</text>
<text x="549.5" y="338.01" font-size="7.3" text-anchor="middle" font-weight="bold" fill="#000" >Exposure of GSK978A (ng/g tissue)</text>
<g clip-path="url(#clipFL)">
<polyline points="481.8,317 481.88,310.57 481.96,305.42 482.12,297.7 482.28,292.19 482.6,284.84 482.92,280.16 483.41,275.65 484.05,271.98 485.01,268.76 486.13,266.58 487.42,265.05 489.02,263.84 491.43,262.73 494.64,261.87 497.85,261.34 502.67,260.84 509.09,260.44 517.11,260.15 526.74,259.93 537.98,259.77" fill="none" stroke="#ff8a1a" stroke-width="1" stroke-linejoin="round" />
</g>
<g clip-path="url(#clipFL)">
<polyline points="481.8,317 481.88,310.35 481.96,304.15 482.12,292.91 482.28,282.99 482.6,266.28 482.92,252.75 483.41,236.69 484.05,220.63 485.01,203.63 486.13,190.08 487.42,179.33 489.02,170 491.43,160.73 494.64,152.97 497.85,147.93 502.67,143 509.09,138.93 517.11,135.8 526.74,133.44 537.98,131.68 554.02,130.08 570.08,129.05 586.12,128.33 602.17,127.8 618.23,127.39 642.3,126.93" fill="none" stroke="#a030ff" stroke-width="1" stroke-linejoin="round" />
</g>
<g clip-path="url(#clipFU)">
<polyline points="481.8,247 481.88,246.22 481.96,245.49 482.12,244.16 482.28,242.99 482.6,241.02 482.92,239.43 483.41,237.54 484.05,235.64 485.01,233.64 486.13,232.04 487.42,230.78 489.02,229.68 491.43,228.59 494.64,227.67 497.85,227.08 502.67,226.5 509.09,226.02 517.11,225.65 526.74,225.37 537.98,225.16 554.02,224.97 570.08,224.85 586.12,224.77 602.17,224.71 618.23,224.66 642.3,224.6" fill="none" stroke="#a030ff" stroke-width="1" stroke-linejoin="round" />
</g>
<g clip-path="url(#clipFL)">
<polyline points="481.8,317 481.88,316.65 481.96,316.31 482.12,315.63 482.28,314.97 482.6,313.68 482.92,312.45 483.41,310.71 484.05,308.53 485.01,305.58 486.13,302.52 487.42,299.45 489.02,296.13 491.43,291.99 494.64,287.62 497.85,284.19 502.67,280.21 509.09,276.35 517.11,272.94 526.74,270.06 537.98,267.7 554.02,265.4 570.08,263.82 586.12,262.67 602.17,261.79 618.23,261.1 642.3,260.3" fill="none" stroke="#ff1a1a" stroke-width="1" stroke-linejoin="round" />
</g>
<g clip-path="url(#clipFL)">
<polyline points="481.8,317 481.88,300.01 481.96,293.64 482.12,288.25 482.28,285.85 482.6,283.62 482.92,282.57 483.41,281.74 484.05,281.16 485.01,280.71 486.13,280.43 487.42,280.25 489.02,280.11 491.43,279.99 494.64,279.9 497.85,279.84 502.67,279.79 509.09,279.75 517.11,279.72 526.74,279.7 537.98,279.68 554.02,279.67 570.08,279.66 586.12,279.65 602.17,279.65 618.23,279.65 642.3,279.64" fill="none" stroke="#22c022" stroke-width="1" stroke-linejoin="round" />
</g>
<rect x="479.9" y="286.5" width="3.8" height="3.8" fill="#ff1a1a" stroke="none" stroke-width="1" />
<rect x="513.7" y="276.5" width="3.8" height="3.8" fill="#ff1a1a" stroke="none" stroke-width="1" />
<rect x="516.1" y="273.1" width="3.8" height="3.8" fill="#ff1a1a" stroke="none" stroke-width="1" />
<rect x="518.1" y="266.1" width="3.8" height="3.8" fill="#ff1a1a" stroke="none" stroke-width="1" />
<rect x="519.7" y="271.1" width="3.8" height="3.8" fill="#ff1a1a" stroke="none" stroke-width="1" />
<rect x="562.1" y="260.1" width="3.8" height="3.8" fill="#ff1a1a" stroke="none" stroke-width="1" />
<rect x="570.1" y="252.1" width="3.8" height="3.8" fill="#ff1a1a" stroke="none" stroke-width="1" />
<rect x="583.5" y="255.7" width="3.8" height="3.8" fill="#ff1a1a" stroke="none" stroke-width="1" />
<rect x="586.1" y="254.1" width="3.8" height="3.8" fill="#ff1a1a" stroke="none" stroke-width="1" />
<polygon points="486,279.48 483.48,283.89 488.52,283.89" fill="#22c022"/>
<polygon points="506,277.88 503.48,282.29 508.52,282.29" fill="#22c022"/>
<polygon points="507.6,278.08 505.08,282.49 510.12,282.49" fill="#22c022"/>
<polygon points="510.4,275.88 507.88,280.29 512.92,280.29" fill="#22c022"/>
<polygon points="600.5,278.98 597.98,283.39 603.02,283.39" fill="#22c022"/>
<polygon points="620.5,276.48 617.98,280.89 623.02,280.89" fill="#22c022"/>
<polygon points="624.5,278.78 621.98,283.19 627.02,283.19" fill="#22c022"/>
<polygon points="631.5,277.08 628.98,281.49 634.02,281.49" fill="#22c022"/>
<polygon points="483,271.72 484.9,274 483,276.28 481.1,274" fill="#ff8a1a"/>
<polygon points="485,266.72 486.9,269 485,271.28 483.1,269" fill="#ff8a1a"/>
<polygon points="485.4,268.32 487.3,270.6 485.4,272.88 483.5,270.6" fill="#ff8a1a"/>
<polygon points="495,258.32 496.9,260.6 495,262.88 493.1,260.6" fill="#ff8a1a"/>
<polygon points="499,260.72 500.9,263 499,265.28 497.1,263" fill="#ff8a1a"/>
<polygon points="499.8,262.72 501.7,265 499.8,267.28 497.9,265" fill="#ff8a1a"/>
<polygon points="529,251.72 530.9,254 529,256.28 527.1,254" fill="#ff8a1a"/>
<polygon points="532,251.72 533.9,254 532,256.28 530.1,254" fill="#ff8a1a"/>
<polygon points="535,252.32 536.9,254.6 535,256.88 533.1,254.6" fill="#ff8a1a"/>
<polygon points="540,254.72 541.9,257 540,259.28 538.1,257" fill="#ff8a1a"/>
<polygon points="483.6,261.4 481.2,257.2 486,257.2" fill="#a030ff"/>
<polygon points="483.6,276.4 481.2,272.2 486,272.2" fill="#a030ff"/>
<polygon points="483,265.4 480.6,261.2 485.4,261.2" fill="#a030ff"/>
<polygon points="485,236.52 482.48,232.11 487.52,232.11" fill="#a030ff"/>
<polygon points="496,229.52 493.48,225.11 498.52,225.11" fill="#a030ff"/>
<polygon points="497.4,229.92 494.88,225.51 499.92,225.51" fill="#a030ff"/>
<polygon points="511.6,228.92 509.08,224.51 514.12,224.51" fill="#a030ff"/>
<polygon points="530.6,215.52 528.08,211.11 533.12,211.11" fill="#a030ff"/>
<polygon points="535,230.92 532.48,226.51 537.52,226.51" fill="#a030ff"/>
<polygon points="552,231.52 549.48,227.11 554.52,227.11" fill="#a030ff"/>
<polygon points="553.5,230.52 550.98,226.11 556.02,226.11" fill="#a030ff"/>
<polygon points="569.4,230.52 566.88,226.11 571.92,226.11" fill="#a030ff"/>
<line x1="649.1" y1="219.9" x2="660" y2="219.9" stroke="#ff8080" stroke-width="1" />
<rect x="652.75" y="218.05" width="3.7" height="3.7" fill="#ff1a1a" stroke="none" stroke-width="1" />
<text x="663" y="222.08" font-size="6.1" text-anchor="start" fill="#111" >Liver</text>
<line x1="649.1" y1="234" x2="660" y2="234" stroke="#80dd80" stroke-width="1" />
<polygon points="654.6,231.78 652.38,235.66 656.82,235.66" fill="#22c022"/>
<text x="663" y="236.18" font-size="6.1" text-anchor="start" fill="#111" >Gastroc</text>
<line x1="649.1" y1="248.1" x2="660" y2="248.1" stroke="#cc88ff" stroke-width="1" />
<polygon points="654.6,250.32 652.38,246.44 656.82,246.44" fill="#a030ff"/>
<text x="663" y="250.28" font-size="6.1" text-anchor="start" fill="#111" >WAT</text>
<line x1="649.1" y1="262.2" x2="660" y2="262.2" stroke="#ffbb80" stroke-width="1" />
<polygon points="654.6,259.98 656.45,262.2 654.6,264.42 652.75,262.2" fill="#ff8a1a"/>
<text x="663" y="264.38" font-size="6.1" text-anchor="start" fill="#111" >Brain</text>
<rect x="471.8" y="341.6" width="184.8" height="21.5" fill="none" stroke="#222" stroke-width="0.8" />
<line x1="471.8" y1="352.5" x2="656.6" y2="352.5" stroke="#222" stroke-width="0.8" />
<line x1="517.4" y1="341.6" x2="517.4" y2="363.1" stroke="#222" stroke-width="0.8" />
<line x1="549.7" y1="341.6" x2="549.7" y2="363.1" stroke="#d8d8d8" stroke-width="0.8" />
<line x1="591.6" y1="341.6" x2="591.6" y2="363.1" stroke="#d8d8d8" stroke-width="0.8" />
<line x1="623.4" y1="341.6" x2="623.4" y2="363.1" stroke="#d8d8d8" stroke-width="0.8" />
<text x="532.3" y="349.81" font-size="7" text-anchor="middle" fill="#111" >Liver</text>
<text x="568.6" y="349.81" font-size="7" text-anchor="middle" fill="#111" >Gastroc</text>
<text x="606.4" y="349.81" font-size="7" text-anchor="middle" fill="#111" >WAT</text>
<text x="638.5" y="349.81" font-size="7" text-anchor="middle" fill="#111" >Brain</text>
<text x="497" y="360.21" font-size="7" text-anchor="middle" fill="#111" >Bmax</text>
<text x="532" y="360.21" font-size="7" text-anchor="middle" fill="#111" >2.157</text>
<text x="564.6" y="360.21" font-size="7" text-anchor="middle" fill="#111" >1.307</text>
<text x="606.2" y="360.21" font-size="7" text-anchor="middle" fill="#111" >6.739</text>
<text x="638" y="360.21" font-size="7" text-anchor="middle" fill="#111" >2.024</text>
</svg>
</body></html>
